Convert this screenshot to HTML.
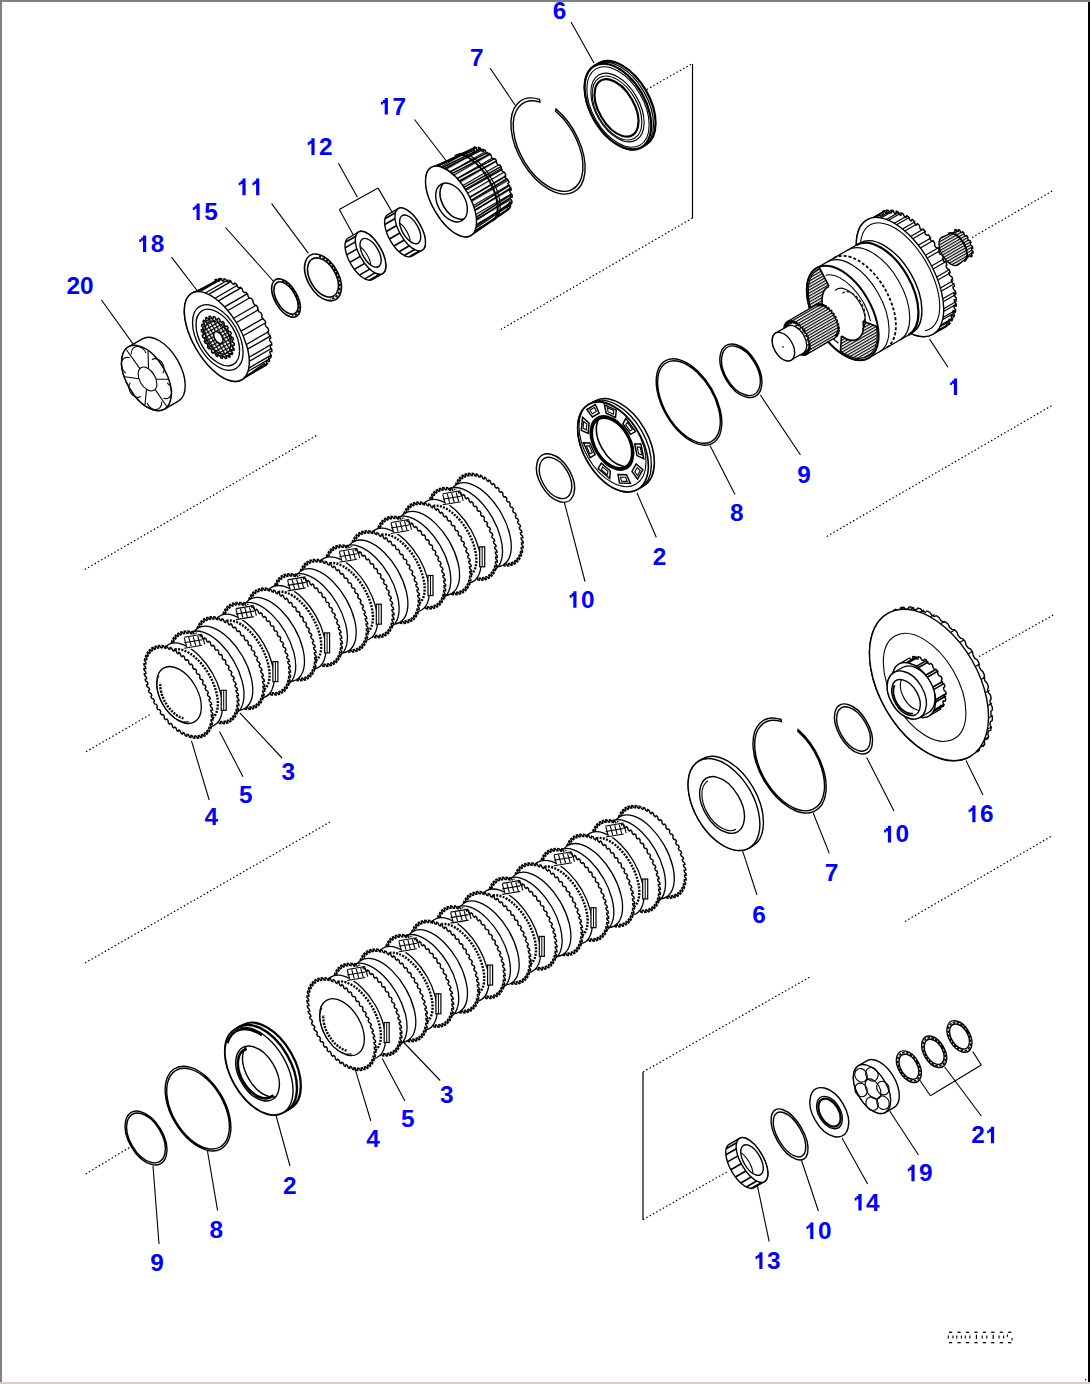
<!DOCTYPE html>
<html><head><meta charset="utf-8"><style>
html,body{margin:0;padding:0;background:#fff;}
body{width:1090px;height:1384px;overflow:hidden;position:relative;}
svg{position:absolute;left:0;top:0;}
text{font-family:"Liberation Sans",sans-serif;font-weight:bold;font-size:24.4px;fill:#0000ff;}
</style></head><body>
<svg width="1090" height="1384" viewBox="0 0 1090 1384" stroke-linecap="butt" stroke-linejoin="miter">
<defs>
<pattern id="hU" width="8" height="3.2" patternUnits="userSpaceOnUse" patternTransform="rotate(-30)"><rect x="0" y="0" width="8" height="1.1" fill="#000"/></pattern>
<pattern id="hU2" width="8" height="2.6" patternUnits="userSpaceOnUse" patternTransform="rotate(-30)"><rect x="0" y="0" width="8" height="1.2" fill="#000"/></pattern>
<pattern id="hU4" width="8" height="4.5" patternUnits="userSpaceOnUse" patternTransform="rotate(-30)"><rect x="0" y="0" width="8" height="1.2" fill="#000"/></pattern>
<pattern id="xh" width="3.4" height="3.4" patternUnits="userSpaceOnUse" patternTransform="rotate(-30)"><rect x="0" y="0" width="3.4" height="1.2" fill="#000"/><rect x="0" y="0" width="1.2" height="3.4" fill="#000"/></pattern>
</defs>
<rect x="0" y="0" width="1090" height="1384" fill="#fff"/>
<line x1="646.8" y1="89.5" x2="691.7" y2="63.9" stroke="#000" stroke-width="1.2" stroke-dasharray="1.5 2.3"/>
<line x1="692.5" y1="218" x2="500.9" y2="329.5" stroke="#000" stroke-width="1.2" stroke-dasharray="1.5 2.3"/>
<line x1="972" y1="237.6" x2="1052.2" y2="191" stroke="#000" stroke-width="1.2" stroke-dasharray="1.5 2.3"/>
<line x1="84.7" y1="569.6" x2="316.3" y2="435.6" stroke="#000" stroke-width="1.2" stroke-dasharray="1.5 2.3"/>
<line x1="86" y1="751.8" x2="151" y2="714" stroke="#000" stroke-width="1.2" stroke-dasharray="1.5 2.3"/>
<line x1="826.8" y1="536.4" x2="1052.2" y2="405.3" stroke="#000" stroke-width="1.2" stroke-dasharray="1.5 2.3"/>
<line x1="979" y1="656.6" x2="1054.8" y2="614.2" stroke="#000" stroke-width="1.2" stroke-dasharray="1.5 2.3"/>
<line x1="85" y1="963" x2="330" y2="822" stroke="#000" stroke-width="1.2" stroke-dasharray="1.5 2.3"/>
<line x1="905" y1="921.4" x2="1052.4" y2="835.6" stroke="#000" stroke-width="1.2" stroke-dasharray="1.5 2.3"/>
<line x1="85.7" y1="1174" x2="129.3" y2="1147.6" stroke="#000" stroke-width="1.2" stroke-dasharray="1.5 2.3"/>
<line x1="643" y1="1072" x2="810" y2="977" stroke="#000" stroke-width="1.2" stroke-dasharray="1.5 2.3"/>
<line x1="643" y1="1219.7" x2="726.7" y2="1172" stroke="#000" stroke-width="1.2" stroke-dasharray="1.5 2.3"/>
<line x1="692.5" y1="64" x2="692.5" y2="218" stroke="#000" stroke-width="1.2"/>
<line x1="643" y1="1072" x2="643" y2="1219.7" stroke="#000" stroke-width="1.2"/>
<line x1="101.3" y1="299.8" x2="133" y2="343.9" stroke="#000" stroke-width="1.1"/>
<line x1="171.5" y1="257.2" x2="199" y2="293" stroke="#000" stroke-width="1.1"/>
<line x1="225.5" y1="227.5" x2="275" y2="283" stroke="#000" stroke-width="1.1"/>
<line x1="271.6" y1="203.7" x2="308.3" y2="253.2" stroke="#000" stroke-width="1.1"/>
<line x1="338.4" y1="163.3" x2="357.4" y2="197.2" stroke="#000" stroke-width="1.1"/>
<line x1="339.3" y1="209.5" x2="378.1" y2="188.1" stroke="#000" stroke-width="1.1"/>
<line x1="339.3" y1="209.5" x2="353.3" y2="235.1" stroke="#000" stroke-width="1.1"/>
<line x1="378.1" y1="188.1" x2="392.1" y2="212" stroke="#000" stroke-width="1.1"/>
<line x1="414.5" y1="119.5" x2="447.5" y2="162.5" stroke="#000" stroke-width="1.1"/>
<line x1="490" y1="68" x2="515" y2="105" stroke="#000" stroke-width="1.1"/>
<line x1="571" y1="22" x2="594" y2="63" stroke="#000" stroke-width="1.1"/>
<line x1="929.6" y1="339.1" x2="948" y2="367.3" stroke="#000" stroke-width="1.1"/>
<line x1="760.4" y1="395" x2="800.5" y2="455" stroke="#000" stroke-width="1.1"/>
<line x1="710" y1="445.5" x2="735" y2="494.5" stroke="#000" stroke-width="1.1"/>
<line x1="637" y1="493" x2="656.3" y2="537.3" stroke="#000" stroke-width="1.1"/>
<line x1="564" y1="501" x2="585" y2="581.5" stroke="#000" stroke-width="1.1"/>
<line x1="191.5" y1="740.8" x2="209.2" y2="800" stroke="#000" stroke-width="1.1"/>
<line x1="219.5" y1="731.5" x2="243" y2="776.7" stroke="#000" stroke-width="1.1"/>
<line x1="239.8" y1="712.8" x2="282" y2="758" stroke="#000" stroke-width="1.1"/>
<line x1="742.1" y1="849.4" x2="757" y2="895" stroke="#000" stroke-width="1.1"/>
<line x1="813.2" y1="813" x2="829.3" y2="853.4" stroke="#000" stroke-width="1.1"/>
<line x1="866.7" y1="757.5" x2="894" y2="811" stroke="#000" stroke-width="1.1"/>
<line x1="966" y1="760.5" x2="983" y2="795" stroke="#000" stroke-width="1.1"/>
<line x1="355" y1="1068.6" x2="370.8" y2="1121" stroke="#000" stroke-width="1.1"/>
<line x1="382.2" y1="1058.4" x2="404.9" y2="1101" stroke="#000" stroke-width="1.1"/>
<line x1="402.8" y1="1041.5" x2="440.2" y2="1080.5" stroke="#000" stroke-width="1.1"/>
<line x1="153" y1="1166" x2="159" y2="1244" stroke="#000" stroke-width="1.1"/>
<line x1="207.3" y1="1150" x2="217.6" y2="1210.7" stroke="#000" stroke-width="1.1"/>
<line x1="276" y1="1115.5" x2="290" y2="1166" stroke="#000" stroke-width="1.1"/>
<line x1="755.6" y1="1177.2" x2="769.2" y2="1241.7" stroke="#000" stroke-width="1.1"/>
<line x1="801.4" y1="1160" x2="818.4" y2="1211" stroke="#000" stroke-width="1.1"/>
<line x1="842" y1="1138" x2="867.6" y2="1184" stroke="#000" stroke-width="1.1"/>
<line x1="889.7" y1="1111" x2="918.5" y2="1155" stroke="#000" stroke-width="1.1"/>
<line x1="944.7" y1="1067" x2="981.3" y2="1116" stroke="#000" stroke-width="1.1"/>
<line x1="920" y1="1080.5" x2="930.4" y2="1095.8" stroke="#000" stroke-width="1.1"/>
<line x1="930.4" y1="1095.8" x2="981.3" y2="1065" stroke="#000" stroke-width="1.1"/>
<line x1="981.3" y1="1065" x2="972.8" y2="1051.6" stroke="#000" stroke-width="1.1"/>
<rect x="949.0" y="1331.6" width="3.2" height="1.3" fill="#000"/>
<rect x="949.0" y="1342" width="3.2" height="1.3" fill="#000"/>
<rect x="947.8" y="1335.5" width="1.1" height="3" fill="#000"/>
<rect x="952.4" y="1335.5" width="1.1" height="3" fill="#000"/>
<rect x="957.5" y="1331.6" width="3.2" height="1.3" fill="#000"/>
<rect x="957.5" y="1342" width="3.2" height="1.3" fill="#000"/>
<rect x="956.2" y="1335.5" width="1.1" height="3" fill="#000"/>
<rect x="960.9" y="1335.5" width="1.1" height="3" fill="#000"/>
<rect x="965.9" y="1331.6" width="3.2" height="1.3" fill="#000"/>
<rect x="965.9" y="1342" width="3.2" height="1.3" fill="#000"/>
<rect x="964.7" y="1335.5" width="1.1" height="3" fill="#000"/>
<rect x="969.3" y="1335.5" width="1.1" height="3" fill="#000"/>
<rect x="974.4" y="1331.6" width="3.2" height="1.3" fill="#000"/>
<rect x="974.4" y="1342" width="3.2" height="1.3" fill="#000"/>
<rect x="975.8" y="1334.8" width="1.2" height="4.2" fill="#000"/>
<rect x="982.8" y="1331.6" width="3.2" height="1.3" fill="#000"/>
<rect x="982.8" y="1342" width="3.2" height="1.3" fill="#000"/>
<rect x="981.6" y="1335.5" width="1.1" height="3" fill="#000"/>
<rect x="986.2" y="1335.5" width="1.1" height="3" fill="#000"/>
<rect x="991.2" y="1331.6" width="3.2" height="1.3" fill="#000"/>
<rect x="991.2" y="1342" width="3.2" height="1.3" fill="#000"/>
<rect x="992.6" y="1334.8" width="1.2" height="4.2" fill="#000"/>
<rect x="999.7" y="1331.6" width="3.2" height="1.3" fill="#000"/>
<rect x="999.7" y="1342" width="3.2" height="1.3" fill="#000"/>
<rect x="998.5" y="1335.5" width="1.1" height="3" fill="#000"/>
<rect x="1003.1" y="1335.5" width="1.1" height="3" fill="#000"/>
<rect x="1008.1" y="1331.6" width="3.2" height="1.3" fill="#000"/>
<rect x="1008.1" y="1342" width="3.2" height="1.3" fill="#000"/>
<rect x="1006.9" y="1334.5" width="1.1" height="2.4" fill="#000"/>
<rect x="1011.5" y="1338" width="1.1" height="2.4" fill="#000"/>
<rect x="1085" y="1379" width="1.3" height="1.3" fill="#000"/>
<path d="M164.5 409.2 A19.8 36 -30 0 1 129.4 387.9 A19.8 36 -30 0 1 128.5 346.8 L142.4 338.8 A19.8 36 -30 0 1 177.5 360.1 A19.8 36 -30 0 1 178.4 401.2Z" fill="#fff" stroke="#000" stroke-width="1.4"/>
<path d="M163.6 368.1 A19.8 36 -30 0 1 153.5 409.9 A19.8 36 -30 0 1 122.3 355.9 A19.8 36 -30 0 1 163.6 368.1Z" fill="#fff" stroke="#000" stroke-width="1.4" fill-rule="evenodd"/>
<ellipse cx="147.5" cy="379" rx="7.8" ry="13" transform="rotate(-30 147.5 379)" fill="none" stroke="#000" stroke-width="1.1"/>
<line x1="156.1" y1="379.2" x2="168.2" y2="379.3" stroke="#000" stroke-width="1.1"/>
<line x1="155.1" y1="389.4" x2="166.6" y2="406.2" stroke="#000" stroke-width="1.1"/>
<line x1="146.5" y1="389.2" x2="145" y2="404.9" stroke="#000" stroke-width="1.1"/>
<line x1="138.9" y1="378.8" x2="124.8" y2="376.7" stroke="#000" stroke-width="1.1"/>
<line x1="139.9" y1="368.6" x2="126.4" y2="349.8" stroke="#000" stroke-width="1.1"/>
<line x1="148.5" y1="368.8" x2="148" y2="351.1" stroke="#000" stroke-width="1.1"/>
<path d="M167.2 383 A7.2 9 -30 0 1 163.4 398.3" fill="none" stroke="#000" stroke-width="1.1"/>
<path d="M161.7 401.6 A7.2 9 -30 0 1 147.1 403" fill="none" stroke="#000" stroke-width="1.1"/>
<path d="M141 396.6 A7.2 9 -30 0 1 130.2 382.7" fill="none" stroke="#000" stroke-width="1.1"/>
<path d="M125.8 373 A7.2 9 -30 0 1 129.6 357.7" fill="none" stroke="#000" stroke-width="1.1"/>
<path d="M131.3 354.4 A7.2 9 -30 0 1 145.9 353" fill="none" stroke="#000" stroke-width="1.1"/>
<path d="M152 359.4 A7.2 9 -30 0 1 162.8 373.3" fill="none" stroke="#000" stroke-width="1.1"/>
<path d="M241.8 379.8 A24 50 -30 0 1 196 348.5 A24 50 -30 0 1 191.8 293.2 L215.6 282.4l-0.5 -2.6 1.2 -0.5 1.9 2 1.2 -0.3 -0.2 -2.4 1.4 -0.1 1.8 2.3 1.4 0.1 0.2 -2.1 1.5 0.3 1.7 2.5 1.5 0.5 0.5 -1.8 1.6 0.7 1.5 2.6 1.6 0.9 0.8 -1.4 1.7 1.1 1.2 2.7 1.6 1.2 1.1 -0.9 1.7 1.4 0.9 2.7 1.6 1.5 1.4 -0.5 1.7 1.7 0.6 2.6 1.5 1.8 1.6 -0 1.6 2 0.3 2.4 1.4 2 1.8 0.5 1.4 2.2 -0.1 2.2 1.3 2.1 1.9 0.9 1.2 2.3 -0.4 1.9 1.1 2.2 2 1.3 1 2.4 -0.7 1.5 0.9 2.2 2 1.7 0.8 2.3 -1 1.1 0.6 2.2 1.9 2.1 0.5 2.2 -1.3 0.6 0.3 2.1 1.8 2.3 0.2 2.1 -1.5 0.2 0 1.9 1.6 2.5 -0.1 1.9 -1.7 -0.3 -0.2 1.6 1.4 2.7 -0.4 1.6 -1.9 -0.8 -0.5 1.3 1.1 2.7 -0.7 1.2 -1.9 -1.2 -0.8 1 0.8 2.7 -0.9 0.9 -2 -1.6 -1 0.7Z" fill="#fff" stroke="#000" stroke-width="1.4"/>
<line x1="196.9" y1="291.6" x2="219.5" y2="278.6" stroke="#000" stroke-width="1.3"/>
<line x1="199.7" y1="291.6" x2="222.3" y2="278.6" stroke="#000" stroke-width="1.3"/>
<line x1="205.4" y1="293" x2="228" y2="280" stroke="#000" stroke-width="1.3"/>
<line x1="208.7" y1="294.4" x2="231.2" y2="281.4" stroke="#000" stroke-width="1.3"/>
<line x1="215" y1="298.2" x2="237.5" y2="285.2" stroke="#000" stroke-width="1.3"/>
<line x1="218.4" y1="300.9" x2="240.9" y2="287.9" stroke="#000" stroke-width="1.3"/>
<line x1="224.6" y1="306.9" x2="247.1" y2="293.9" stroke="#000" stroke-width="1.3"/>
<line x1="227.9" y1="310.5" x2="250.4" y2="297.5" stroke="#000" stroke-width="1.3"/>
<line x1="233.6" y1="318.2" x2="256.1" y2="305.2" stroke="#000" stroke-width="1.3"/>
<line x1="236.4" y1="322.5" x2="258.9" y2="309.5" stroke="#000" stroke-width="1.3"/>
<line x1="241.1" y1="331.1" x2="263.6" y2="318.1" stroke="#000" stroke-width="1.3"/>
<line x1="243.2" y1="335.8" x2="265.7" y2="322.8" stroke="#000" stroke-width="1.3"/>
<line x1="246.4" y1="344.5" x2="268.9" y2="331.5" stroke="#000" stroke-width="1.3"/>
<line x1="247.6" y1="349.1" x2="270.2" y2="336.1" stroke="#000" stroke-width="1.3"/>
<line x1="249.1" y1="357.3" x2="271.6" y2="344.3" stroke="#000" stroke-width="1.3"/>
<line x1="249.3" y1="361.3" x2="271.8" y2="348.3" stroke="#000" stroke-width="1.3"/>
<line x1="248.8" y1="368.1" x2="271.3" y2="355.1" stroke="#000" stroke-width="1.3"/>
<line x1="248.1" y1="371.3" x2="270.6" y2="358.3" stroke="#000" stroke-width="1.3"/>
<line x1="245.7" y1="376.1" x2="268.2" y2="363.1" stroke="#000" stroke-width="1.3"/>
<line x1="244" y1="378.1" x2="266.5" y2="365.1" stroke="#000" stroke-width="1.3"/>
<path d="M237.6 324.5 A24 50 -30 0 1 228.1 380 A24 50 -30 0 1 184.8 305 A24 50 -30 0 1 237.6 324.5Z" fill="#fff" stroke="#000" stroke-width="1.4" fill-rule="evenodd"/>
<ellipse cx="217.8" cy="337.5" rx="20.5" ry="36" transform="rotate(-30 217.8 337.5)" fill="none" stroke="#000" stroke-width="1.3"/>
<ellipse cx="217.8" cy="337.5" rx="17.7" ry="31" transform="rotate(-30 217.8 337.5)" fill="none" stroke="#000" stroke-width="1.3"/>
<path d="M206.4 344.1 A13.2 22 -30 0 1 214 317.7 A13.2 22 -30 0 1 233 350.7 A13.2 22 -30 0 1 206.4 344.1 L217.7 337.5 A0.1 0.1 -30 0 0 217.9 337.6 A0.1 0.1 -30 0 0 217.8 337.4 A0.1 0.1 -30 0 0 217.7 337.5Z" fill="url(#xh)" stroke="none"/>
<path d="M207.1 343.6l-1.9 -0.4 -0.9 -1.8 1 -1.5 -0.6 -1.6 -2 -1.1 -0.5 -1.8 1.4 -0.8 -0.3 -1.6 -1.9 -1.7 -0.1 -1.7 1.8 -0.1 0.1 -1.4 -1.7 -2.2 0.3 -1.5 2 0.6 0.4 -1.2 -1.3 -2.5 0.7 -1.1 2 1.3 0.7 -0.8 -0.8 -2.6 1 -0.7 1.9 1.8 1 -0.4 -0.3 -2.4 1.2 -0.2 1.6 2.3 1.2 0.1 0.3 -2.1 1.4 0.3 1.2 2.5 1.3 0.5 0.9 -1.6 1.4 0.8 0.7 2.5 1.2 0.9 1.3 -1 1.3 1.3 0.1 2.4 1.1 1.3 1.7 -0.3 1.2 1.6 -0.5 2 0.9 1.5 1.9 0.4 0.9 1.8 -1 1.5 0.6 1.6 2 1.1 0.5 1.8 -1.4 0.8 0.3 1.6 1.9 1.7 0.1 1.7 -1.8 0.1 -0.1 1.4 1.7 2.2 -0.3 1.5 -2 -0.6 -0.4 1.2 1.3 2.5 -0.7 1.1 -2 -1.3 -0.7 0.8 0.8 2.6 -1 0.7 -1.9 -1.8 -1 0.4 0.3 2.4 -1.2 0.2 -1.6 -2.3 -1.2 -0.1 -0.3 2.1 -1.4 -0.3 -1.2 -2.5 -1.3 -0.5 -0.9 1.6 -1.4 -0.8 -0.7 -2.5 -1.2 -0.9 -1.3 1 -1.3 -1.3 -0.1 -2.4 -1.1 -1.3 -1.7 0.3 -1.2 -1.6 0.5 -2 -0.9 -1.5" fill="none" stroke="#000" stroke-width="1.4"/>
<ellipse cx="217.8" cy="337.5" rx="10.8" ry="18" transform="rotate(-30 217.8 337.5)" fill="none" stroke="#000" stroke-width="1.2"/>
<path d="M221.7 335.6 A3.9 6.5 -30 0 1 219.4 343.4 A3.9 6.5 -30 0 1 213.8 333.6 A3.9 6.5 -30 0 1 221.7 335.6Z" fill="#fff" stroke="#000" stroke-width="1.6" fill-rule="evenodd"/>
<path d="M295.7 292.4 A11.2 21.2 -30 0 1 290.3 316.7 A11.2 21.2 -30 0 1 272 284.9 A11.2 21.2 -30 0 1 295.7 292.4Z M294.2 293.3 A9.4 17.8 -30 0 1 289.6 313.7 A9.4 17.8 -30 0 1 274.2 287 A9.4 17.8 -30 0 1 294.2 293.3Z" fill="#fff" stroke="#000" stroke-width="1.6" fill-rule="evenodd"/>
<path d="M282 280.8 A10.3 19.5 -30 0 1 292.1 315.6" fill="none" stroke="#000" stroke-width="1.6" stroke-dasharray="2.5 1.5"/>
<path d="M336.3 269.9 A15.3 25.5 -30 0 1 327.4 300.4 A15.3 25.5 -30 0 1 305.3 262.2 A15.3 25.5 -30 0 1 336.3 269.9Z M334.1 271.1 A12.8 21.3 -30 0 1 326.7 296.7 A12.8 21.3 -30 0 1 308.2 264.7 A12.8 21.3 -30 0 1 334.1 271.1Z" fill="#fff" stroke="#000" stroke-width="1.6" fill-rule="evenodd"/>
<path d="M318.9 256.4 A14 23.4 -30 0 1 329.8 298.9" fill="none" stroke="#000" stroke-width="1.8" stroke-dasharray="2.5 1.5"/>
<path d="M372.2 279.6 A10.8 24 -30 0 1 350.9 264.2 A10.8 24 -30 0 1 348.2 238 L358.6 232 A10.8 24 -30 0 1 380 247.4 A10.8 24 -30 0 1 382.6 273.6Z" fill="#fff" stroke="#000" stroke-width="1.4"/>
<line x1="369.4" y1="280.3" x2="379.8" y2="274.3" stroke="#000" stroke-width="1.6"/>
<line x1="364.7" y1="278.9" x2="375.1" y2="272.9" stroke="#000" stroke-width="1.6"/>
<line x1="359.4" y1="275.1" x2="369.8" y2="269.1" stroke="#000" stroke-width="1.6"/>
<line x1="354.3" y1="269.4" x2="364.7" y2="263.4" stroke="#000" stroke-width="1.6"/>
<line x1="349.8" y1="262.4" x2="360.2" y2="256.4" stroke="#000" stroke-width="1.6"/>
<line x1="346.7" y1="254.9" x2="357.1" y2="248.9" stroke="#000" stroke-width="1.6"/>
<line x1="345.1" y1="247.9" x2="355.5" y2="241.9" stroke="#000" stroke-width="1.6"/>
<line x1="345.4" y1="242.2" x2="355.8" y2="236.2" stroke="#000" stroke-width="1.6"/>
<path d="M380 247.4 A10.8 24 -30 0 1 376.3 273.5 A10.8 24 -30 0 1 355.5 237.5 A10.8 24 -30 0 1 380 247.4Z M377.5 248.8 A8 16 -30 0 1 374.1 266.8 A8 16 -30 0 1 360.2 242.8 A8 16 -30 0 1 377.5 248.8Z" fill="#fff" stroke="#000" stroke-width="1.4" fill-rule="evenodd"/>
<clipPath id="c1"><ellipse cx="370.6" cy="252.8" rx="8" ry="16" transform="rotate(-30 370.6 252.8)"/></clipPath><g clip-path="url(#c1)">
<path d="M349.8 248.8 A8 16 -30 0 1 367.1 254.8 A8 16 -30 0 1 363.7 272.8" fill="none" stroke="#000" stroke-width="1.1"/>
</g>
<path d="M411.8 256.2 A10.8 24 -30 0 1 390.5 240.8 A10.8 24 -30 0 1 387.8 214.6 L398.2 208.6 A10.8 24 -30 0 1 419.6 224 A10.8 24 -30 0 1 422.2 250.2Z" fill="#fff" stroke="#000" stroke-width="1.4"/>
<line x1="409" y1="256.9" x2="419.4" y2="250.9" stroke="#000" stroke-width="1.6"/>
<line x1="404.3" y1="255.5" x2="414.7" y2="249.5" stroke="#000" stroke-width="1.6"/>
<line x1="399" y1="251.7" x2="409.4" y2="245.7" stroke="#000" stroke-width="1.6"/>
<line x1="393.9" y1="246" x2="404.3" y2="240" stroke="#000" stroke-width="1.6"/>
<line x1="389.4" y1="239" x2="399.8" y2="233" stroke="#000" stroke-width="1.6"/>
<line x1="386.3" y1="231.5" x2="396.7" y2="225.5" stroke="#000" stroke-width="1.6"/>
<line x1="384.7" y1="224.5" x2="395.1" y2="218.5" stroke="#000" stroke-width="1.6"/>
<line x1="385" y1="218.8" x2="395.4" y2="212.8" stroke="#000" stroke-width="1.6"/>
<path d="M419.6 224 A10.8 24 -30 0 1 415.9 250.1 A10.8 24 -30 0 1 395.1 214.1 A10.8 24 -30 0 1 419.6 224Z M417.1 225.4 A8 16 -30 0 1 413.7 243.4 A8 16 -30 0 1 399.8 219.4 A8 16 -30 0 1 417.1 225.4Z" fill="#fff" stroke="#000" stroke-width="1.4" fill-rule="evenodd"/>
<clipPath id="c2"><ellipse cx="410.2" cy="229.4" rx="8" ry="16" transform="rotate(-30 410.2 229.4)"/></clipPath><g clip-path="url(#c2)">
<path d="M389.4 225.4 A8 16 -30 0 1 406.7 231.4 A8 16 -30 0 1 403.3 249.4" fill="none" stroke="#000" stroke-width="1.1"/>
</g>
<path d="M470.7 235.6 A18.5 39.4 -30 0 1 435 210.8 A18.5 39.4 -30 0 1 431.3 167.4 L473.3 150.6l1.1 -0.4 -0.5 -2.9 1.3 -0.1 2 2.7 1.3 0.1 0 -2.5 1.5 0.4 1.7 3 1.5 0.6 0.5 -2 1.6 1 1.3 3.1 1.5 1.1 1 -1.4 1.7 1.4 0.9 3 1.5 1.5 1.5 -0.7 1.6 1.8 0.4 2.8 1.4 1.8 1.8 0.1 1.5 2.1 -0.2 2.4 1.2 2 2.1 0.8 1.2 2.3 -0.7 1.8 1 2.1 2.2 1.5 0.9 2.3 -1.2 1.2 0.7 2.1 2.2 2.1 0.5 2.2 -1.6 0.4 0.3 2 2.1 2.6 0.1 2 -1.9 -0.3 -0.1 1.7 1.8 2.9 -0.3 1.7 -2.1 -1 -0.4 1.3 1.5 3.1 -0.7 1.2 -2.2 -1.7 -0.8 0.9 1 3 -1 0.7Z" fill="#fff" stroke="none"/>
<path d="M470.7 235.6 A18.5 39.4 -30 0 1 435 210.8 A18.5 39.4 -30 0 1 431.3 167.4 L473.3 150.6l1.1 -0.4 -0.5 -2.9 1.3 -0.1 2 2.7 1.3 0.1 0 -2.5 1.5 0.4 1.7 3 1.5 0.6 0.5 -2 1.6 1 1.3 3.1 1.5 1.1 1 -1.4 1.7 1.4 0.9 3 1.5 1.5 1.5 -0.7 1.6 1.8 0.4 2.8 1.4 1.8 1.8 0.1 1.5 2.1 -0.2 2.4 1.2 2 2.1 0.8 1.2 2.3 -0.7 1.8 1 2.1 2.2 1.5 0.9 2.3 -1.2 1.2 0.7 2.1 2.2 2.1 0.5 2.2 -1.6 0.4 0.3 2 2.1 2.6 0.1 2 -1.9 -0.3 -0.1 1.7 1.8 2.9 -0.3 1.7 -2.1 -1 -0.4 1.3 1.5 3.1 -0.7 1.2 -2.2 -1.7 -0.8 0.9 1 3 -1 0.7Z" fill="url(#hU4)" stroke="#000" stroke-width="1.4"/>
<line x1="435.9" y1="166.1" x2="475.3" y2="147.2" stroke="#000" stroke-width="1.5"/>
<line x1="437.7" y1="166.2" x2="477" y2="147.3" stroke="#000" stroke-width="1.5"/>
<line x1="442.5" y1="167.5" x2="481.3" y2="148.4" stroke="#000" stroke-width="1.5"/>
<line x1="444.6" y1="168.5" x2="483.2" y2="149.3" stroke="#000" stroke-width="1.5"/>
<line x1="449.7" y1="171.8" x2="488" y2="152.4" stroke="#000" stroke-width="1.5"/>
<line x1="452" y1="173.6" x2="490" y2="154" stroke="#000" stroke-width="1.5"/>
<line x1="457.1" y1="178.6" x2="494.7" y2="158.6" stroke="#000" stroke-width="1.5"/>
<line x1="459.2" y1="181" x2="496.6" y2="160.8" stroke="#000" stroke-width="1.5"/>
<line x1="464" y1="187.4" x2="501" y2="166.6" stroke="#000" stroke-width="1.5"/>
<line x1="465.8" y1="190.2" x2="502.7" y2="169.2" stroke="#000" stroke-width="1.5"/>
<line x1="469.7" y1="197.3" x2="506.2" y2="175.7" stroke="#000" stroke-width="1.5"/>
<line x1="471.2" y1="200.4" x2="507.5" y2="178.5" stroke="#000" stroke-width="1.5"/>
<line x1="473.9" y1="207.7" x2="510" y2="185.1" stroke="#000" stroke-width="1.5"/>
<line x1="474.8" y1="210.7" x2="510.8" y2="187.9" stroke="#000" stroke-width="1.5"/>
<line x1="476.1" y1="217.5" x2="512" y2="194.1" stroke="#000" stroke-width="1.5"/>
<line x1="476.3" y1="220.1" x2="512.3" y2="196.5" stroke="#000" stroke-width="1.5"/>
<line x1="476.2" y1="225.9" x2="512.1" y2="201.8" stroke="#000" stroke-width="1.5"/>
<line x1="475.8" y1="228" x2="511.7" y2="203.7" stroke="#000" stroke-width="1.5"/>
<line x1="474.1" y1="232.2" x2="510.2" y2="207.6" stroke="#000" stroke-width="1.5"/>
<line x1="473.1" y1="233.7" x2="509.3" y2="208.9" stroke="#000" stroke-width="1.5"/>
<path d="M454.8 156 A17.6 37.5 -30 0 1 488.8 179.7 A17.6 37.5 -30 0 1 492.3 221" fill="none" stroke="#000" stroke-width="2.0"/>
<path d="M457.5 154.7 A17.5 37.3 -30 0 1 491.3 178.2 A17.5 37.3 -30 0 1 494.8 219.3" fill="none" stroke="#000" stroke-width="1.2"/>
<path d="M467 192.2 A18.5 39.4 -30 0 1 460 235.7 A18.5 39.4 -30 0 1 425.9 176.6 A18.5 39.4 -30 0 1 467 192.2Z" fill="#fff" stroke="#000" stroke-width="1.4" fill-rule="evenodd"/>
<ellipse cx="451.5" cy="202.5" rx="13.7" ry="21" transform="rotate(-30 451.5 202.5)" fill="#fff" stroke="#000" stroke-width="1.4"/>
<clipPath id="c3"><ellipse cx="451.5" cy="202.5" rx="13.7" ry="21" transform="rotate(-30 451.5 202.5)"/></clipPath><g clip-path="url(#c3)">
<path d="M470.8 212.3 A13.7 21 -30 0 1 444 206.8 A13.7 21 -30 0 1 452.6 180.8" fill="none" stroke="#000" stroke-width="1.6"/>
</g>
<path d="M556.1 109.1 A30 52.6 -30 0 1 548.2 188.8 A30 52.6 -30 0 1 539.5 99.4 L539.9 102.1 A28.3 49.6 -30 0 0 548.2 186.4 A28.3 49.6 -30 0 0 555.6 111.2Z" fill="#fff" stroke="#000" stroke-width="1.4"/>
<path d="M641.5 147.2 A27.3 47 -30 0 1 594.4 120.1 A27.3 47 -30 0 1 594.5 65.8 L598.8 63.3 A27.3 47 -30 0 1 645.9 90.4 A27.3 47 -30 0 1 645.8 144.7Z" fill="#fff" stroke="#000" stroke-width="2.2"/>
<path d="M596.7 64.5 A27.3 47 -30 0 1 643.8 91.6 A27.3 47 -30 0 1 643.7 146" fill="none" stroke="#000" stroke-width="1.2"/>
<path d="M641.6 92.9 A27.3 47 -30 0 1 626.5 148.6 A27.3 47 -30 0 1 585.8 78.1 A27.3 47 -30 0 1 641.6 92.9Z M631.8 99.2 A17.6 31.5 -30 0 1 622.5 136 A17.6 31.5 -30 0 1 595.2 88.8 A17.6 31.5 -30 0 1 631.8 99.2Z" fill="#fff" stroke="#000" stroke-width="2.2" fill-rule="evenodd"/>
<ellipse cx="618" cy="107" rx="25.5" ry="44" transform="rotate(-30 618 107)" fill="none" stroke="#000" stroke-width="1.1"/>
<ellipse cx="617.5" cy="107.5" rx="21.8" ry="37.5" transform="rotate(-30 617.5 107.5)" fill="none" stroke="#000" stroke-width="1.1"/>
<ellipse cx="617" cy="108" rx="20.3" ry="35" transform="rotate(-30 617 108)" fill="none" stroke="#000" stroke-width="1.1"/>
<path d="M933 334.2 A33 66 -30 0 1 871.4 293.5 A33 66 -30 0 1 867 219.8 L882.2 214.6l1.1 -0.5 -0.6 -2.9 1.2 -0.4 2.1 2.5 1.2 -0.2 -0.4 -2.8 1.3 -0.1 2 2.7 1.3 0 -0.1 -2.6 1.4 0.2 1.9 2.8 1.4 0.3 0.2 -2.4 1.5 0.5 1.7 3 1.5 0.6 0.5 -2.2 1.6 0.7 1.5 3 1.5 0.8 0.8 -1.9 1.6 1 1.2 3.1 1.6 1.1 1 -1.5 1.6 1.2 1 3.1 1.6 1.3 1.3 -1.2 1.6 1.5 0.7 3 1.5 1.5 1.5 -0.8 1.6 1.7 0.5 2.9 1.5 1.7 1.7 -0.5 1.5 1.8 0.2 2.7 1.4 1.8 1.9 -0.1 1.4 2 -0.1 2.5 1.3 1.9 2 0.3 1.3 2.1 -0.4 2.3 1.2 2 2.1 0.7 1.2 2.2 -0.7 2 1.1 2.1 2.2 1.1 1 2.2 -0.9 1.7 0.9 2.1 2.2 1.4 0.9 2.2 -1.2 1.3 0.8 2.1 2.3 1.7 0.7 2.2 -1.4 1 0.6 2.1 2.2 2 0.5 2.2 -1.6 0.6 0.4 2 2.2 2.3 0.3 2.1 -1.8 0.2 0.2 1.9 2.1 2.6 0.1 1.9 -2 -0.2 -0 1.8 1.9 2.7 -0.1 1.8 -2.1 -0.5 -0.2 1.6 1.8 2.9 -0.3 1.6 -2.2 -0.9 -0.4 1.4 1.6 3 -0.5 1.4 -2.2 -1.3 -0.6 1.2 1.4 3.1 -0.7 1.2 -2.3 -1.6 -0.8 1 1.2 3.1 -0.9 0.9 -2.2 -1.9 -0.9 0.8 0.9 3 -1.1 0.7Z" fill="#fff" stroke="#000" stroke-width="1.4"/>
<line x1="872.1" y1="217.9" x2="885.1" y2="210.4" stroke="#000" stroke-width="1.2"/>
<line x1="873.9" y1="217.6" x2="886.9" y2="210.1" stroke="#000" stroke-width="1.2"/>
<line x1="878.8" y1="217.7" x2="891.8" y2="210.2" stroke="#000" stroke-width="1.2"/>
<line x1="880.9" y1="218" x2="893.9" y2="210.5" stroke="#000" stroke-width="1.2"/>
<line x1="886.3" y1="219.5" x2="899.3" y2="212" stroke="#000" stroke-width="1.2"/>
<line x1="888.5" y1="220.3" x2="901.5" y2="212.8" stroke="#000" stroke-width="1.2"/>
<line x1="894.3" y1="223.3" x2="907.3" y2="215.8" stroke="#000" stroke-width="1.2"/>
<line x1="896.6" y1="224.7" x2="909.6" y2="217.2" stroke="#000" stroke-width="1.2"/>
<line x1="902.5" y1="229" x2="915.5" y2="221.5" stroke="#000" stroke-width="1.2"/>
<line x1="904.8" y1="230.9" x2="917.8" y2="223.4" stroke="#000" stroke-width="1.2"/>
<line x1="910.6" y1="236.4" x2="923.6" y2="228.9" stroke="#000" stroke-width="1.2"/>
<line x1="912.8" y1="238.8" x2="925.8" y2="231.3" stroke="#000" stroke-width="1.2"/>
<line x1="918.3" y1="245.3" x2="931.3" y2="237.8" stroke="#000" stroke-width="1.2"/>
<line x1="920.3" y1="248" x2="933.3" y2="240.5" stroke="#000" stroke-width="1.2"/>
<line x1="925.4" y1="255.2" x2="938.4" y2="247.7" stroke="#000" stroke-width="1.2"/>
<line x1="927.2" y1="258.1" x2="940.2" y2="250.6" stroke="#000" stroke-width="1.2"/>
<line x1="931.5" y1="265.9" x2="944.5" y2="258.4" stroke="#000" stroke-width="1.2"/>
<line x1="933.1" y1="269" x2="946.1" y2="261.5" stroke="#000" stroke-width="1.2"/>
<line x1="936.6" y1="277" x2="949.6" y2="269.5" stroke="#000" stroke-width="1.2"/>
<line x1="937.8" y1="280.1" x2="950.8" y2="272.6" stroke="#000" stroke-width="1.2"/>
<line x1="940.4" y1="288.1" x2="953.4" y2="280.6" stroke="#000" stroke-width="1.2"/>
<line x1="941.2" y1="291.2" x2="954.2" y2="283.7" stroke="#000" stroke-width="1.2"/>
<line x1="942.8" y1="298.8" x2="955.8" y2="291.3" stroke="#000" stroke-width="1.2"/>
<line x1="943.2" y1="301.7" x2="956.2" y2="294.2" stroke="#000" stroke-width="1.2"/>
<line x1="943.7" y1="308.8" x2="956.6" y2="301.3" stroke="#000" stroke-width="1.2"/>
<line x1="943.6" y1="311.4" x2="956.6" y2="303.9" stroke="#000" stroke-width="1.2"/>
<line x1="943" y1="317.6" x2="956" y2="310.1" stroke="#000" stroke-width="1.2"/>
<line x1="942.5" y1="319.8" x2="955.5" y2="312.3" stroke="#000" stroke-width="1.2"/>
<line x1="940.8" y1="325" x2="953.8" y2="317.5" stroke="#000" stroke-width="1.2"/>
<line x1="940" y1="326.8" x2="952.9" y2="319.3" stroke="#000" stroke-width="1.2"/>
<line x1="937.2" y1="330.7" x2="950.2" y2="323.2" stroke="#000" stroke-width="1.2"/>
<line x1="936" y1="332" x2="949" y2="324.5" stroke="#000" stroke-width="1.2"/>
<path d="M928.6 260.5 A33 66 -30 0 1 914.3 334.8 A33 66 -30 0 1 857.1 235.8 A33 66 -30 0 1 928.6 260.5Z" fill="#fff" stroke="#000" stroke-width="1.4" fill-rule="evenodd"/>
<path d="M862.5 264 A30 60 -30 0 1 910.9 241.4 A30 60 -30 0 1 925 330.8" fill="none" stroke="#000" stroke-width="1.1"/>
<path d="M958 264.9 A8.8 16 -30 0 1 942.4 255.4 A8.8 16 -30 0 1 942 237.1 L955.1 231.9l-0.4 -2 1 -0.3 1.4 1.7 1 0 0.2 -1.7 1.3 0.4 1 2.1 1.1 0.6 0.8 -1 1.3 1 0.5 2.1 1.1 1.1 1.3 -0.3 1.1 1.4 -0.1 1.8 0.9 1.4 1.6 0.6 0.8 1.7 -0.7 1.2 0.5 1.5 1.6 1.3 0.4 1.7 -1.2 0.4 0.1 1.4 1.4 1.8 -0.1 1.4 -1.5 -0.4 -0.3 1 0.9 2.1 -0.6 0.9 -1.6 -1.1 -0.7 0.5Z" fill="#fff" stroke="none"/>
<path d="M958 264.9 A8.8 16 -30 0 1 942.4 255.4 A8.8 16 -30 0 1 942 237.1 L955.1 231.9l-0.4 -2 1 -0.3 1.4 1.7 1 0 0.2 -1.7 1.3 0.4 1 2.1 1.1 0.6 0.8 -1 1.3 1 0.5 2.1 1.1 1.1 1.3 -0.3 1.1 1.4 -0.1 1.8 0.9 1.4 1.6 0.6 0.8 1.7 -0.7 1.2 0.5 1.5 1.6 1.3 0.4 1.7 -1.2 0.4 0.1 1.4 1.4 1.8 -0.1 1.4 -1.5 -0.4 -0.3 1 0.9 2.1 -0.6 0.9 -1.6 -1.1 -0.7 0.5Z" fill="url(#hU2)" stroke="#000" stroke-width="1.4"/>
<path d="M948.1 233.6 A8.8 16 -30 0 1 963.7 243.1 A8.8 16 -30 0 1 964.1 261.4" fill="none" stroke="#000" stroke-width="2.0"/>
<path d="M868.7 358 A28.6 52 -30 0 1 817.9 327.3 A28.6 52 -30 0 1 816.7 268 L860 243 A28.6 52 -30 0 1 910.8 273.7 A28.6 52 -30 0 1 912 333Z" fill="#fff" stroke="#000" stroke-width="1.4"/>
<path d="M827.1 262 A28.6 52 -30 0 1 877.9 292.7 A28.6 52 -30 0 1 879.1 352" fill="none" stroke="#000" stroke-width="1.1"/>
<path d="M834 258 A28.6 52 -30 0 1 884.8 288.7 A28.6 52 -30 0 1 886 348" fill="none" stroke="#000" stroke-width="1.8" stroke-dasharray="3 2"/>
<path d="M847.9 250 A28.6 52 -30 0 1 898.6 280.7 A28.6 52 -30 0 1 899.9 340" fill="none" stroke="#000" stroke-width="1.1"/>
<path d="M856.5 245 A28.6 52 -30 0 1 907.3 275.7 A28.6 52 -30 0 1 908.5 335" fill="none" stroke="#000" stroke-width="2.2"/>
<path d="M867.5 298.7 A28.6 52 -30 0 1 852.8 359.1 A28.6 52 -30 0 1 807.8 281.1 A28.6 52 -30 0 1 867.5 298.7Z" fill="#fff" stroke="#000" stroke-width="2.0" fill-rule="evenodd"/>
<path d="M816.8 322.9 A27.5 50 -30 0 1 819.9 268.7 L829 286.4 A16.5 30 -30 0 0 827.2 319Z" fill="url(#hU2)" stroke="none"/>
<path d="M876.5 326.6 A27.5 50 -30 0 1 840.5 351.4 L841.4 336 A16.5 30 -30 0 0 863 321.1Z" fill="url(#hU2)" stroke="none"/>
<path d="M816.8 322.9 A27.5 50 -30 0 1 819.9 268.7" fill="none" stroke="#000" stroke-width="1.3"/>
<path d="M876.5 326.6 A27.5 50 -30 0 1 840.5 351.4" fill="none" stroke="#000" stroke-width="1.3"/>
<path d="M827.2 319 A16.5 30 -30 0 1 829 286.4" fill="none" stroke="#000" stroke-width="1.6"/>
<path d="M863 321.1 A16.5 30 -30 0 1 841.4 336" fill="none" stroke="#000" stroke-width="1.6"/>
<line x1="827.2" y1="319" x2="815.8" y2="323.3" stroke="#000" stroke-width="1.6"/>
<line x1="829" y1="286.4" x2="819" y2="266.9" stroke="#000" stroke-width="1.6"/>
<line x1="863" y1="321.1" x2="877.9" y2="327.1" stroke="#000" stroke-width="1.6"/>
<line x1="841.4" y1="336" x2="840.4" y2="352.9" stroke="#000" stroke-width="1.6"/>
<path d="M825.5 275.2 A23.1 42 -30 0 1 870.5 321.2" fill="none" stroke="#000" stroke-width="1.1"/>
<path d="M838.4 343.3 A23.1 42 -30 0 1 822.7 324.6" fill="none" stroke="#000" stroke-width="1.1"/>
<path d="M834.9 290.7 A13.2 24 -30 0 1 857.9 299.9 A13.2 24 -30 0 1 862.5 329.3" fill="none" stroke="#000" stroke-width="1.1"/>
<path d="M842.3 293.5 A9.9 18 -30 0 1 859.6 300.4 A9.9 18 -30 0 1 863.1 322.5" fill="none" stroke="#000" stroke-width="1.1" stroke-dasharray="3 2"/>
<path d="M806.5 354.5 A10.5 19 -30 0 1 788 343.2 A10.5 19 -30 0 1 787.5 321.5 L816.9 304.5l1.3 1.5 0.5 -0.2 -0.5 -1.9 0.7 -0.1 1.2 1.8 0.6 -0 -0.2 -1.8 0.8 0.1 1 1.9 0.7 0.2 0.1 -1.6 0.8 0.3 0.7 1.9 0.7 0.4 0.4 -1.3 0.8 0.5 0.5 1.9 0.7 0.6 0.7 -1 0.8 0.7 0.2 1.8 0.7 0.7 1 -0.7 0.8 0.9 -0.2 1.6 0.6 0.8 1.2 -0.3 0.7 1 -0.5 1.3 0.5 0.9 1.3 0.1 0.6 1.1 -0.7 1 0.4 1 1.4 0.5 0.4 1.1 -1 0.6 0.3 1 1.5 0.9 0.3 1.1 -1.2 0.2 0.2 0.9 1.4 1.3 0.1 1 -1.3 -0.2 0 0.9 1.4 1.5 -0.1 0.9 -1.4 -0.6 -0.2 0.7 1.2 1.7 -0.3 0.7 -1.5 -0.9 -0.3 0.6 1 1.9 -0.4 0.6 -1.4 -1.3 -0.4 0.4 0.7 1.9 -0.5 0.4Z" fill="#fff" stroke="none"/>
<path d="M806.5 354.5 A10.5 19 -30 0 1 788 343.2 A10.5 19 -30 0 1 787.5 321.5 L816.9 304.5l1.3 1.5 0.5 -0.2 -0.5 -1.9 0.7 -0.1 1.2 1.8 0.6 -0 -0.2 -1.8 0.8 0.1 1 1.9 0.7 0.2 0.1 -1.6 0.8 0.3 0.7 1.9 0.7 0.4 0.4 -1.3 0.8 0.5 0.5 1.9 0.7 0.6 0.7 -1 0.8 0.7 0.2 1.8 0.7 0.7 1 -0.7 0.8 0.9 -0.2 1.6 0.6 0.8 1.2 -0.3 0.7 1 -0.5 1.3 0.5 0.9 1.3 0.1 0.6 1.1 -0.7 1 0.4 1 1.4 0.5 0.4 1.1 -1 0.6 0.3 1 1.5 0.9 0.3 1.1 -1.2 0.2 0.2 0.9 1.4 1.3 0.1 1 -1.3 -0.2 0 0.9 1.4 1.5 -0.1 0.9 -1.4 -0.6 -0.2 0.7 1.2 1.7 -0.3 0.7 -1.5 -0.9 -0.3 0.6 1 1.9 -0.4 0.6 -1.4 -1.3 -0.4 0.4 0.7 1.9 -0.5 0.4Z" fill="url(#hU2)" stroke="#000" stroke-width="1.4"/>
<path d="M805.1 333.3l1.3 0.1 0.6 1.1 -0.7 1 0.4 1 1.4 0.5 0.4 1.1 -1 0.6 0.3 1 1.5 0.9 0.3 1.1 -1.2 0.2 0.2 0.9 1.4 1.3 0.1 1 -1.3 -0.2 0 0.9 1.4 1.5 -0.1 0.9 -1.4 -0.6 -0.2 0.7 1.2 1.7 -0.3 0.7 -1.5 -0.9 -0.3 0.6 1 1.9 -0.4 0.6 -1.4 -1.3 -0.4 0.4 0.7 1.9 -0.5 0.4 -1.3 -1.5 -0.5 0.2 0.5 1.9 -0.7 0.1 -1.2 -1.8 -0.6 0 0.2 1.8 -0.8 -0.1 -1 -1.9 -0.7 -0.2 -0.1 1.6 -0.8 -0.3 -0.7 -1.9 -0.7 -0.4 -0.4 1.3 -0.8 -0.5 -0.5 -1.9 -0.7 -0.6 -0.7 1 -0.8 -0.7 -0.2 -1.8 -0.7 -0.7 -1 0.7 -0.8 -0.9 0.2 -1.6 -0.6 -0.8 -1.2 0.3 -0.7 -1 0.5 -1.3 -0.5 -0.9 -1.3 -0.1 -0.6 -1.1 0.7 -1 -0.4 -1 -1.4 -0.5 -0.4 -1.1 1 -0.6 -0.3 -1 -1.5 -0.9 -0.3 -1.1 1.2 -0.2 -0.2 -0.9 -1.4 -1.3 -0.1 -1 1.3 0.2 -0 -0.9 -1.4 -1.5 0.1 -0.9 1.4 0.6 0.2 -0.7 -1.2 -1.7 0.3 -0.7 1.5 0.9 0.3 -0.6 -1 -1.9 0.4 -0.6 1.4 1.3 0.4 -0.4 -0.7 -1.9 0.5 -0.4 1.3 1.5 0.5 -0.2 -0.5 -1.9 0.7 -0.1 1.2 1.8 0.6 -0 -0.2 -1.8 0.8 0.1 1 1.9 0.7 0.2 0.1 -1.6 0.8 0.3 0.7 1.9 0.7 0.4 0.4 -1.3 0.8 0.5 0.5 1.9 0.7 0.6 0.7 -1 0.8 0.7 0.2 1.8 0.7 0.7 1 -0.7 0.8 0.9 -0.2 1.6 0.6 0.8 1.2 -0.3 0.7 1 -0.5 1.3 0.5 0.9Z" fill="#fff" stroke="#000" stroke-width="1.4" fill-rule="evenodd"/>
<path d="M788.9 342.7 A9.4 17 -30 0 1 793.7 322.9 A9.4 17 -30 0 1 808.4 348.4 A9.4 17 -30 0 1 788.9 342.7 L797 338 A0.1 0.1 -30 0 0 797.1 338.1 A0.1 0.1 -30 0 0 797 337.9 A0.1 0.1 -30 0 0 797 338Z" fill="url(#hU4)" stroke="none"/>
<path d="M791.1 360 A9.3 15.5 -30 0 1 775.3 351.2 A9.3 15.5 -30 0 1 775.6 333.2 L787.8 326.2 A9.3 15.5 -30 0 1 803.6 335 A9.3 15.5 -30 0 1 803.3 353Z" fill="#fff" stroke="#000" stroke-width="1.4"/>
<path d="M791.5 342 A9.3 15.5 -30 0 1 786.1 360.6 A9.3 15.5 -30 0 1 772.7 337.3 A9.3 15.5 -30 0 1 791.5 342Z" fill="#fff" stroke="#000" stroke-width="1.4" fill-rule="evenodd"/>
<line x1="782" y1="347" x2="784" y2="347" stroke="#000" stroke-width="1.2"/>
<path d="M510.7 507.1l1.8 0.4 0.9 1.7 -0.7 1.6 0.8 1.6 1.9 0.8 0.8 1.7 -0.9 1.3 0.7 1.7 1.9 1.1 0.7 1.8 -1.1 1.1 0.6 1.7 1.9 1.4 0.5 1.7 -1.3 0.7 0.4 1.6 1.9 1.6 0.4 1.7 -1.5 0.4 0.3 1.6 1.9 1.9 0.2 1.6 -1.6 0.1 0.1 1.5 1.8 2.1 0.1 1.5 -1.7 -0.2 -0 1.4 1.7 2.3 -0.1 1.4 -1.8 -0.5 -0.2 1.3 1.6 2.4 -0.3 1.3 -1.9 -0.9 -0.3 1.1 1.4 2.5 -0.4 1.1 -1.9 -1.2 -0.5 1 1.2 2.6 -0.6 0.9 -1.9 -1.5 -0.6 0.8 1 2.6 -0.7 0.7 -1.9 -1.7 -0.8 0.6 0.8 2.6 -0.9 0.5 -1.9 -1.9 -0.9 0.4 0.6 2.5 -1 0.3 -1.8 -2.1 -1 0.2 0.4 2.4 -1.1 0.1 -1.7 -2.3 -1.1 -0 0.1 2.3 -1.2 -0.1 -1.5 -2.5 -1.1 -0.2 -0.1 2.1 -1.2 -0.3 -1.4 -2.5 -1.2 -0.4 -0.4 1.9 -1.3 -0.5 -1.2 -2.6 -1.2 -0.6 -0.6 1.7 -1.3 -0.8 -1 -2.6 -1.2 -0.8 -0.8 1.4 -1.3 -0.9 -0.8 -2.6 -1.2 -1 -1 1.1 -1.3 -1.1 -0.5 -2.5 -1.2 -1.1 -1.2 0.8 -1.3 -1.3 -0.3 -2.4 -1.2 -1.3 -1.4 0.5 -1.2 -1.4 -0 -2.3 -1.1 -1.4 -1.6 0.2 -1.1 -1.5 0.2 -2.1 -1 -1.5 -1.7 -0.1 -1 -1.6 0.4 -1.9 -0.9 -1.6 -1.8 -0.4 -0.9 -1.7 0.7 -1.6 -0.8 -1.6 -1.9 -0.8 -0.8 -1.7 0.9 -1.3 -0.7 -1.7 -1.9 -1.1 -0.7 -1.8 1.1 -1.1 -0.6 -1.7 -1.9 -1.4 -0.5 -1.7 1.3 -0.7 -0.4 -1.6 -1.9 -1.6 -0.4 -1.7 1.5 -0.4 -0.3 -1.6 -1.9 -1.9 -0.2 -1.6 1.6 -0.1 -0.1 -1.5 -1.8 -2.1 -0.1 -1.5 1.7 0.2 0 -1.4 -1.7 -2.3 0.1 -1.4 1.8 0.5 0.2 -1.3 -1.6 -2.4 0.3 -1.3 1.9 0.9 0.3 -1.1 -1.4 -2.5 0.4 -1.1 1.9 1.2 0.5 -1 -1.2 -2.6 0.6 -0.9 1.9 1.5 0.6 -0.8 -1 -2.6 0.7 -0.7 1.9 1.7 0.8 -0.6 -0.8 -2.6 0.9 -0.5 1.9 1.9 0.9 -0.4 -0.6 -2.5 1 -0.3 1.8 2.1 1 -0.2 -0.4 -2.4 1.1 -0.1 1.7 2.3 1.1 0 -0.1 -2.3 1.2 0.1 1.5 2.5 1.1 0.2 0.1 -2.1 1.2 0.3 1.4 2.5 1.2 0.4 0.4 -1.9 1.3 0.5 1.2 2.6 1.2 0.6 0.6 -1.7 1.3 0.8 1 2.6 1.2 0.8 0.8 -1.4 1.3 0.9 0.8 2.6 1.2 1 1 -1.1 1.3 1.1 0.5 2.5 1.2 1.1 1.2 -0.8 1.3 1.3 0.3 2.4 1.2 1.3 1.4 -0.5 1.2 1.4 0 2.3 1.1 1.4 1.6 -0.2 1.1 1.5 -0.2 2.1 1 1.5 1.7 0.1 1 1.6 -0.4 1.9 0.9 1.6Z" fill="#fff" stroke="#000" stroke-width="1.4" fill-rule="evenodd"/>
<path d="M500.9 512.5 A24.2 46.5 -30 0 1 489.6 565.6 A24.2 46.5 -30 0 1 449.4 495.8 A24.2 46.5 -30 0 1 500.9 512.5Z" fill="#fff" stroke="#000" stroke-width="1.3" fill-rule="evenodd"/>
<path d="M492.2 517.4 A24.2 46.5 -30 0 1 480.9 570.4 A24.2 46.5 -30 0 1 440.7 500.6 A24.2 46.5 -30 0 1 492.2 517.4Z" fill="#fff" stroke="#000" stroke-width="1.3" fill-rule="evenodd"/>
<path d="M484.9 521.4l1.8 0.4 0.9 1.7 -0.7 1.6 0.8 1.6 1.9 0.8 0.8 1.7 -0.9 1.3 0.7 1.7 1.9 1.1 0.7 1.8 -1.1 1.1 0.6 1.7 1.9 1.4 0.5 1.7 -1.3 0.7 0.4 1.6 1.9 1.6 0.4 1.7 -1.5 0.4 0.3 1.6 1.9 1.9 0.2 1.6 -1.6 0.1 0.1 1.5 1.8 2.1 0.1 1.5 -1.7 -0.2 -0 1.4 1.7 2.3 -0.1 1.4 -1.8 -0.5 -0.2 1.3 1.6 2.4 -0.3 1.3 -1.9 -0.9 -0.3 1.1 1.4 2.5 -0.4 1.1 -1.9 -1.2 -0.5 1 1.2 2.6 -0.6 0.9 -1.9 -1.5 -0.6 0.8 1 2.6 -0.7 0.7 -1.9 -1.7 -0.8 0.6 0.8 2.6 -0.9 0.5 -1.9 -1.9 -0.9 0.4 0.6 2.5 -1 0.3 -1.8 -2.1 -1 0.2 0.4 2.4 -1.1 0.1 -1.7 -2.3 -1.1 -0 0.1 2.3 -1.2 -0.1 -1.5 -2.5 -1.1 -0.2 -0.1 2.1 -1.2 -0.3 -1.4 -2.5 -1.2 -0.4 -0.4 1.9 -1.3 -0.5 -1.2 -2.6 -1.2 -0.6 -0.6 1.7 -1.3 -0.8 -1 -2.6 -1.2 -0.8 -0.8 1.4 -1.3 -0.9 -0.8 -2.6 -1.2 -1 -1 1.1 -1.3 -1.1 -0.5 -2.5 -1.2 -1.1 -1.2 0.8 -1.3 -1.3 -0.3 -2.4 -1.2 -1.3 -1.4 0.5 -1.2 -1.4 -0 -2.3 -1.1 -1.4 -1.6 0.2 -1.1 -1.5 0.2 -2.1 -1 -1.5 -1.7 -0.1 -1 -1.6 0.4 -1.9 -0.9 -1.6 -1.8 -0.4 -0.9 -1.7 0.7 -1.6 -0.8 -1.6 -1.9 -0.8 -0.8 -1.7 0.9 -1.3 -0.7 -1.7 -1.9 -1.1 -0.7 -1.8 1.1 -1.1 -0.6 -1.7 -1.9 -1.4 -0.5 -1.7 1.3 -0.7 -0.4 -1.6 -1.9 -1.6 -0.4 -1.7 1.5 -0.4 -0.3 -1.6 -1.9 -1.9 -0.2 -1.6 1.6 -0.1 -0.1 -1.5 -1.8 -2.1 -0.1 -1.5 1.7 0.2 0 -1.4 -1.7 -2.3 0.1 -1.4 1.8 0.5 0.2 -1.3 -1.6 -2.4 0.3 -1.3 1.9 0.9 0.3 -1.1 -1.4 -2.5 0.4 -1.1 1.9 1.2 0.5 -1 -1.2 -2.6 0.6 -0.9 1.9 1.5 0.6 -0.8 -1 -2.6 0.7 -0.7 1.9 1.7 0.8 -0.6 -0.8 -2.6 0.9 -0.5 1.9 1.9 0.9 -0.4 -0.6 -2.5 1 -0.3 1.8 2.1 1 -0.2 -0.4 -2.4 1.1 -0.1 1.7 2.3 1.1 0 -0.1 -2.3 1.2 0.1 1.5 2.5 1.1 0.2 0.1 -2.1 1.2 0.3 1.4 2.5 1.2 0.4 0.4 -1.9 1.3 0.5 1.2 2.6 1.2 0.6 0.6 -1.7 1.3 0.8 1 2.6 1.2 0.8 0.8 -1.4 1.3 0.9 0.8 2.6 1.2 1 1 -1.1 1.3 1.1 0.5 2.5 1.2 1.1 1.2 -0.8 1.3 1.3 0.3 2.4 1.2 1.3 1.4 -0.5 1.2 1.4 0 2.3 1.1 1.4 1.6 -0.2 1.1 1.5 -0.2 2.1 1 1.5 1.7 0.1 1 1.6 -0.4 1.9 0.9 1.6Z" fill="#fff" stroke="#000" stroke-width="1.4" fill-rule="evenodd"/>
<path d="M470.7 529.3 A24.2 46.5 -30 0 1 459.4 582.3 A24.2 46.5 -30 0 1 419.2 512.6 A24.2 46.5 -30 0 1 470.7 529.3Z" fill="#fff" stroke="#000" stroke-width="1.3" fill-rule="evenodd"/>
<path d="M433.4 505.9 A20.5 39.5 -30 0 1 470.7 537.2 A20.5 39.5 -30 0 1 466.1 576.9" fill="none" stroke="#000" stroke-width="2.4" stroke-dasharray="2 1.3"/>
<path d="M459 535.8l1.8 0.4 0.9 1.7 -0.7 1.6 0.8 1.6 1.9 0.8 0.8 1.7 -0.9 1.3 0.7 1.7 1.9 1.1 0.7 1.8 -1.1 1.1 0.6 1.7 1.9 1.4 0.5 1.7 -1.3 0.7 0.4 1.6 1.9 1.6 0.4 1.7 -1.5 0.4 0.3 1.6 1.9 1.9 0.2 1.6 -1.6 0.1 0.1 1.5 1.8 2.1 0.1 1.5 -1.7 -0.2 -0 1.4 1.7 2.3 -0.1 1.4 -1.8 -0.5 -0.2 1.3 1.6 2.4 -0.3 1.3 -1.9 -0.9 -0.3 1.1 1.4 2.5 -0.4 1.1 -1.9 -1.2 -0.5 1 1.2 2.6 -0.6 0.9 -1.9 -1.5 -0.6 0.8 1 2.6 -0.7 0.7 -1.9 -1.7 -0.8 0.6 0.8 2.6 -0.9 0.5 -1.9 -1.9 -0.9 0.4 0.6 2.5 -1 0.3 -1.8 -2.1 -1 0.2 0.4 2.4 -1.1 0.1 -1.7 -2.3 -1.1 -0 0.1 2.3 -1.2 -0.1 -1.5 -2.5 -1.1 -0.2 -0.1 2.1 -1.2 -0.3 -1.4 -2.5 -1.2 -0.4 -0.4 1.9 -1.3 -0.5 -1.2 -2.6 -1.2 -0.6 -0.6 1.7 -1.3 -0.8 -1 -2.6 -1.2 -0.8 -0.8 1.4 -1.3 -0.9 -0.8 -2.6 -1.2 -1 -1 1.1 -1.3 -1.1 -0.5 -2.5 -1.2 -1.1 -1.2 0.8 -1.3 -1.3 -0.3 -2.4 -1.2 -1.3 -1.4 0.5 -1.2 -1.4 -0 -2.3 -1.1 -1.4 -1.6 0.2 -1.1 -1.5 0.2 -2.1 -1 -1.5 -1.7 -0.1 -1 -1.6 0.4 -1.9 -0.9 -1.6 -1.8 -0.4 -0.9 -1.7 0.7 -1.6 -0.8 -1.6 -1.9 -0.8 -0.8 -1.7 0.9 -1.3 -0.7 -1.7 -1.9 -1.1 -0.7 -1.8 1.1 -1.1 -0.6 -1.7 -1.9 -1.4 -0.5 -1.7 1.3 -0.7 -0.4 -1.6 -1.9 -1.6 -0.4 -1.7 1.5 -0.4 -0.3 -1.6 -1.9 -1.9 -0.2 -1.6 1.6 -0.1 -0.1 -1.5 -1.8 -2.1 -0.1 -1.5 1.7 0.2 0 -1.4 -1.7 -2.3 0.1 -1.4 1.8 0.5 0.2 -1.3 -1.6 -2.4 0.3 -1.3 1.9 0.9 0.3 -1.1 -1.4 -2.5 0.4 -1.1 1.9 1.2 0.5 -1 -1.2 -2.6 0.6 -0.9 1.9 1.5 0.6 -0.8 -1 -2.6 0.7 -0.7 1.9 1.7 0.8 -0.6 -0.8 -2.6 0.9 -0.5 1.9 1.9 0.9 -0.4 -0.6 -2.5 1 -0.3 1.8 2.1 1 -0.2 -0.4 -2.4 1.1 -0.1 1.7 2.3 1.1 0 -0.1 -2.3 1.2 0.1 1.5 2.5 1.1 0.2 0.1 -2.1 1.2 0.3 1.4 2.5 1.2 0.4 0.4 -1.9 1.3 0.5 1.2 2.6 1.2 0.6 0.6 -1.7 1.3 0.8 1 2.6 1.2 0.8 0.8 -1.4 1.3 0.9 0.8 2.6 1.2 1 1 -1.1 1.3 1.1 0.5 2.5 1.2 1.1 1.2 -0.8 1.3 1.3 0.3 2.4 1.2 1.3 1.4 -0.5 1.2 1.4 0 2.3 1.1 1.4 1.6 -0.2 1.1 1.5 -0.2 2.1 1 1.5 1.7 0.1 1 1.6 -0.4 1.9 0.9 1.6Z" fill="#fff" stroke="#000" stroke-width="1.4" fill-rule="evenodd"/>
<path d="M449.2 541.2 A24.2 46.5 -30 0 1 437.9 594.3 A24.2 46.5 -30 0 1 397.7 524.5 A24.2 46.5 -30 0 1 449.2 541.2Z" fill="#fff" stroke="#000" stroke-width="1.3" fill-rule="evenodd"/>
<path d="M440.5 546.1 A24.2 46.5 -30 0 1 429.2 599.1 A24.2 46.5 -30 0 1 389 529.3 A24.2 46.5 -30 0 1 440.5 546.1Z" fill="#fff" stroke="#000" stroke-width="1.3" fill-rule="evenodd"/>
<path d="M433.2 550.1l1.8 0.4 0.9 1.7 -0.7 1.6 0.8 1.6 1.9 0.8 0.8 1.7 -0.9 1.3 0.7 1.7 1.9 1.1 0.7 1.8 -1.1 1.1 0.6 1.7 1.9 1.4 0.5 1.7 -1.3 0.7 0.4 1.6 1.9 1.6 0.4 1.7 -1.5 0.4 0.3 1.6 1.9 1.9 0.2 1.6 -1.6 0.1 0.1 1.5 1.8 2.1 0.1 1.5 -1.7 -0.2 -0 1.4 1.7 2.3 -0.1 1.4 -1.8 -0.5 -0.2 1.3 1.6 2.4 -0.3 1.3 -1.9 -0.9 -0.3 1.1 1.4 2.5 -0.4 1.1 -1.9 -1.2 -0.5 1 1.2 2.6 -0.6 0.9 -1.9 -1.5 -0.6 0.8 1 2.6 -0.7 0.7 -1.9 -1.7 -0.8 0.6 0.8 2.6 -0.9 0.5 -1.9 -1.9 -0.9 0.4 0.6 2.5 -1 0.3 -1.8 -2.1 -1 0.2 0.4 2.4 -1.1 0.1 -1.7 -2.3 -1.1 -0 0.1 2.3 -1.2 -0.1 -1.5 -2.5 -1.1 -0.2 -0.1 2.1 -1.2 -0.3 -1.4 -2.5 -1.2 -0.4 -0.4 1.9 -1.3 -0.5 -1.2 -2.6 -1.2 -0.6 -0.6 1.7 -1.3 -0.8 -1 -2.6 -1.2 -0.8 -0.8 1.4 -1.3 -0.9 -0.8 -2.6 -1.2 -1 -1 1.1 -1.3 -1.1 -0.5 -2.5 -1.2 -1.1 -1.2 0.8 -1.3 -1.3 -0.3 -2.4 -1.2 -1.3 -1.4 0.5 -1.2 -1.4 -0 -2.3 -1.1 -1.4 -1.6 0.2 -1.1 -1.5 0.2 -2.1 -1 -1.5 -1.7 -0.1 -1 -1.6 0.4 -1.9 -0.9 -1.6 -1.8 -0.4 -0.9 -1.7 0.7 -1.6 -0.8 -1.6 -1.9 -0.8 -0.8 -1.7 0.9 -1.3 -0.7 -1.7 -1.9 -1.1 -0.7 -1.8 1.1 -1.1 -0.6 -1.7 -1.9 -1.4 -0.5 -1.7 1.3 -0.7 -0.4 -1.6 -1.9 -1.6 -0.4 -1.7 1.5 -0.4 -0.3 -1.6 -1.9 -1.9 -0.2 -1.6 1.6 -0.1 -0.1 -1.5 -1.8 -2.1 -0.1 -1.5 1.7 0.2 0 -1.4 -1.7 -2.3 0.1 -1.4 1.8 0.5 0.2 -1.3 -1.6 -2.4 0.3 -1.3 1.9 0.9 0.3 -1.1 -1.4 -2.5 0.4 -1.1 1.9 1.2 0.5 -1 -1.2 -2.6 0.6 -0.9 1.9 1.5 0.6 -0.8 -1 -2.6 0.7 -0.7 1.9 1.7 0.8 -0.6 -0.8 -2.6 0.9 -0.5 1.9 1.9 0.9 -0.4 -0.6 -2.5 1 -0.3 1.8 2.1 1 -0.2 -0.4 -2.4 1.1 -0.1 1.7 2.3 1.1 0 -0.1 -2.3 1.2 0.1 1.5 2.5 1.1 0.2 0.1 -2.1 1.2 0.3 1.4 2.5 1.2 0.4 0.4 -1.9 1.3 0.5 1.2 2.6 1.2 0.6 0.6 -1.7 1.3 0.8 1 2.6 1.2 0.8 0.8 -1.4 1.3 0.9 0.8 2.6 1.2 1 1 -1.1 1.3 1.1 0.5 2.5 1.2 1.1 1.2 -0.8 1.3 1.3 0.3 2.4 1.2 1.3 1.4 -0.5 1.2 1.4 0 2.3 1.1 1.4 1.6 -0.2 1.1 1.5 -0.2 2.1 1 1.5 1.7 0.1 1 1.6 -0.4 1.9 0.9 1.6Z" fill="#fff" stroke="#000" stroke-width="1.4" fill-rule="evenodd"/>
<path d="M419 558 A24.2 46.5 -30 0 1 407.7 611 A24.2 46.5 -30 0 1 367.5 541.3 A24.2 46.5 -30 0 1 419 558Z" fill="#fff" stroke="#000" stroke-width="1.3" fill-rule="evenodd"/>
<path d="M381.7 534.6 A20.5 39.5 -30 0 1 419 565.9 A20.5 39.5 -30 0 1 414.4 605.6" fill="none" stroke="#000" stroke-width="2.4" stroke-dasharray="2 1.3"/>
<path d="M407.3 564.5l1.8 0.4 0.9 1.7 -0.7 1.6 0.8 1.6 1.9 0.8 0.8 1.7 -0.9 1.3 0.7 1.7 1.9 1.1 0.7 1.8 -1.1 1.1 0.6 1.7 1.9 1.4 0.5 1.7 -1.3 0.7 0.4 1.6 1.9 1.6 0.4 1.7 -1.5 0.4 0.3 1.6 1.9 1.9 0.2 1.6 -1.6 0.1 0.1 1.5 1.8 2.1 0.1 1.5 -1.7 -0.2 -0 1.4 1.7 2.3 -0.1 1.4 -1.8 -0.5 -0.2 1.3 1.6 2.4 -0.3 1.3 -1.9 -0.9 -0.3 1.1 1.4 2.5 -0.4 1.1 -1.9 -1.2 -0.5 1 1.2 2.6 -0.6 0.9 -1.9 -1.5 -0.6 0.8 1 2.6 -0.7 0.7 -1.9 -1.7 -0.8 0.6 0.8 2.6 -0.9 0.5 -1.9 -1.9 -0.9 0.4 0.6 2.5 -1 0.3 -1.8 -2.1 -1 0.2 0.4 2.4 -1.1 0.1 -1.7 -2.3 -1.1 -0 0.1 2.3 -1.2 -0.1 -1.5 -2.5 -1.1 -0.2 -0.1 2.1 -1.2 -0.3 -1.4 -2.5 -1.2 -0.4 -0.4 1.9 -1.3 -0.5 -1.2 -2.6 -1.2 -0.6 -0.6 1.7 -1.3 -0.8 -1 -2.6 -1.2 -0.8 -0.8 1.4 -1.3 -0.9 -0.8 -2.6 -1.2 -1 -1 1.1 -1.3 -1.1 -0.5 -2.5 -1.2 -1.1 -1.2 0.8 -1.3 -1.3 -0.3 -2.4 -1.2 -1.3 -1.4 0.5 -1.2 -1.4 -0 -2.3 -1.1 -1.4 -1.6 0.2 -1.1 -1.5 0.2 -2.1 -1 -1.5 -1.7 -0.1 -1 -1.6 0.4 -1.9 -0.9 -1.6 -1.8 -0.4 -0.9 -1.7 0.7 -1.6 -0.8 -1.6 -1.9 -0.8 -0.8 -1.7 0.9 -1.3 -0.7 -1.7 -1.9 -1.1 -0.7 -1.8 1.1 -1.1 -0.6 -1.7 -1.9 -1.4 -0.5 -1.7 1.3 -0.7 -0.4 -1.6 -1.9 -1.6 -0.4 -1.7 1.5 -0.4 -0.3 -1.6 -1.9 -1.9 -0.2 -1.6 1.6 -0.1 -0.1 -1.5 -1.8 -2.1 -0.1 -1.5 1.7 0.2 0 -1.4 -1.7 -2.3 0.1 -1.4 1.8 0.5 0.2 -1.3 -1.6 -2.4 0.3 -1.3 1.9 0.9 0.3 -1.1 -1.4 -2.5 0.4 -1.1 1.9 1.2 0.5 -1 -1.2 -2.6 0.6 -0.9 1.9 1.5 0.6 -0.8 -1 -2.6 0.7 -0.7 1.9 1.7 0.8 -0.6 -0.8 -2.6 0.9 -0.5 1.9 1.9 0.9 -0.4 -0.6 -2.5 1 -0.3 1.8 2.1 1 -0.2 -0.4 -2.4 1.1 -0.1 1.7 2.3 1.1 0 -0.1 -2.3 1.2 0.1 1.5 2.5 1.1 0.2 0.1 -2.1 1.2 0.3 1.4 2.5 1.2 0.4 0.4 -1.9 1.3 0.5 1.2 2.6 1.2 0.6 0.6 -1.7 1.3 0.8 1 2.6 1.2 0.8 0.8 -1.4 1.3 0.9 0.8 2.6 1.2 1 1 -1.1 1.3 1.1 0.5 2.5 1.2 1.1 1.2 -0.8 1.3 1.3 0.3 2.4 1.2 1.3 1.4 -0.5 1.2 1.4 0 2.3 1.1 1.4 1.6 -0.2 1.1 1.5 -0.2 2.1 1 1.5 1.7 0.1 1 1.6 -0.4 1.9 0.9 1.6Z" fill="#fff" stroke="#000" stroke-width="1.4" fill-rule="evenodd"/>
<path d="M397.5 569.9 A24.2 46.5 -30 0 1 386.2 623 A24.2 46.5 -30 0 1 346 553.2 A24.2 46.5 -30 0 1 397.5 569.9Z" fill="#fff" stroke="#000" stroke-width="1.3" fill-rule="evenodd"/>
<path d="M388.8 574.8 A24.2 46.5 -30 0 1 377.5 627.8 A24.2 46.5 -30 0 1 337.3 558 A24.2 46.5 -30 0 1 388.8 574.8Z" fill="#fff" stroke="#000" stroke-width="1.3" fill-rule="evenodd"/>
<path d="M381.5 578.8l1.8 0.4 0.9 1.7 -0.7 1.6 0.8 1.6 1.9 0.8 0.8 1.7 -0.9 1.3 0.7 1.7 1.9 1.1 0.7 1.8 -1.1 1.1 0.6 1.7 1.9 1.4 0.5 1.7 -1.3 0.7 0.4 1.6 1.9 1.6 0.4 1.7 -1.5 0.4 0.3 1.6 1.9 1.9 0.2 1.6 -1.6 0.1 0.1 1.5 1.8 2.1 0.1 1.5 -1.7 -0.2 -0 1.4 1.7 2.3 -0.1 1.4 -1.8 -0.5 -0.2 1.3 1.6 2.4 -0.3 1.3 -1.9 -0.9 -0.3 1.1 1.4 2.5 -0.4 1.1 -1.9 -1.2 -0.5 1 1.2 2.6 -0.6 0.9 -1.9 -1.5 -0.6 0.8 1 2.6 -0.7 0.7 -1.9 -1.7 -0.8 0.6 0.8 2.6 -0.9 0.5 -1.9 -1.9 -0.9 0.4 0.6 2.5 -1 0.3 -1.8 -2.1 -1 0.2 0.4 2.4 -1.1 0.1 -1.7 -2.3 -1.1 -0 0.1 2.3 -1.2 -0.1 -1.5 -2.5 -1.1 -0.2 -0.1 2.1 -1.2 -0.3 -1.4 -2.5 -1.2 -0.4 -0.4 1.9 -1.3 -0.5 -1.2 -2.6 -1.2 -0.6 -0.6 1.7 -1.3 -0.8 -1 -2.6 -1.2 -0.8 -0.8 1.4 -1.3 -0.9 -0.8 -2.6 -1.2 -1 -1 1.1 -1.3 -1.1 -0.5 -2.5 -1.2 -1.1 -1.2 0.8 -1.3 -1.3 -0.3 -2.4 -1.2 -1.3 -1.4 0.5 -1.2 -1.4 -0 -2.3 -1.1 -1.4 -1.6 0.2 -1.1 -1.5 0.2 -2.1 -1 -1.5 -1.7 -0.1 -1 -1.6 0.4 -1.9 -0.9 -1.6 -1.8 -0.4 -0.9 -1.7 0.7 -1.6 -0.8 -1.6 -1.9 -0.8 -0.8 -1.7 0.9 -1.3 -0.7 -1.7 -1.9 -1.1 -0.7 -1.8 1.1 -1.1 -0.6 -1.7 -1.9 -1.4 -0.5 -1.7 1.3 -0.7 -0.4 -1.6 -1.9 -1.6 -0.4 -1.7 1.5 -0.4 -0.3 -1.6 -1.9 -1.9 -0.2 -1.6 1.6 -0.1 -0.1 -1.5 -1.8 -2.1 -0.1 -1.5 1.7 0.2 0 -1.4 -1.7 -2.3 0.1 -1.4 1.8 0.5 0.2 -1.3 -1.6 -2.4 0.3 -1.3 1.9 0.9 0.3 -1.1 -1.4 -2.5 0.4 -1.1 1.9 1.2 0.5 -1 -1.2 -2.6 0.6 -0.9 1.9 1.5 0.6 -0.8 -1 -2.6 0.7 -0.7 1.9 1.7 0.8 -0.6 -0.8 -2.6 0.9 -0.5 1.9 1.9 0.9 -0.4 -0.6 -2.5 1 -0.3 1.8 2.1 1 -0.2 -0.4 -2.4 1.1 -0.1 1.7 2.3 1.1 0 -0.1 -2.3 1.2 0.1 1.5 2.5 1.1 0.2 0.1 -2.1 1.2 0.3 1.4 2.5 1.2 0.4 0.4 -1.9 1.3 0.5 1.2 2.6 1.2 0.6 0.6 -1.7 1.3 0.8 1 2.6 1.2 0.8 0.8 -1.4 1.3 0.9 0.8 2.6 1.2 1 1 -1.1 1.3 1.1 0.5 2.5 1.2 1.1 1.2 -0.8 1.3 1.3 0.3 2.4 1.2 1.3 1.4 -0.5 1.2 1.4 0 2.3 1.1 1.4 1.6 -0.2 1.1 1.5 -0.2 2.1 1 1.5 1.7 0.1 1 1.6 -0.4 1.9 0.9 1.6Z" fill="#fff" stroke="#000" stroke-width="1.4" fill-rule="evenodd"/>
<path d="M367.3 586.7 A24.2 46.5 -30 0 1 356 639.7 A24.2 46.5 -30 0 1 315.8 570 A24.2 46.5 -30 0 1 367.3 586.7Z" fill="#fff" stroke="#000" stroke-width="1.3" fill-rule="evenodd"/>
<path d="M330 563.3 A20.5 39.5 -30 0 1 367.3 594.6 A20.5 39.5 -30 0 1 362.7 634.3" fill="none" stroke="#000" stroke-width="2.4" stroke-dasharray="2 1.3"/>
<path d="M355.6 593.2l1.8 0.4 0.9 1.7 -0.7 1.6 0.8 1.6 1.9 0.8 0.8 1.7 -0.9 1.3 0.7 1.7 1.9 1.1 0.7 1.8 -1.1 1.1 0.6 1.7 1.9 1.4 0.5 1.7 -1.3 0.7 0.4 1.6 1.9 1.6 0.4 1.7 -1.5 0.4 0.3 1.6 1.9 1.9 0.2 1.6 -1.6 0.1 0.1 1.5 1.8 2.1 0.1 1.5 -1.7 -0.2 -0 1.4 1.7 2.3 -0.1 1.4 -1.8 -0.5 -0.2 1.3 1.6 2.4 -0.3 1.3 -1.9 -0.9 -0.3 1.1 1.4 2.5 -0.4 1.1 -1.9 -1.2 -0.5 1 1.2 2.6 -0.6 0.9 -1.9 -1.5 -0.6 0.8 1 2.6 -0.7 0.7 -1.9 -1.7 -0.8 0.6 0.8 2.6 -0.9 0.5 -1.9 -1.9 -0.9 0.4 0.6 2.5 -1 0.3 -1.8 -2.1 -1 0.2 0.4 2.4 -1.1 0.1 -1.7 -2.3 -1.1 -0 0.1 2.3 -1.2 -0.1 -1.5 -2.5 -1.1 -0.2 -0.1 2.1 -1.2 -0.3 -1.4 -2.5 -1.2 -0.4 -0.4 1.9 -1.3 -0.5 -1.2 -2.6 -1.2 -0.6 -0.6 1.7 -1.3 -0.8 -1 -2.6 -1.2 -0.8 -0.8 1.4 -1.3 -0.9 -0.8 -2.6 -1.2 -1 -1 1.1 -1.3 -1.1 -0.5 -2.5 -1.2 -1.1 -1.2 0.8 -1.3 -1.3 -0.3 -2.4 -1.2 -1.3 -1.4 0.5 -1.2 -1.4 -0 -2.3 -1.1 -1.4 -1.6 0.2 -1.1 -1.5 0.2 -2.1 -1 -1.5 -1.7 -0.1 -1 -1.6 0.4 -1.9 -0.9 -1.6 -1.8 -0.4 -0.9 -1.7 0.7 -1.6 -0.8 -1.6 -1.9 -0.8 -0.8 -1.7 0.9 -1.3 -0.7 -1.7 -1.9 -1.1 -0.7 -1.8 1.1 -1.1 -0.6 -1.7 -1.9 -1.4 -0.5 -1.7 1.3 -0.7 -0.4 -1.6 -1.9 -1.6 -0.4 -1.7 1.5 -0.4 -0.3 -1.6 -1.9 -1.9 -0.2 -1.6 1.6 -0.1 -0.1 -1.5 -1.8 -2.1 -0.1 -1.5 1.7 0.2 0 -1.4 -1.7 -2.3 0.1 -1.4 1.8 0.5 0.2 -1.3 -1.6 -2.4 0.3 -1.3 1.9 0.9 0.3 -1.1 -1.4 -2.5 0.4 -1.1 1.9 1.2 0.5 -1 -1.2 -2.6 0.6 -0.9 1.9 1.5 0.6 -0.8 -1 -2.6 0.7 -0.7 1.9 1.7 0.8 -0.6 -0.8 -2.6 0.9 -0.5 1.9 1.9 0.9 -0.4 -0.6 -2.5 1 -0.3 1.8 2.1 1 -0.2 -0.4 -2.4 1.1 -0.1 1.7 2.3 1.1 0 -0.1 -2.3 1.2 0.1 1.5 2.5 1.1 0.2 0.1 -2.1 1.2 0.3 1.4 2.5 1.2 0.4 0.4 -1.9 1.3 0.5 1.2 2.6 1.2 0.6 0.6 -1.7 1.3 0.8 1 2.6 1.2 0.8 0.8 -1.4 1.3 0.9 0.8 2.6 1.2 1 1 -1.1 1.3 1.1 0.5 2.5 1.2 1.1 1.2 -0.8 1.3 1.3 0.3 2.4 1.2 1.3 1.4 -0.5 1.2 1.4 0 2.3 1.1 1.4 1.6 -0.2 1.1 1.5 -0.2 2.1 1 1.5 1.7 0.1 1 1.6 -0.4 1.9 0.9 1.6Z" fill="#fff" stroke="#000" stroke-width="1.4" fill-rule="evenodd"/>
<path d="M345.8 598.6 A24.2 46.5 -30 0 1 334.5 651.7 A24.2 46.5 -30 0 1 294.3 581.9 A24.2 46.5 -30 0 1 345.8 598.6Z" fill="#fff" stroke="#000" stroke-width="1.3" fill-rule="evenodd"/>
<path d="M337.1 603.5 A24.2 46.5 -30 0 1 325.8 656.5 A24.2 46.5 -30 0 1 285.6 586.7 A24.2 46.5 -30 0 1 337.1 603.5Z" fill="#fff" stroke="#000" stroke-width="1.3" fill-rule="evenodd"/>
<path d="M329.8 607.5l1.8 0.4 0.9 1.7 -0.7 1.6 0.8 1.6 1.9 0.8 0.8 1.7 -0.9 1.3 0.7 1.7 1.9 1.1 0.7 1.8 -1.1 1.1 0.6 1.7 1.9 1.4 0.5 1.7 -1.3 0.7 0.4 1.6 1.9 1.6 0.4 1.7 -1.5 0.4 0.3 1.6 1.9 1.9 0.2 1.6 -1.6 0.1 0.1 1.5 1.8 2.1 0.1 1.5 -1.7 -0.2 -0 1.4 1.7 2.3 -0.1 1.4 -1.8 -0.5 -0.2 1.3 1.6 2.4 -0.3 1.3 -1.9 -0.9 -0.3 1.1 1.4 2.5 -0.4 1.1 -1.9 -1.2 -0.5 1 1.2 2.6 -0.6 0.9 -1.9 -1.5 -0.6 0.8 1 2.6 -0.7 0.7 -1.9 -1.7 -0.8 0.6 0.8 2.6 -0.9 0.5 -1.9 -1.9 -0.9 0.4 0.6 2.5 -1 0.3 -1.8 -2.1 -1 0.2 0.4 2.4 -1.1 0.1 -1.7 -2.3 -1.1 -0 0.1 2.3 -1.2 -0.1 -1.5 -2.5 -1.1 -0.2 -0.1 2.1 -1.2 -0.3 -1.4 -2.5 -1.2 -0.4 -0.4 1.9 -1.3 -0.5 -1.2 -2.6 -1.2 -0.6 -0.6 1.7 -1.3 -0.8 -1 -2.6 -1.2 -0.8 -0.8 1.4 -1.3 -0.9 -0.8 -2.6 -1.2 -1 -1 1.1 -1.3 -1.1 -0.5 -2.5 -1.2 -1.1 -1.2 0.8 -1.3 -1.3 -0.3 -2.4 -1.2 -1.3 -1.4 0.5 -1.2 -1.4 -0 -2.3 -1.1 -1.4 -1.6 0.2 -1.1 -1.5 0.2 -2.1 -1 -1.5 -1.7 -0.1 -1 -1.6 0.4 -1.9 -0.9 -1.6 -1.8 -0.4 -0.9 -1.7 0.7 -1.6 -0.8 -1.6 -1.9 -0.8 -0.8 -1.7 0.9 -1.3 -0.7 -1.7 -1.9 -1.1 -0.7 -1.8 1.1 -1.1 -0.6 -1.7 -1.9 -1.4 -0.5 -1.7 1.3 -0.7 -0.4 -1.6 -1.9 -1.6 -0.4 -1.7 1.5 -0.4 -0.3 -1.6 -1.9 -1.9 -0.2 -1.6 1.6 -0.1 -0.1 -1.5 -1.8 -2.1 -0.1 -1.5 1.7 0.2 0 -1.4 -1.7 -2.3 0.1 -1.4 1.8 0.5 0.2 -1.3 -1.6 -2.4 0.3 -1.3 1.9 0.9 0.3 -1.1 -1.4 -2.5 0.4 -1.1 1.9 1.2 0.5 -1 -1.2 -2.6 0.6 -0.9 1.9 1.5 0.6 -0.8 -1 -2.6 0.7 -0.7 1.9 1.7 0.8 -0.6 -0.8 -2.6 0.9 -0.5 1.9 1.9 0.9 -0.4 -0.6 -2.5 1 -0.3 1.8 2.1 1 -0.2 -0.4 -2.4 1.1 -0.1 1.7 2.3 1.1 0 -0.1 -2.3 1.2 0.1 1.5 2.5 1.1 0.2 0.1 -2.1 1.2 0.3 1.4 2.5 1.2 0.4 0.4 -1.9 1.3 0.5 1.2 2.6 1.2 0.6 0.6 -1.7 1.3 0.8 1 2.6 1.2 0.8 0.8 -1.4 1.3 0.9 0.8 2.6 1.2 1 1 -1.1 1.3 1.1 0.5 2.5 1.2 1.1 1.2 -0.8 1.3 1.3 0.3 2.4 1.2 1.3 1.4 -0.5 1.2 1.4 0 2.3 1.1 1.4 1.6 -0.2 1.1 1.5 -0.2 2.1 1 1.5 1.7 0.1 1 1.6 -0.4 1.9 0.9 1.6Z" fill="#fff" stroke="#000" stroke-width="1.4" fill-rule="evenodd"/>
<path d="M315.6 615.4 A24.2 46.5 -30 0 1 304.3 668.4 A24.2 46.5 -30 0 1 264.1 598.7 A24.2 46.5 -30 0 1 315.6 615.4Z" fill="#fff" stroke="#000" stroke-width="1.3" fill-rule="evenodd"/>
<path d="M278.3 592 A20.5 39.5 -30 0 1 315.6 623.3 A20.5 39.5 -30 0 1 311 663" fill="none" stroke="#000" stroke-width="2.4" stroke-dasharray="2 1.3"/>
<path d="M303.9 621.9l1.8 0.4 0.9 1.7 -0.7 1.6 0.8 1.6 1.9 0.8 0.8 1.7 -0.9 1.3 0.7 1.7 1.9 1.1 0.7 1.8 -1.1 1.1 0.6 1.7 1.9 1.4 0.5 1.7 -1.3 0.7 0.4 1.6 1.9 1.6 0.4 1.7 -1.5 0.4 0.3 1.6 1.9 1.9 0.2 1.6 -1.6 0.1 0.1 1.5 1.8 2.1 0.1 1.5 -1.7 -0.2 -0 1.4 1.7 2.3 -0.1 1.4 -1.8 -0.5 -0.2 1.3 1.6 2.4 -0.3 1.3 -1.9 -0.9 -0.3 1.1 1.4 2.5 -0.4 1.1 -1.9 -1.2 -0.5 1 1.2 2.6 -0.6 0.9 -1.9 -1.5 -0.6 0.8 1 2.6 -0.7 0.7 -1.9 -1.7 -0.8 0.6 0.8 2.6 -0.9 0.5 -1.9 -1.9 -0.9 0.4 0.6 2.5 -1 0.3 -1.8 -2.1 -1 0.2 0.4 2.4 -1.1 0.1 -1.7 -2.3 -1.1 -0 0.1 2.3 -1.2 -0.1 -1.5 -2.5 -1.1 -0.2 -0.1 2.1 -1.2 -0.3 -1.4 -2.5 -1.2 -0.4 -0.4 1.9 -1.3 -0.5 -1.2 -2.6 -1.2 -0.6 -0.6 1.7 -1.3 -0.8 -1 -2.6 -1.2 -0.8 -0.8 1.4 -1.3 -0.9 -0.8 -2.6 -1.2 -1 -1 1.1 -1.3 -1.1 -0.5 -2.5 -1.2 -1.1 -1.2 0.8 -1.3 -1.3 -0.3 -2.4 -1.2 -1.3 -1.4 0.5 -1.2 -1.4 -0 -2.3 -1.1 -1.4 -1.6 0.2 -1.1 -1.5 0.2 -2.1 -1 -1.5 -1.7 -0.1 -1 -1.6 0.4 -1.9 -0.9 -1.6 -1.8 -0.4 -0.9 -1.7 0.7 -1.6 -0.8 -1.6 -1.9 -0.8 -0.8 -1.7 0.9 -1.3 -0.7 -1.7 -1.9 -1.1 -0.7 -1.8 1.1 -1.1 -0.6 -1.7 -1.9 -1.4 -0.5 -1.7 1.3 -0.7 -0.4 -1.6 -1.9 -1.6 -0.4 -1.7 1.5 -0.4 -0.3 -1.6 -1.9 -1.9 -0.2 -1.6 1.6 -0.1 -0.1 -1.5 -1.8 -2.1 -0.1 -1.5 1.7 0.2 0 -1.4 -1.7 -2.3 0.1 -1.4 1.8 0.5 0.2 -1.3 -1.6 -2.4 0.3 -1.3 1.9 0.9 0.3 -1.1 -1.4 -2.5 0.4 -1.1 1.9 1.2 0.5 -1 -1.2 -2.6 0.6 -0.9 1.9 1.5 0.6 -0.8 -1 -2.6 0.7 -0.7 1.9 1.7 0.8 -0.6 -0.8 -2.6 0.9 -0.5 1.9 1.9 0.9 -0.4 -0.6 -2.5 1 -0.3 1.8 2.1 1 -0.2 -0.4 -2.4 1.1 -0.1 1.7 2.3 1.1 0 -0.1 -2.3 1.2 0.1 1.5 2.5 1.1 0.2 0.1 -2.1 1.2 0.3 1.4 2.5 1.2 0.4 0.4 -1.9 1.3 0.5 1.2 2.6 1.2 0.6 0.6 -1.7 1.3 0.8 1 2.6 1.2 0.8 0.8 -1.4 1.3 0.9 0.8 2.6 1.2 1 1 -1.1 1.3 1.1 0.5 2.5 1.2 1.1 1.2 -0.8 1.3 1.3 0.3 2.4 1.2 1.3 1.4 -0.5 1.2 1.4 0 2.3 1.1 1.4 1.6 -0.2 1.1 1.5 -0.2 2.1 1 1.5 1.7 0.1 1 1.6 -0.4 1.9 0.9 1.6Z" fill="#fff" stroke="#000" stroke-width="1.4" fill-rule="evenodd"/>
<path d="M294.1 627.3 A24.2 46.5 -30 0 1 282.8 680.4 A24.2 46.5 -30 0 1 242.6 610.6 A24.2 46.5 -30 0 1 294.1 627.3Z" fill="#fff" stroke="#000" stroke-width="1.3" fill-rule="evenodd"/>
<path d="M285.4 632.2 A24.2 46.5 -30 0 1 274.1 685.2 A24.2 46.5 -30 0 1 233.9 615.4 A24.2 46.5 -30 0 1 285.4 632.2Z" fill="#fff" stroke="#000" stroke-width="1.3" fill-rule="evenodd"/>
<path d="M278.1 636.2l1.8 0.4 0.9 1.7 -0.7 1.6 0.8 1.6 1.9 0.8 0.8 1.7 -0.9 1.3 0.7 1.7 1.9 1.1 0.7 1.8 -1.1 1.1 0.6 1.7 1.9 1.4 0.5 1.7 -1.3 0.7 0.4 1.6 1.9 1.6 0.4 1.7 -1.5 0.4 0.3 1.6 1.9 1.9 0.2 1.6 -1.6 0.1 0.1 1.5 1.8 2.1 0.1 1.5 -1.7 -0.2 -0 1.4 1.7 2.3 -0.1 1.4 -1.8 -0.5 -0.2 1.3 1.6 2.4 -0.3 1.3 -1.9 -0.9 -0.3 1.1 1.4 2.5 -0.4 1.1 -1.9 -1.2 -0.5 1 1.2 2.6 -0.6 0.9 -1.9 -1.5 -0.6 0.8 1 2.6 -0.7 0.7 -1.9 -1.7 -0.8 0.6 0.8 2.6 -0.9 0.5 -1.9 -1.9 -0.9 0.4 0.6 2.5 -1 0.3 -1.8 -2.1 -1 0.2 0.4 2.4 -1.1 0.1 -1.7 -2.3 -1.1 -0 0.1 2.3 -1.2 -0.1 -1.5 -2.5 -1.1 -0.2 -0.1 2.1 -1.2 -0.3 -1.4 -2.5 -1.2 -0.4 -0.4 1.9 -1.3 -0.5 -1.2 -2.6 -1.2 -0.6 -0.6 1.7 -1.3 -0.8 -1 -2.6 -1.2 -0.8 -0.8 1.4 -1.3 -0.9 -0.8 -2.6 -1.2 -1 -1 1.1 -1.3 -1.1 -0.5 -2.5 -1.2 -1.1 -1.2 0.8 -1.3 -1.3 -0.3 -2.4 -1.2 -1.3 -1.4 0.5 -1.2 -1.4 -0 -2.3 -1.1 -1.4 -1.6 0.2 -1.1 -1.5 0.2 -2.1 -1 -1.5 -1.7 -0.1 -1 -1.6 0.4 -1.9 -0.9 -1.6 -1.8 -0.4 -0.9 -1.7 0.7 -1.6 -0.8 -1.6 -1.9 -0.8 -0.8 -1.7 0.9 -1.3 -0.7 -1.7 -1.9 -1.1 -0.7 -1.8 1.1 -1.1 -0.6 -1.7 -1.9 -1.4 -0.5 -1.7 1.3 -0.7 -0.4 -1.6 -1.9 -1.6 -0.4 -1.7 1.5 -0.4 -0.3 -1.6 -1.9 -1.9 -0.2 -1.6 1.6 -0.1 -0.1 -1.5 -1.8 -2.1 -0.1 -1.5 1.7 0.2 0 -1.4 -1.7 -2.3 0.1 -1.4 1.8 0.5 0.2 -1.3 -1.6 -2.4 0.3 -1.3 1.9 0.9 0.3 -1.1 -1.4 -2.5 0.4 -1.1 1.9 1.2 0.5 -1 -1.2 -2.6 0.6 -0.9 1.9 1.5 0.6 -0.8 -1 -2.6 0.7 -0.7 1.9 1.7 0.8 -0.6 -0.8 -2.6 0.9 -0.5 1.9 1.9 0.9 -0.4 -0.6 -2.5 1 -0.3 1.8 2.1 1 -0.2 -0.4 -2.4 1.1 -0.1 1.7 2.3 1.1 0 -0.1 -2.3 1.2 0.1 1.5 2.5 1.1 0.2 0.1 -2.1 1.2 0.3 1.4 2.5 1.2 0.4 0.4 -1.9 1.3 0.5 1.2 2.6 1.2 0.6 0.6 -1.7 1.3 0.8 1 2.6 1.2 0.8 0.8 -1.4 1.3 0.9 0.8 2.6 1.2 1 1 -1.1 1.3 1.1 0.5 2.5 1.2 1.1 1.2 -0.8 1.3 1.3 0.3 2.4 1.2 1.3 1.4 -0.5 1.2 1.4 0 2.3 1.1 1.4 1.6 -0.2 1.1 1.5 -0.2 2.1 1 1.5 1.7 0.1 1 1.6 -0.4 1.9 0.9 1.6Z" fill="#fff" stroke="#000" stroke-width="1.4" fill-rule="evenodd"/>
<path d="M263.9 644.1 A24.2 46.5 -30 0 1 252.6 697.1 A24.2 46.5 -30 0 1 212.4 627.4 A24.2 46.5 -30 0 1 263.9 644.1Z" fill="#fff" stroke="#000" stroke-width="1.3" fill-rule="evenodd"/>
<path d="M226.6 620.7 A20.5 39.5 -30 0 1 263.9 652 A20.5 39.5 -30 0 1 259.3 691.7" fill="none" stroke="#000" stroke-width="2.4" stroke-dasharray="2 1.3"/>
<path d="M252.2 650.6l1.8 0.4 0.9 1.7 -0.7 1.6 0.8 1.6 1.9 0.8 0.8 1.7 -0.9 1.3 0.7 1.7 1.9 1.1 0.7 1.8 -1.1 1.1 0.6 1.7 1.9 1.4 0.5 1.7 -1.3 0.7 0.4 1.6 1.9 1.6 0.4 1.7 -1.5 0.4 0.3 1.6 1.9 1.9 0.2 1.6 -1.6 0.1 0.1 1.5 1.8 2.1 0.1 1.5 -1.7 -0.2 -0 1.4 1.7 2.3 -0.1 1.4 -1.8 -0.5 -0.2 1.3 1.6 2.4 -0.3 1.3 -1.9 -0.9 -0.3 1.1 1.4 2.5 -0.4 1.1 -1.9 -1.2 -0.5 1 1.2 2.6 -0.6 0.9 -1.9 -1.5 -0.6 0.8 1 2.6 -0.7 0.7 -1.9 -1.7 -0.8 0.6 0.8 2.6 -0.9 0.5 -1.9 -1.9 -0.9 0.4 0.6 2.5 -1 0.3 -1.8 -2.1 -1 0.2 0.4 2.4 -1.1 0.1 -1.7 -2.3 -1.1 -0 0.1 2.3 -1.2 -0.1 -1.5 -2.5 -1.1 -0.2 -0.1 2.1 -1.2 -0.3 -1.4 -2.5 -1.2 -0.4 -0.4 1.9 -1.3 -0.5 -1.2 -2.6 -1.2 -0.6 -0.6 1.7 -1.3 -0.8 -1 -2.6 -1.2 -0.8 -0.8 1.4 -1.3 -0.9 -0.8 -2.6 -1.2 -1 -1 1.1 -1.3 -1.1 -0.5 -2.5 -1.2 -1.1 -1.2 0.8 -1.3 -1.3 -0.3 -2.4 -1.2 -1.3 -1.4 0.5 -1.2 -1.4 -0 -2.3 -1.1 -1.4 -1.6 0.2 -1.1 -1.5 0.2 -2.1 -1 -1.5 -1.7 -0.1 -1 -1.6 0.4 -1.9 -0.9 -1.6 -1.8 -0.4 -0.9 -1.7 0.7 -1.6 -0.8 -1.6 -1.9 -0.8 -0.8 -1.7 0.9 -1.3 -0.7 -1.7 -1.9 -1.1 -0.7 -1.8 1.1 -1.1 -0.6 -1.7 -1.9 -1.4 -0.5 -1.7 1.3 -0.7 -0.4 -1.6 -1.9 -1.6 -0.4 -1.7 1.5 -0.4 -0.3 -1.6 -1.9 -1.9 -0.2 -1.6 1.6 -0.1 -0.1 -1.5 -1.8 -2.1 -0.1 -1.5 1.7 0.2 0 -1.4 -1.7 -2.3 0.1 -1.4 1.8 0.5 0.2 -1.3 -1.6 -2.4 0.3 -1.3 1.9 0.9 0.3 -1.1 -1.4 -2.5 0.4 -1.1 1.9 1.2 0.5 -1 -1.2 -2.6 0.6 -0.9 1.9 1.5 0.6 -0.8 -1 -2.6 0.7 -0.7 1.9 1.7 0.8 -0.6 -0.8 -2.6 0.9 -0.5 1.9 1.9 0.9 -0.4 -0.6 -2.5 1 -0.3 1.8 2.1 1 -0.2 -0.4 -2.4 1.1 -0.1 1.7 2.3 1.1 0 -0.1 -2.3 1.2 0.1 1.5 2.5 1.1 0.2 0.1 -2.1 1.2 0.3 1.4 2.5 1.2 0.4 0.4 -1.9 1.3 0.5 1.2 2.6 1.2 0.6 0.6 -1.7 1.3 0.8 1 2.6 1.2 0.8 0.8 -1.4 1.3 0.9 0.8 2.6 1.2 1 1 -1.1 1.3 1.1 0.5 2.5 1.2 1.1 1.2 -0.8 1.3 1.3 0.3 2.4 1.2 1.3 1.4 -0.5 1.2 1.4 0 2.3 1.1 1.4 1.6 -0.2 1.1 1.5 -0.2 2.1 1 1.5 1.7 0.1 1 1.6 -0.4 1.9 0.9 1.6Z" fill="#fff" stroke="#000" stroke-width="1.4" fill-rule="evenodd"/>
<path d="M242.4 656 A24.2 46.5 -30 0 1 231.1 709.1 A24.2 46.5 -30 0 1 190.9 639.3 A24.2 46.5 -30 0 1 242.4 656Z" fill="#fff" stroke="#000" stroke-width="1.3" fill-rule="evenodd"/>
<path d="M233.7 660.9 A24.2 46.5 -30 0 1 222.4 713.9 A24.2 46.5 -30 0 1 182.2 644.1 A24.2 46.5 -30 0 1 233.7 660.9Z" fill="#fff" stroke="#000" stroke-width="1.3" fill-rule="evenodd"/>
<path d="M226.4 664.9l1.8 0.4 0.9 1.7 -0.7 1.6 0.8 1.6 1.9 0.8 0.8 1.7 -0.9 1.3 0.7 1.7 1.9 1.1 0.7 1.8 -1.1 1.1 0.6 1.7 1.9 1.4 0.5 1.7 -1.3 0.7 0.4 1.6 1.9 1.6 0.4 1.7 -1.5 0.4 0.3 1.6 1.9 1.9 0.2 1.6 -1.6 0.1 0.1 1.5 1.8 2.1 0.1 1.5 -1.7 -0.2 -0 1.4 1.7 2.3 -0.1 1.4 -1.8 -0.5 -0.2 1.3 1.6 2.4 -0.3 1.3 -1.9 -0.9 -0.3 1.1 1.4 2.5 -0.4 1.1 -1.9 -1.2 -0.5 1 1.2 2.6 -0.6 0.9 -1.9 -1.5 -0.6 0.8 1 2.6 -0.7 0.7 -1.9 -1.7 -0.8 0.6 0.8 2.6 -0.9 0.5 -1.9 -1.9 -0.9 0.4 0.6 2.5 -1 0.3 -1.8 -2.1 -1 0.2 0.4 2.4 -1.1 0.1 -1.7 -2.3 -1.1 -0 0.1 2.3 -1.2 -0.1 -1.5 -2.5 -1.1 -0.2 -0.1 2.1 -1.2 -0.3 -1.4 -2.5 -1.2 -0.4 -0.4 1.9 -1.3 -0.5 -1.2 -2.6 -1.2 -0.6 -0.6 1.7 -1.3 -0.8 -1 -2.6 -1.2 -0.8 -0.8 1.4 -1.3 -0.9 -0.8 -2.6 -1.2 -1 -1 1.1 -1.3 -1.1 -0.5 -2.5 -1.2 -1.1 -1.2 0.8 -1.3 -1.3 -0.3 -2.4 -1.2 -1.3 -1.4 0.5 -1.2 -1.4 -0 -2.3 -1.1 -1.4 -1.6 0.2 -1.1 -1.5 0.2 -2.1 -1 -1.5 -1.7 -0.1 -1 -1.6 0.4 -1.9 -0.9 -1.6 -1.8 -0.4 -0.9 -1.7 0.7 -1.6 -0.8 -1.6 -1.9 -0.8 -0.8 -1.7 0.9 -1.3 -0.7 -1.7 -1.9 -1.1 -0.7 -1.8 1.1 -1.1 -0.6 -1.7 -1.9 -1.4 -0.5 -1.7 1.3 -0.7 -0.4 -1.6 -1.9 -1.6 -0.4 -1.7 1.5 -0.4 -0.3 -1.6 -1.9 -1.9 -0.2 -1.6 1.6 -0.1 -0.1 -1.5 -1.8 -2.1 -0.1 -1.5 1.7 0.2 0 -1.4 -1.7 -2.3 0.1 -1.4 1.8 0.5 0.2 -1.3 -1.6 -2.4 0.3 -1.3 1.9 0.9 0.3 -1.1 -1.4 -2.5 0.4 -1.1 1.9 1.2 0.5 -1 -1.2 -2.6 0.6 -0.9 1.9 1.5 0.6 -0.8 -1 -2.6 0.7 -0.7 1.9 1.7 0.8 -0.6 -0.8 -2.6 0.9 -0.5 1.9 1.9 0.9 -0.4 -0.6 -2.5 1 -0.3 1.8 2.1 1 -0.2 -0.4 -2.4 1.1 -0.1 1.7 2.3 1.1 0 -0.1 -2.3 1.2 0.1 1.5 2.5 1.1 0.2 0.1 -2.1 1.2 0.3 1.4 2.5 1.2 0.4 0.4 -1.9 1.3 0.5 1.2 2.6 1.2 0.6 0.6 -1.7 1.3 0.8 1 2.6 1.2 0.8 0.8 -1.4 1.3 0.9 0.8 2.6 1.2 1 1 -1.1 1.3 1.1 0.5 2.5 1.2 1.1 1.2 -0.8 1.3 1.3 0.3 2.4 1.2 1.3 1.4 -0.5 1.2 1.4 0 2.3 1.1 1.4 1.6 -0.2 1.1 1.5 -0.2 2.1 1 1.5 1.7 0.1 1 1.6 -0.4 1.9 0.9 1.6Z" fill="#fff" stroke="#000" stroke-width="1.4" fill-rule="evenodd"/>
<path d="M212.2 672.8 A24.2 46.5 -30 0 1 200.9 725.8 A24.2 46.5 -30 0 1 160.7 656.1 A24.2 46.5 -30 0 1 212.2 672.8Z" fill="#fff" stroke="#000" stroke-width="1.3" fill-rule="evenodd"/>
<path d="M174.9 649.4 A20.5 39.5 -30 0 1 212.2 680.7 A20.5 39.5 -30 0 1 207.6 720.4" fill="none" stroke="#000" stroke-width="2.4" stroke-dasharray="2 1.3"/>
<path d="M200.5 679.3l1.8 0.4 0.9 1.7 -0.7 1.6 0.8 1.6 1.9 0.8 0.8 1.7 -0.9 1.3 0.7 1.7 1.9 1.1 0.7 1.8 -1.1 1.1 0.6 1.7 1.9 1.4 0.5 1.7 -1.3 0.7 0.4 1.6 1.9 1.6 0.4 1.7 -1.5 0.4 0.3 1.6 1.9 1.9 0.2 1.6 -1.6 0.1 0.1 1.5 1.8 2.1 0.1 1.5 -1.7 -0.2 -0 1.4 1.7 2.3 -0.1 1.4 -1.8 -0.5 -0.2 1.3 1.6 2.4 -0.3 1.3 -1.9 -0.9 -0.3 1.1 1.4 2.5 -0.4 1.1 -1.9 -1.2 -0.5 1 1.2 2.6 -0.6 0.9 -1.9 -1.5 -0.6 0.8 1 2.6 -0.7 0.7 -1.9 -1.7 -0.8 0.6 0.8 2.6 -0.9 0.5 -1.9 -1.9 -0.9 0.4 0.6 2.5 -1 0.3 -1.8 -2.1 -1 0.2 0.4 2.4 -1.1 0.1 -1.7 -2.3 -1.1 -0 0.1 2.3 -1.2 -0.1 -1.5 -2.5 -1.1 -0.2 -0.1 2.1 -1.2 -0.3 -1.4 -2.5 -1.2 -0.4 -0.4 1.9 -1.3 -0.5 -1.2 -2.6 -1.2 -0.6 -0.6 1.7 -1.3 -0.8 -1 -2.6 -1.2 -0.8 -0.8 1.4 -1.3 -0.9 -0.8 -2.6 -1.2 -1 -1 1.1 -1.3 -1.1 -0.5 -2.5 -1.2 -1.1 -1.2 0.8 -1.3 -1.3 -0.3 -2.4 -1.2 -1.3 -1.4 0.5 -1.2 -1.4 -0 -2.3 -1.1 -1.4 -1.6 0.2 -1.1 -1.5 0.2 -2.1 -1 -1.5 -1.7 -0.1 -1 -1.6 0.4 -1.9 -0.9 -1.6 -1.8 -0.4 -0.9 -1.7 0.7 -1.6 -0.8 -1.6 -1.9 -0.8 -0.8 -1.7 0.9 -1.3 -0.7 -1.7 -1.9 -1.1 -0.7 -1.8 1.1 -1.1 -0.6 -1.7 -1.9 -1.4 -0.5 -1.7 1.3 -0.7 -0.4 -1.6 -1.9 -1.6 -0.4 -1.7 1.5 -0.4 -0.3 -1.6 -1.9 -1.9 -0.2 -1.6 1.6 -0.1 -0.1 -1.5 -1.8 -2.1 -0.1 -1.5 1.7 0.2 0 -1.4 -1.7 -2.3 0.1 -1.4 1.8 0.5 0.2 -1.3 -1.6 -2.4 0.3 -1.3 1.9 0.9 0.3 -1.1 -1.4 -2.5 0.4 -1.1 1.9 1.2 0.5 -1 -1.2 -2.6 0.6 -0.9 1.9 1.5 0.6 -0.8 -1 -2.6 0.7 -0.7 1.9 1.7 0.8 -0.6 -0.8 -2.6 0.9 -0.5 1.9 1.9 0.9 -0.4 -0.6 -2.5 1 -0.3 1.8 2.1 1 -0.2 -0.4 -2.4 1.1 -0.1 1.7 2.3 1.1 0 -0.1 -2.3 1.2 0.1 1.5 2.5 1.1 0.2 0.1 -2.1 1.2 0.3 1.4 2.5 1.2 0.4 0.4 -1.9 1.3 0.5 1.2 2.6 1.2 0.6 0.6 -1.7 1.3 0.8 1 2.6 1.2 0.8 0.8 -1.4 1.3 0.9 0.8 2.6 1.2 1 1 -1.1 1.3 1.1 0.5 2.5 1.2 1.1 1.2 -0.8 1.3 1.3 0.3 2.4 1.2 1.3 1.4 -0.5 1.2 1.4 0 2.3 1.1 1.4 1.6 -0.2 1.1 1.5 -0.2 2.1 1 1.5 1.7 0.1 1 1.6 -0.4 1.9 0.9 1.6Z" fill="#fff" stroke="#000" stroke-width="1.4" fill-rule="evenodd"/>
<ellipse cx="179" cy="695" rx="18.6" ry="31" transform="rotate(-30 179 695)" fill="none" stroke="#000" stroke-width="1.3"/>
<path d="M189 721.8 A17.1 28.5 -30 0 1 159 675.7" fill="none" stroke="#000" stroke-width="1.0"/>
<path d="M183.5 718.4 A15.6 26 -30 0 1 160.4 682.8" fill="none" stroke="#000" stroke-width="2.4" stroke-dasharray="2 1.2"/>
<rect x="443.7" y="492.3" width="16" height="11" fill="#fff" transform="rotate(-28 451.7 497.8)"/>
<line x1="442.7" y1="494.3" x2="445.2" y2="503.3" stroke="#000" stroke-width="1.1"/>
<line x1="447.2" y1="493.7" x2="449.7" y2="502.7" stroke="#000" stroke-width="1.1"/>
<line x1="451.7" y1="493.1" x2="454.2" y2="502.1" stroke="#000" stroke-width="1.1"/>
<line x1="456.2" y1="492.5" x2="458.7" y2="501.5" stroke="#000" stroke-width="1.1"/>
<line x1="460.7" y1="491.9" x2="463.2" y2="500.9" stroke="#000" stroke-width="1.1"/>
<line x1="442.7" y1="493.8" x2="460.7" y2="490.8" stroke="#000" stroke-width="1.1"/>
<line x1="442.7" y1="499.3" x2="460.7" y2="496.3" stroke="#000" stroke-width="1.1"/>
<line x1="442.7" y1="504.8" x2="460.7" y2="501.8" stroke="#000" stroke-width="1.1"/>
<rect x="479.7" y="546.8" width="5" height="20" fill="#fff" stroke="#000" stroke-width="1.2"/>
<line x1="482.2" y1="546.8" x2="482.2" y2="566.8" stroke="#000" stroke-width="1.0"/>
<rect x="392.0" y="521.0" width="16" height="11" fill="#fff" transform="rotate(-28 400.0 526.5)"/>
<line x1="391" y1="523" x2="393.5" y2="532" stroke="#000" stroke-width="1.1"/>
<line x1="395.5" y1="522.4" x2="398" y2="531.4" stroke="#000" stroke-width="1.1"/>
<line x1="400" y1="521.8" x2="402.5" y2="530.8" stroke="#000" stroke-width="1.1"/>
<line x1="404.5" y1="521.2" x2="407" y2="530.2" stroke="#000" stroke-width="1.1"/>
<line x1="409" y1="520.6" x2="411.5" y2="529.6" stroke="#000" stroke-width="1.1"/>
<line x1="391" y1="522.5" x2="409" y2="519.5" stroke="#000" stroke-width="1.1"/>
<line x1="391" y1="528" x2="409" y2="525" stroke="#000" stroke-width="1.1"/>
<line x1="391" y1="533.5" x2="409" y2="530.5" stroke="#000" stroke-width="1.1"/>
<rect x="428.0" y="575.5" width="5" height="20" fill="#fff" stroke="#000" stroke-width="1.2"/>
<line x1="430.5" y1="575.5" x2="430.5" y2="595.5" stroke="#000" stroke-width="1.0"/>
<rect x="340.3" y="549.7" width="16" height="11" fill="#fff" transform="rotate(-28 348.3 555.2)"/>
<line x1="339.3" y1="551.7" x2="341.8" y2="560.7" stroke="#000" stroke-width="1.1"/>
<line x1="343.8" y1="551.1" x2="346.3" y2="560.1" stroke="#000" stroke-width="1.1"/>
<line x1="348.3" y1="550.5" x2="350.8" y2="559.5" stroke="#000" stroke-width="1.1"/>
<line x1="352.8" y1="549.9" x2="355.3" y2="558.9" stroke="#000" stroke-width="1.1"/>
<line x1="357.3" y1="549.3" x2="359.8" y2="558.3" stroke="#000" stroke-width="1.1"/>
<line x1="339.3" y1="551.2" x2="357.3" y2="548.2" stroke="#000" stroke-width="1.1"/>
<line x1="339.3" y1="556.7" x2="357.3" y2="553.7" stroke="#000" stroke-width="1.1"/>
<line x1="339.3" y1="562.2" x2="357.3" y2="559.2" stroke="#000" stroke-width="1.1"/>
<rect x="376.3" y="604.2" width="5" height="20" fill="#fff" stroke="#000" stroke-width="1.2"/>
<line x1="378.8" y1="604.2" x2="378.8" y2="624.2" stroke="#000" stroke-width="1.0"/>
<rect x="288.6" y="578.4" width="16" height="11" fill="#fff" transform="rotate(-28 296.6 583.9)"/>
<line x1="287.6" y1="580.4" x2="290.1" y2="589.4" stroke="#000" stroke-width="1.1"/>
<line x1="292.1" y1="579.8" x2="294.6" y2="588.8" stroke="#000" stroke-width="1.1"/>
<line x1="296.6" y1="579.2" x2="299.1" y2="588.2" stroke="#000" stroke-width="1.1"/>
<line x1="301.1" y1="578.6" x2="303.6" y2="587.6" stroke="#000" stroke-width="1.1"/>
<line x1="305.6" y1="578" x2="308.1" y2="587" stroke="#000" stroke-width="1.1"/>
<line x1="287.6" y1="579.9" x2="305.6" y2="576.9" stroke="#000" stroke-width="1.1"/>
<line x1="287.6" y1="585.4" x2="305.6" y2="582.4" stroke="#000" stroke-width="1.1"/>
<line x1="287.6" y1="590.9" x2="305.6" y2="587.9" stroke="#000" stroke-width="1.1"/>
<rect x="324.6" y="632.9" width="5" height="20" fill="#fff" stroke="#000" stroke-width="1.2"/>
<line x1="327.1" y1="632.9" x2="327.1" y2="652.9" stroke="#000" stroke-width="1.0"/>
<rect x="236.9" y="607.1" width="16" height="11" fill="#fff" transform="rotate(-28 244.9 612.6)"/>
<line x1="235.9" y1="609.1" x2="238.4" y2="618.1" stroke="#000" stroke-width="1.1"/>
<line x1="240.4" y1="608.5" x2="242.9" y2="617.5" stroke="#000" stroke-width="1.1"/>
<line x1="244.9" y1="607.9" x2="247.4" y2="616.9" stroke="#000" stroke-width="1.1"/>
<line x1="249.4" y1="607.3" x2="251.9" y2="616.3" stroke="#000" stroke-width="1.1"/>
<line x1="253.9" y1="606.7" x2="256.4" y2="615.7" stroke="#000" stroke-width="1.1"/>
<line x1="235.9" y1="608.6" x2="253.9" y2="605.6" stroke="#000" stroke-width="1.1"/>
<line x1="235.9" y1="614.1" x2="253.9" y2="611.1" stroke="#000" stroke-width="1.1"/>
<line x1="235.9" y1="619.6" x2="253.9" y2="616.6" stroke="#000" stroke-width="1.1"/>
<rect x="272.9" y="661.6" width="5" height="20" fill="#fff" stroke="#000" stroke-width="1.2"/>
<line x1="275.4" y1="661.6" x2="275.4" y2="681.6" stroke="#000" stroke-width="1.0"/>
<rect x="185.2" y="635.8" width="16" height="11" fill="#fff" transform="rotate(-28 193.2 641.3)"/>
<line x1="184.2" y1="637.8" x2="186.7" y2="646.8" stroke="#000" stroke-width="1.1"/>
<line x1="188.7" y1="637.2" x2="191.2" y2="646.2" stroke="#000" stroke-width="1.1"/>
<line x1="193.2" y1="636.6" x2="195.7" y2="645.6" stroke="#000" stroke-width="1.1"/>
<line x1="197.7" y1="636" x2="200.2" y2="645" stroke="#000" stroke-width="1.1"/>
<line x1="202.2" y1="635.4" x2="204.7" y2="644.4" stroke="#000" stroke-width="1.1"/>
<line x1="184.2" y1="637.3" x2="202.2" y2="634.3" stroke="#000" stroke-width="1.1"/>
<line x1="184.2" y1="642.8" x2="202.2" y2="639.8" stroke="#000" stroke-width="1.1"/>
<line x1="184.2" y1="648.3" x2="202.2" y2="645.3" stroke="#000" stroke-width="1.1"/>
<rect x="221.2" y="690.3" width="5" height="20" fill="#fff" stroke="#000" stroke-width="1.2"/>
<line x1="223.7" y1="690.3" x2="223.7" y2="710.3" stroke="#000" stroke-width="1.0"/>
<path d="M673.7 839.3l1.8 0.4 0.9 1.7 -0.7 1.6 0.8 1.6 1.9 0.8 0.8 1.7 -0.9 1.3 0.7 1.7 1.9 1.1 0.7 1.8 -1.1 1.1 0.6 1.7 1.9 1.4 0.5 1.7 -1.3 0.7 0.4 1.6 1.9 1.6 0.4 1.7 -1.5 0.4 0.3 1.6 1.9 1.9 0.2 1.6 -1.6 0.1 0.1 1.5 1.8 2.1 0.1 1.5 -1.7 -0.2 -0 1.4 1.7 2.3 -0.1 1.4 -1.8 -0.5 -0.2 1.3 1.6 2.4 -0.3 1.3 -1.9 -0.9 -0.3 1.1 1.4 2.5 -0.4 1.1 -1.9 -1.2 -0.5 1 1.2 2.6 -0.6 0.9 -1.9 -1.5 -0.6 0.8 1 2.6 -0.7 0.7 -1.9 -1.7 -0.8 0.6 0.8 2.6 -0.9 0.5 -1.9 -1.9 -0.9 0.4 0.6 2.5 -1 0.3 -1.8 -2.1 -1 0.2 0.4 2.4 -1.1 0.1 -1.7 -2.3 -1.1 -0 0.1 2.3 -1.2 -0.1 -1.5 -2.5 -1.1 -0.2 -0.1 2.1 -1.2 -0.3 -1.4 -2.5 -1.2 -0.4 -0.4 1.9 -1.3 -0.5 -1.2 -2.6 -1.2 -0.6 -0.6 1.7 -1.3 -0.8 -1 -2.6 -1.2 -0.8 -0.8 1.4 -1.3 -0.9 -0.8 -2.6 -1.2 -1 -1 1.1 -1.3 -1.1 -0.5 -2.5 -1.2 -1.1 -1.2 0.8 -1.3 -1.3 -0.3 -2.4 -1.2 -1.3 -1.4 0.5 -1.2 -1.4 -0 -2.3 -1.1 -1.4 -1.6 0.2 -1.1 -1.5 0.2 -2.1 -1 -1.5 -1.7 -0.1 -1 -1.6 0.4 -1.9 -0.9 -1.6 -1.8 -0.4 -0.9 -1.7 0.7 -1.6 -0.8 -1.6 -1.9 -0.8 -0.8 -1.7 0.9 -1.3 -0.7 -1.7 -1.9 -1.1 -0.7 -1.8 1.1 -1.1 -0.6 -1.7 -1.9 -1.4 -0.5 -1.7 1.3 -0.7 -0.4 -1.6 -1.9 -1.6 -0.4 -1.7 1.5 -0.4 -0.3 -1.6 -1.9 -1.9 -0.2 -1.6 1.6 -0.1 -0.1 -1.5 -1.8 -2.1 -0.1 -1.5 1.7 0.2 0 -1.4 -1.7 -2.3 0.1 -1.4 1.8 0.5 0.2 -1.3 -1.6 -2.4 0.3 -1.3 1.9 0.9 0.3 -1.1 -1.4 -2.5 0.4 -1.1 1.9 1.2 0.5 -1 -1.2 -2.6 0.6 -0.9 1.9 1.5 0.6 -0.8 -1 -2.6 0.7 -0.7 1.9 1.7 0.8 -0.6 -0.8 -2.6 0.9 -0.5 1.9 1.9 0.9 -0.4 -0.6 -2.5 1 -0.3 1.8 2.1 1 -0.2 -0.4 -2.4 1.1 -0.1 1.7 2.3 1.1 0 -0.1 -2.3 1.2 0.1 1.5 2.5 1.1 0.2 0.1 -2.1 1.2 0.3 1.4 2.5 1.2 0.4 0.4 -1.9 1.3 0.5 1.2 2.6 1.2 0.6 0.6 -1.7 1.3 0.8 1 2.6 1.2 0.8 0.8 -1.4 1.3 0.9 0.8 2.6 1.2 1 1 -1.1 1.3 1.1 0.5 2.5 1.2 1.1 1.2 -0.8 1.3 1.3 0.3 2.4 1.2 1.3 1.4 -0.5 1.2 1.4 0 2.3 1.1 1.4 1.6 -0.2 1.1 1.5 -0.2 2.1 1 1.5 1.7 0.1 1 1.6 -0.4 1.9 0.9 1.6Z" fill="#fff" stroke="#000" stroke-width="1.4" fill-rule="evenodd"/>
<path d="M663.9 844.7 A24.2 46.5 -30 0 1 652.6 897.8 A24.2 46.5 -30 0 1 612.4 828 A24.2 46.5 -30 0 1 663.9 844.7Z" fill="#fff" stroke="#000" stroke-width="1.3" fill-rule="evenodd"/>
<path d="M655.2 849.6 A24.2 46.5 -30 0 1 643.9 902.6 A24.2 46.5 -30 0 1 603.7 832.8 A24.2 46.5 -30 0 1 655.2 849.6Z" fill="#fff" stroke="#000" stroke-width="1.3" fill-rule="evenodd"/>
<path d="M647.9 853.6l1.8 0.4 0.9 1.7 -0.7 1.6 0.8 1.6 1.9 0.8 0.8 1.7 -0.9 1.3 0.7 1.7 1.9 1.1 0.7 1.8 -1.1 1.1 0.6 1.7 1.9 1.4 0.5 1.7 -1.3 0.7 0.4 1.6 1.9 1.6 0.4 1.7 -1.5 0.4 0.3 1.6 1.9 1.9 0.2 1.6 -1.6 0.1 0.1 1.5 1.8 2.1 0.1 1.5 -1.7 -0.2 -0 1.4 1.7 2.3 -0.1 1.4 -1.8 -0.5 -0.2 1.3 1.6 2.4 -0.3 1.3 -1.9 -0.9 -0.3 1.1 1.4 2.5 -0.4 1.1 -1.9 -1.2 -0.5 1 1.2 2.6 -0.6 0.9 -1.9 -1.5 -0.6 0.8 1 2.6 -0.7 0.7 -1.9 -1.7 -0.8 0.6 0.8 2.6 -0.9 0.5 -1.9 -1.9 -0.9 0.4 0.6 2.5 -1 0.3 -1.8 -2.1 -1 0.2 0.4 2.4 -1.1 0.1 -1.7 -2.3 -1.1 -0 0.1 2.3 -1.2 -0.1 -1.5 -2.5 -1.1 -0.2 -0.1 2.1 -1.2 -0.3 -1.4 -2.5 -1.2 -0.4 -0.4 1.9 -1.3 -0.5 -1.2 -2.6 -1.2 -0.6 -0.6 1.7 -1.3 -0.8 -1 -2.6 -1.2 -0.8 -0.8 1.4 -1.3 -0.9 -0.8 -2.6 -1.2 -1 -1 1.1 -1.3 -1.1 -0.5 -2.5 -1.2 -1.1 -1.2 0.8 -1.3 -1.3 -0.3 -2.4 -1.2 -1.3 -1.4 0.5 -1.2 -1.4 -0 -2.3 -1.1 -1.4 -1.6 0.2 -1.1 -1.5 0.2 -2.1 -1 -1.5 -1.7 -0.1 -1 -1.6 0.4 -1.9 -0.9 -1.6 -1.8 -0.4 -0.9 -1.7 0.7 -1.6 -0.8 -1.6 -1.9 -0.8 -0.8 -1.7 0.9 -1.3 -0.7 -1.7 -1.9 -1.1 -0.7 -1.8 1.1 -1.1 -0.6 -1.7 -1.9 -1.4 -0.5 -1.7 1.3 -0.7 -0.4 -1.6 -1.9 -1.6 -0.4 -1.7 1.5 -0.4 -0.3 -1.6 -1.9 -1.9 -0.2 -1.6 1.6 -0.1 -0.1 -1.5 -1.8 -2.1 -0.1 -1.5 1.7 0.2 0 -1.4 -1.7 -2.3 0.1 -1.4 1.8 0.5 0.2 -1.3 -1.6 -2.4 0.3 -1.3 1.9 0.9 0.3 -1.1 -1.4 -2.5 0.4 -1.1 1.9 1.2 0.5 -1 -1.2 -2.6 0.6 -0.9 1.9 1.5 0.6 -0.8 -1 -2.6 0.7 -0.7 1.9 1.7 0.8 -0.6 -0.8 -2.6 0.9 -0.5 1.9 1.9 0.9 -0.4 -0.6 -2.5 1 -0.3 1.8 2.1 1 -0.2 -0.4 -2.4 1.1 -0.1 1.7 2.3 1.1 0 -0.1 -2.3 1.2 0.1 1.5 2.5 1.1 0.2 0.1 -2.1 1.2 0.3 1.4 2.5 1.2 0.4 0.4 -1.9 1.3 0.5 1.2 2.6 1.2 0.6 0.6 -1.7 1.3 0.8 1 2.6 1.2 0.8 0.8 -1.4 1.3 0.9 0.8 2.6 1.2 1 1 -1.1 1.3 1.1 0.5 2.5 1.2 1.1 1.2 -0.8 1.3 1.3 0.3 2.4 1.2 1.3 1.4 -0.5 1.2 1.4 0 2.3 1.1 1.4 1.6 -0.2 1.1 1.5 -0.2 2.1 1 1.5 1.7 0.1 1 1.6 -0.4 1.9 0.9 1.6Z" fill="#fff" stroke="#000" stroke-width="1.4" fill-rule="evenodd"/>
<path d="M633.7 861.5 A24.2 46.5 -30 0 1 622.4 914.5 A24.2 46.5 -30 0 1 582.2 844.8 A24.2 46.5 -30 0 1 633.7 861.5Z" fill="#fff" stroke="#000" stroke-width="1.3" fill-rule="evenodd"/>
<path d="M596.4 838.1 A20.5 39.5 -30 0 1 633.7 869.4 A20.5 39.5 -30 0 1 629.1 909.1" fill="none" stroke="#000" stroke-width="2.4" stroke-dasharray="2 1.3"/>
<path d="M622 868l1.8 0.4 0.9 1.7 -0.7 1.6 0.8 1.6 1.9 0.8 0.8 1.7 -0.9 1.3 0.7 1.7 1.9 1.1 0.7 1.8 -1.1 1.1 0.6 1.7 1.9 1.4 0.5 1.7 -1.3 0.7 0.4 1.6 1.9 1.6 0.4 1.7 -1.5 0.4 0.3 1.6 1.9 1.9 0.2 1.6 -1.6 0.1 0.1 1.5 1.8 2.1 0.1 1.5 -1.7 -0.2 -0 1.4 1.7 2.3 -0.1 1.4 -1.8 -0.5 -0.2 1.3 1.6 2.4 -0.3 1.3 -1.9 -0.9 -0.3 1.1 1.4 2.5 -0.4 1.1 -1.9 -1.2 -0.5 1 1.2 2.6 -0.6 0.9 -1.9 -1.5 -0.6 0.8 1 2.6 -0.7 0.7 -1.9 -1.7 -0.8 0.6 0.8 2.6 -0.9 0.5 -1.9 -1.9 -0.9 0.4 0.6 2.5 -1 0.3 -1.8 -2.1 -1 0.2 0.4 2.4 -1.1 0.1 -1.7 -2.3 -1.1 -0 0.1 2.3 -1.2 -0.1 -1.5 -2.5 -1.1 -0.2 -0.1 2.1 -1.2 -0.3 -1.4 -2.5 -1.2 -0.4 -0.4 1.9 -1.3 -0.5 -1.2 -2.6 -1.2 -0.6 -0.6 1.7 -1.3 -0.8 -1 -2.6 -1.2 -0.8 -0.8 1.4 -1.3 -0.9 -0.8 -2.6 -1.2 -1 -1 1.1 -1.3 -1.1 -0.5 -2.5 -1.2 -1.1 -1.2 0.8 -1.3 -1.3 -0.3 -2.4 -1.2 -1.3 -1.4 0.5 -1.2 -1.4 -0 -2.3 -1.1 -1.4 -1.6 0.2 -1.1 -1.5 0.2 -2.1 -1 -1.5 -1.7 -0.1 -1 -1.6 0.4 -1.9 -0.9 -1.6 -1.8 -0.4 -0.9 -1.7 0.7 -1.6 -0.8 -1.6 -1.9 -0.8 -0.8 -1.7 0.9 -1.3 -0.7 -1.7 -1.9 -1.1 -0.7 -1.8 1.1 -1.1 -0.6 -1.7 -1.9 -1.4 -0.5 -1.7 1.3 -0.7 -0.4 -1.6 -1.9 -1.6 -0.4 -1.7 1.5 -0.4 -0.3 -1.6 -1.9 -1.9 -0.2 -1.6 1.6 -0.1 -0.1 -1.5 -1.8 -2.1 -0.1 -1.5 1.7 0.2 0 -1.4 -1.7 -2.3 0.1 -1.4 1.8 0.5 0.2 -1.3 -1.6 -2.4 0.3 -1.3 1.9 0.9 0.3 -1.1 -1.4 -2.5 0.4 -1.1 1.9 1.2 0.5 -1 -1.2 -2.6 0.6 -0.9 1.9 1.5 0.6 -0.8 -1 -2.6 0.7 -0.7 1.9 1.7 0.8 -0.6 -0.8 -2.6 0.9 -0.5 1.9 1.9 0.9 -0.4 -0.6 -2.5 1 -0.3 1.8 2.1 1 -0.2 -0.4 -2.4 1.1 -0.1 1.7 2.3 1.1 0 -0.1 -2.3 1.2 0.1 1.5 2.5 1.1 0.2 0.1 -2.1 1.2 0.3 1.4 2.5 1.2 0.4 0.4 -1.9 1.3 0.5 1.2 2.6 1.2 0.6 0.6 -1.7 1.3 0.8 1 2.6 1.2 0.8 0.8 -1.4 1.3 0.9 0.8 2.6 1.2 1 1 -1.1 1.3 1.1 0.5 2.5 1.2 1.1 1.2 -0.8 1.3 1.3 0.3 2.4 1.2 1.3 1.4 -0.5 1.2 1.4 0 2.3 1.1 1.4 1.6 -0.2 1.1 1.5 -0.2 2.1 1 1.5 1.7 0.1 1 1.6 -0.4 1.9 0.9 1.6Z" fill="#fff" stroke="#000" stroke-width="1.4" fill-rule="evenodd"/>
<path d="M612.2 873.4 A24.2 46.5 -30 0 1 600.9 926.5 A24.2 46.5 -30 0 1 560.7 856.7 A24.2 46.5 -30 0 1 612.2 873.4Z" fill="#fff" stroke="#000" stroke-width="1.3" fill-rule="evenodd"/>
<path d="M603.5 878.3 A24.2 46.5 -30 0 1 592.2 931.3 A24.2 46.5 -30 0 1 552 861.5 A24.2 46.5 -30 0 1 603.5 878.3Z" fill="#fff" stroke="#000" stroke-width="1.3" fill-rule="evenodd"/>
<path d="M596.2 882.3l1.8 0.4 0.9 1.7 -0.7 1.6 0.8 1.6 1.9 0.8 0.8 1.7 -0.9 1.3 0.7 1.7 1.9 1.1 0.7 1.8 -1.1 1.1 0.6 1.7 1.9 1.4 0.5 1.7 -1.3 0.7 0.4 1.6 1.9 1.6 0.4 1.7 -1.5 0.4 0.3 1.6 1.9 1.9 0.2 1.6 -1.6 0.1 0.1 1.5 1.8 2.1 0.1 1.5 -1.7 -0.2 -0 1.4 1.7 2.3 -0.1 1.4 -1.8 -0.5 -0.2 1.3 1.6 2.4 -0.3 1.3 -1.9 -0.9 -0.3 1.1 1.4 2.5 -0.4 1.1 -1.9 -1.2 -0.5 1 1.2 2.6 -0.6 0.9 -1.9 -1.5 -0.6 0.8 1 2.6 -0.7 0.7 -1.9 -1.7 -0.8 0.6 0.8 2.6 -0.9 0.5 -1.9 -1.9 -0.9 0.4 0.6 2.5 -1 0.3 -1.8 -2.1 -1 0.2 0.4 2.4 -1.1 0.1 -1.7 -2.3 -1.1 -0 0.1 2.3 -1.2 -0.1 -1.5 -2.5 -1.1 -0.2 -0.1 2.1 -1.2 -0.3 -1.4 -2.5 -1.2 -0.4 -0.4 1.9 -1.3 -0.5 -1.2 -2.6 -1.2 -0.6 -0.6 1.7 -1.3 -0.8 -1 -2.6 -1.2 -0.8 -0.8 1.4 -1.3 -0.9 -0.8 -2.6 -1.2 -1 -1 1.1 -1.3 -1.1 -0.5 -2.5 -1.2 -1.1 -1.2 0.8 -1.3 -1.3 -0.3 -2.4 -1.2 -1.3 -1.4 0.5 -1.2 -1.4 -0 -2.3 -1.1 -1.4 -1.6 0.2 -1.1 -1.5 0.2 -2.1 -1 -1.5 -1.7 -0.1 -1 -1.6 0.4 -1.9 -0.9 -1.6 -1.8 -0.4 -0.9 -1.7 0.7 -1.6 -0.8 -1.6 -1.9 -0.8 -0.8 -1.7 0.9 -1.3 -0.7 -1.7 -1.9 -1.1 -0.7 -1.8 1.1 -1.1 -0.6 -1.7 -1.9 -1.4 -0.5 -1.7 1.3 -0.7 -0.4 -1.6 -1.9 -1.6 -0.4 -1.7 1.5 -0.4 -0.3 -1.6 -1.9 -1.9 -0.2 -1.6 1.6 -0.1 -0.1 -1.5 -1.8 -2.1 -0.1 -1.5 1.7 0.2 0 -1.4 -1.7 -2.3 0.1 -1.4 1.8 0.5 0.2 -1.3 -1.6 -2.4 0.3 -1.3 1.9 0.9 0.3 -1.1 -1.4 -2.5 0.4 -1.1 1.9 1.2 0.5 -1 -1.2 -2.6 0.6 -0.9 1.9 1.5 0.6 -0.8 -1 -2.6 0.7 -0.7 1.9 1.7 0.8 -0.6 -0.8 -2.6 0.9 -0.5 1.9 1.9 0.9 -0.4 -0.6 -2.5 1 -0.3 1.8 2.1 1 -0.2 -0.4 -2.4 1.1 -0.1 1.7 2.3 1.1 0 -0.1 -2.3 1.2 0.1 1.5 2.5 1.1 0.2 0.1 -2.1 1.2 0.3 1.4 2.5 1.2 0.4 0.4 -1.9 1.3 0.5 1.2 2.6 1.2 0.6 0.6 -1.7 1.3 0.8 1 2.6 1.2 0.8 0.8 -1.4 1.3 0.9 0.8 2.6 1.2 1 1 -1.1 1.3 1.1 0.5 2.5 1.2 1.1 1.2 -0.8 1.3 1.3 0.3 2.4 1.2 1.3 1.4 -0.5 1.2 1.4 0 2.3 1.1 1.4 1.6 -0.2 1.1 1.5 -0.2 2.1 1 1.5 1.7 0.1 1 1.6 -0.4 1.9 0.9 1.6Z" fill="#fff" stroke="#000" stroke-width="1.4" fill-rule="evenodd"/>
<path d="M582 890.2 A24.2 46.5 -30 0 1 570.7 943.2 A24.2 46.5 -30 0 1 530.5 873.5 A24.2 46.5 -30 0 1 582 890.2Z" fill="#fff" stroke="#000" stroke-width="1.3" fill-rule="evenodd"/>
<path d="M544.7 866.8 A20.5 39.5 -30 0 1 582 898.1 A20.5 39.5 -30 0 1 577.4 937.8" fill="none" stroke="#000" stroke-width="2.4" stroke-dasharray="2 1.3"/>
<path d="M570.3 896.7l1.8 0.4 0.9 1.7 -0.7 1.6 0.8 1.6 1.9 0.8 0.8 1.7 -0.9 1.3 0.7 1.7 1.9 1.1 0.7 1.8 -1.1 1.1 0.6 1.7 1.9 1.4 0.5 1.7 -1.3 0.7 0.4 1.6 1.9 1.6 0.4 1.7 -1.5 0.4 0.3 1.6 1.9 1.9 0.2 1.6 -1.6 0.1 0.1 1.5 1.8 2.1 0.1 1.5 -1.7 -0.2 -0 1.4 1.7 2.3 -0.1 1.4 -1.8 -0.5 -0.2 1.3 1.6 2.4 -0.3 1.3 -1.9 -0.9 -0.3 1.1 1.4 2.5 -0.4 1.1 -1.9 -1.2 -0.5 1 1.2 2.6 -0.6 0.9 -1.9 -1.5 -0.6 0.8 1 2.6 -0.7 0.7 -1.9 -1.7 -0.8 0.6 0.8 2.6 -0.9 0.5 -1.9 -1.9 -0.9 0.4 0.6 2.5 -1 0.3 -1.8 -2.1 -1 0.2 0.4 2.4 -1.1 0.1 -1.7 -2.3 -1.1 -0 0.1 2.3 -1.2 -0.1 -1.5 -2.5 -1.1 -0.2 -0.1 2.1 -1.2 -0.3 -1.4 -2.5 -1.2 -0.4 -0.4 1.9 -1.3 -0.5 -1.2 -2.6 -1.2 -0.6 -0.6 1.7 -1.3 -0.8 -1 -2.6 -1.2 -0.8 -0.8 1.4 -1.3 -0.9 -0.8 -2.6 -1.2 -1 -1 1.1 -1.3 -1.1 -0.5 -2.5 -1.2 -1.1 -1.2 0.8 -1.3 -1.3 -0.3 -2.4 -1.2 -1.3 -1.4 0.5 -1.2 -1.4 -0 -2.3 -1.1 -1.4 -1.6 0.2 -1.1 -1.5 0.2 -2.1 -1 -1.5 -1.7 -0.1 -1 -1.6 0.4 -1.9 -0.9 -1.6 -1.8 -0.4 -0.9 -1.7 0.7 -1.6 -0.8 -1.6 -1.9 -0.8 -0.8 -1.7 0.9 -1.3 -0.7 -1.7 -1.9 -1.1 -0.7 -1.8 1.1 -1.1 -0.6 -1.7 -1.9 -1.4 -0.5 -1.7 1.3 -0.7 -0.4 -1.6 -1.9 -1.6 -0.4 -1.7 1.5 -0.4 -0.3 -1.6 -1.9 -1.9 -0.2 -1.6 1.6 -0.1 -0.1 -1.5 -1.8 -2.1 -0.1 -1.5 1.7 0.2 0 -1.4 -1.7 -2.3 0.1 -1.4 1.8 0.5 0.2 -1.3 -1.6 -2.4 0.3 -1.3 1.9 0.9 0.3 -1.1 -1.4 -2.5 0.4 -1.1 1.9 1.2 0.5 -1 -1.2 -2.6 0.6 -0.9 1.9 1.5 0.6 -0.8 -1 -2.6 0.7 -0.7 1.9 1.7 0.8 -0.6 -0.8 -2.6 0.9 -0.5 1.9 1.9 0.9 -0.4 -0.6 -2.5 1 -0.3 1.8 2.1 1 -0.2 -0.4 -2.4 1.1 -0.1 1.7 2.3 1.1 0 -0.1 -2.3 1.2 0.1 1.5 2.5 1.1 0.2 0.1 -2.1 1.2 0.3 1.4 2.5 1.2 0.4 0.4 -1.9 1.3 0.5 1.2 2.6 1.2 0.6 0.6 -1.7 1.3 0.8 1 2.6 1.2 0.8 0.8 -1.4 1.3 0.9 0.8 2.6 1.2 1 1 -1.1 1.3 1.1 0.5 2.5 1.2 1.1 1.2 -0.8 1.3 1.3 0.3 2.4 1.2 1.3 1.4 -0.5 1.2 1.4 0 2.3 1.1 1.4 1.6 -0.2 1.1 1.5 -0.2 2.1 1 1.5 1.7 0.1 1 1.6 -0.4 1.9 0.9 1.6Z" fill="#fff" stroke="#000" stroke-width="1.4" fill-rule="evenodd"/>
<path d="M560.5 902.1 A24.2 46.5 -30 0 1 549.2 955.2 A24.2 46.5 -30 0 1 509 885.4 A24.2 46.5 -30 0 1 560.5 902.1Z" fill="#fff" stroke="#000" stroke-width="1.3" fill-rule="evenodd"/>
<path d="M551.8 907 A24.2 46.5 -30 0 1 540.5 960 A24.2 46.5 -30 0 1 500.3 890.2 A24.2 46.5 -30 0 1 551.8 907Z" fill="#fff" stroke="#000" stroke-width="1.3" fill-rule="evenodd"/>
<path d="M544.5 911l1.8 0.4 0.9 1.7 -0.7 1.6 0.8 1.6 1.9 0.8 0.8 1.7 -0.9 1.3 0.7 1.7 1.9 1.1 0.7 1.8 -1.1 1.1 0.6 1.7 1.9 1.4 0.5 1.7 -1.3 0.7 0.4 1.6 1.9 1.6 0.4 1.7 -1.5 0.4 0.3 1.6 1.9 1.9 0.2 1.6 -1.6 0.1 0.1 1.5 1.8 2.1 0.1 1.5 -1.7 -0.2 -0 1.4 1.7 2.3 -0.1 1.4 -1.8 -0.5 -0.2 1.3 1.6 2.4 -0.3 1.3 -1.9 -0.9 -0.3 1.1 1.4 2.5 -0.4 1.1 -1.9 -1.2 -0.5 1 1.2 2.6 -0.6 0.9 -1.9 -1.5 -0.6 0.8 1 2.6 -0.7 0.7 -1.9 -1.7 -0.8 0.6 0.8 2.6 -0.9 0.5 -1.9 -1.9 -0.9 0.4 0.6 2.5 -1 0.3 -1.8 -2.1 -1 0.2 0.4 2.4 -1.1 0.1 -1.7 -2.3 -1.1 -0 0.1 2.3 -1.2 -0.1 -1.5 -2.5 -1.1 -0.2 -0.1 2.1 -1.2 -0.3 -1.4 -2.5 -1.2 -0.4 -0.4 1.9 -1.3 -0.5 -1.2 -2.6 -1.2 -0.6 -0.6 1.7 -1.3 -0.8 -1 -2.6 -1.2 -0.8 -0.8 1.4 -1.3 -0.9 -0.8 -2.6 -1.2 -1 -1 1.1 -1.3 -1.1 -0.5 -2.5 -1.2 -1.1 -1.2 0.8 -1.3 -1.3 -0.3 -2.4 -1.2 -1.3 -1.4 0.5 -1.2 -1.4 -0 -2.3 -1.1 -1.4 -1.6 0.2 -1.1 -1.5 0.2 -2.1 -1 -1.5 -1.7 -0.1 -1 -1.6 0.4 -1.9 -0.9 -1.6 -1.8 -0.4 -0.9 -1.7 0.7 -1.6 -0.8 -1.6 -1.9 -0.8 -0.8 -1.7 0.9 -1.3 -0.7 -1.7 -1.9 -1.1 -0.7 -1.8 1.1 -1.1 -0.6 -1.7 -1.9 -1.4 -0.5 -1.7 1.3 -0.7 -0.4 -1.6 -1.9 -1.6 -0.4 -1.7 1.5 -0.4 -0.3 -1.6 -1.9 -1.9 -0.2 -1.6 1.6 -0.1 -0.1 -1.5 -1.8 -2.1 -0.1 -1.5 1.7 0.2 0 -1.4 -1.7 -2.3 0.1 -1.4 1.8 0.5 0.2 -1.3 -1.6 -2.4 0.3 -1.3 1.9 0.9 0.3 -1.1 -1.4 -2.5 0.4 -1.1 1.9 1.2 0.5 -1 -1.2 -2.6 0.6 -0.9 1.9 1.5 0.6 -0.8 -1 -2.6 0.7 -0.7 1.9 1.7 0.8 -0.6 -0.8 -2.6 0.9 -0.5 1.9 1.9 0.9 -0.4 -0.6 -2.5 1 -0.3 1.8 2.1 1 -0.2 -0.4 -2.4 1.1 -0.1 1.7 2.3 1.1 0 -0.1 -2.3 1.2 0.1 1.5 2.5 1.1 0.2 0.1 -2.1 1.2 0.3 1.4 2.5 1.2 0.4 0.4 -1.9 1.3 0.5 1.2 2.6 1.2 0.6 0.6 -1.7 1.3 0.8 1 2.6 1.2 0.8 0.8 -1.4 1.3 0.9 0.8 2.6 1.2 1 1 -1.1 1.3 1.1 0.5 2.5 1.2 1.1 1.2 -0.8 1.3 1.3 0.3 2.4 1.2 1.3 1.4 -0.5 1.2 1.4 0 2.3 1.1 1.4 1.6 -0.2 1.1 1.5 -0.2 2.1 1 1.5 1.7 0.1 1 1.6 -0.4 1.9 0.9 1.6Z" fill="#fff" stroke="#000" stroke-width="1.4" fill-rule="evenodd"/>
<path d="M530.3 918.9 A24.2 46.5 -30 0 1 519 971.9 A24.2 46.5 -30 0 1 478.8 902.2 A24.2 46.5 -30 0 1 530.3 918.9Z" fill="#fff" stroke="#000" stroke-width="1.3" fill-rule="evenodd"/>
<path d="M493 895.5 A20.5 39.5 -30 0 1 530.3 926.8 A20.5 39.5 -30 0 1 525.7 966.5" fill="none" stroke="#000" stroke-width="2.4" stroke-dasharray="2 1.3"/>
<path d="M518.6 925.4l1.8 0.4 0.9 1.7 -0.7 1.6 0.8 1.6 1.9 0.8 0.8 1.7 -0.9 1.3 0.7 1.7 1.9 1.1 0.7 1.8 -1.1 1.1 0.6 1.7 1.9 1.4 0.5 1.7 -1.3 0.7 0.4 1.6 1.9 1.6 0.4 1.7 -1.5 0.4 0.3 1.6 1.9 1.9 0.2 1.6 -1.6 0.1 0.1 1.5 1.8 2.1 0.1 1.5 -1.7 -0.2 -0 1.4 1.7 2.3 -0.1 1.4 -1.8 -0.5 -0.2 1.3 1.6 2.4 -0.3 1.3 -1.9 -0.9 -0.3 1.1 1.4 2.5 -0.4 1.1 -1.9 -1.2 -0.5 1 1.2 2.6 -0.6 0.9 -1.9 -1.5 -0.6 0.8 1 2.6 -0.7 0.7 -1.9 -1.7 -0.8 0.6 0.8 2.6 -0.9 0.5 -1.9 -1.9 -0.9 0.4 0.6 2.5 -1 0.3 -1.8 -2.1 -1 0.2 0.4 2.4 -1.1 0.1 -1.7 -2.3 -1.1 -0 0.1 2.3 -1.2 -0.1 -1.5 -2.5 -1.1 -0.2 -0.1 2.1 -1.2 -0.3 -1.4 -2.5 -1.2 -0.4 -0.4 1.9 -1.3 -0.5 -1.2 -2.6 -1.2 -0.6 -0.6 1.7 -1.3 -0.8 -1 -2.6 -1.2 -0.8 -0.8 1.4 -1.3 -0.9 -0.8 -2.6 -1.2 -1 -1 1.1 -1.3 -1.1 -0.5 -2.5 -1.2 -1.1 -1.2 0.8 -1.3 -1.3 -0.3 -2.4 -1.2 -1.3 -1.4 0.5 -1.2 -1.4 -0 -2.3 -1.1 -1.4 -1.6 0.2 -1.1 -1.5 0.2 -2.1 -1 -1.5 -1.7 -0.1 -1 -1.6 0.4 -1.9 -0.9 -1.6 -1.8 -0.4 -0.9 -1.7 0.7 -1.6 -0.8 -1.6 -1.9 -0.8 -0.8 -1.7 0.9 -1.3 -0.7 -1.7 -1.9 -1.1 -0.7 -1.8 1.1 -1.1 -0.6 -1.7 -1.9 -1.4 -0.5 -1.7 1.3 -0.7 -0.4 -1.6 -1.9 -1.6 -0.4 -1.7 1.5 -0.4 -0.3 -1.6 -1.9 -1.9 -0.2 -1.6 1.6 -0.1 -0.1 -1.5 -1.8 -2.1 -0.1 -1.5 1.7 0.2 0 -1.4 -1.7 -2.3 0.1 -1.4 1.8 0.5 0.2 -1.3 -1.6 -2.4 0.3 -1.3 1.9 0.9 0.3 -1.1 -1.4 -2.5 0.4 -1.1 1.9 1.2 0.5 -1 -1.2 -2.6 0.6 -0.9 1.9 1.5 0.6 -0.8 -1 -2.6 0.7 -0.7 1.9 1.7 0.8 -0.6 -0.8 -2.6 0.9 -0.5 1.9 1.9 0.9 -0.4 -0.6 -2.5 1 -0.3 1.8 2.1 1 -0.2 -0.4 -2.4 1.1 -0.1 1.7 2.3 1.1 0 -0.1 -2.3 1.2 0.1 1.5 2.5 1.1 0.2 0.1 -2.1 1.2 0.3 1.4 2.5 1.2 0.4 0.4 -1.9 1.3 0.5 1.2 2.6 1.2 0.6 0.6 -1.7 1.3 0.8 1 2.6 1.2 0.8 0.8 -1.4 1.3 0.9 0.8 2.6 1.2 1 1 -1.1 1.3 1.1 0.5 2.5 1.2 1.1 1.2 -0.8 1.3 1.3 0.3 2.4 1.2 1.3 1.4 -0.5 1.2 1.4 0 2.3 1.1 1.4 1.6 -0.2 1.1 1.5 -0.2 2.1 1 1.5 1.7 0.1 1 1.6 -0.4 1.9 0.9 1.6Z" fill="#fff" stroke="#000" stroke-width="1.4" fill-rule="evenodd"/>
<path d="M508.8 930.8 A24.2 46.5 -30 0 1 497.5 983.9 A24.2 46.5 -30 0 1 457.3 914.1 A24.2 46.5 -30 0 1 508.8 930.8Z" fill="#fff" stroke="#000" stroke-width="1.3" fill-rule="evenodd"/>
<path d="M500.1 935.7 A24.2 46.5 -30 0 1 488.8 988.7 A24.2 46.5 -30 0 1 448.6 918.9 A24.2 46.5 -30 0 1 500.1 935.7Z" fill="#fff" stroke="#000" stroke-width="1.3" fill-rule="evenodd"/>
<path d="M492.8 939.7l1.8 0.4 0.9 1.7 -0.7 1.6 0.8 1.6 1.9 0.8 0.8 1.7 -0.9 1.3 0.7 1.7 1.9 1.1 0.7 1.8 -1.1 1.1 0.6 1.7 1.9 1.4 0.5 1.7 -1.3 0.7 0.4 1.6 1.9 1.6 0.4 1.7 -1.5 0.4 0.3 1.6 1.9 1.9 0.2 1.6 -1.6 0.1 0.1 1.5 1.8 2.1 0.1 1.5 -1.7 -0.2 -0 1.4 1.7 2.3 -0.1 1.4 -1.8 -0.5 -0.2 1.3 1.6 2.4 -0.3 1.3 -1.9 -0.9 -0.3 1.1 1.4 2.5 -0.4 1.1 -1.9 -1.2 -0.5 1 1.2 2.6 -0.6 0.9 -1.9 -1.5 -0.6 0.8 1 2.6 -0.7 0.7 -1.9 -1.7 -0.8 0.6 0.8 2.6 -0.9 0.5 -1.9 -1.9 -0.9 0.4 0.6 2.5 -1 0.3 -1.8 -2.1 -1 0.2 0.4 2.4 -1.1 0.1 -1.7 -2.3 -1.1 -0 0.1 2.3 -1.2 -0.1 -1.5 -2.5 -1.1 -0.2 -0.1 2.1 -1.2 -0.3 -1.4 -2.5 -1.2 -0.4 -0.4 1.9 -1.3 -0.5 -1.2 -2.6 -1.2 -0.6 -0.6 1.7 -1.3 -0.8 -1 -2.6 -1.2 -0.8 -0.8 1.4 -1.3 -0.9 -0.8 -2.6 -1.2 -1 -1 1.1 -1.3 -1.1 -0.5 -2.5 -1.2 -1.1 -1.2 0.8 -1.3 -1.3 -0.3 -2.4 -1.2 -1.3 -1.4 0.5 -1.2 -1.4 -0 -2.3 -1.1 -1.4 -1.6 0.2 -1.1 -1.5 0.2 -2.1 -1 -1.5 -1.7 -0.1 -1 -1.6 0.4 -1.9 -0.9 -1.6 -1.8 -0.4 -0.9 -1.7 0.7 -1.6 -0.8 -1.6 -1.9 -0.8 -0.8 -1.7 0.9 -1.3 -0.7 -1.7 -1.9 -1.1 -0.7 -1.8 1.1 -1.1 -0.6 -1.7 -1.9 -1.4 -0.5 -1.7 1.3 -0.7 -0.4 -1.6 -1.9 -1.6 -0.4 -1.7 1.5 -0.4 -0.3 -1.6 -1.9 -1.9 -0.2 -1.6 1.6 -0.1 -0.1 -1.5 -1.8 -2.1 -0.1 -1.5 1.7 0.2 0 -1.4 -1.7 -2.3 0.1 -1.4 1.8 0.5 0.2 -1.3 -1.6 -2.4 0.3 -1.3 1.9 0.9 0.3 -1.1 -1.4 -2.5 0.4 -1.1 1.9 1.2 0.5 -1 -1.2 -2.6 0.6 -0.9 1.9 1.5 0.6 -0.8 -1 -2.6 0.7 -0.7 1.9 1.7 0.8 -0.6 -0.8 -2.6 0.9 -0.5 1.9 1.9 0.9 -0.4 -0.6 -2.5 1 -0.3 1.8 2.1 1 -0.2 -0.4 -2.4 1.1 -0.1 1.7 2.3 1.1 0 -0.1 -2.3 1.2 0.1 1.5 2.5 1.1 0.2 0.1 -2.1 1.2 0.3 1.4 2.5 1.2 0.4 0.4 -1.9 1.3 0.5 1.2 2.6 1.2 0.6 0.6 -1.7 1.3 0.8 1 2.6 1.2 0.8 0.8 -1.4 1.3 0.9 0.8 2.6 1.2 1 1 -1.1 1.3 1.1 0.5 2.5 1.2 1.1 1.2 -0.8 1.3 1.3 0.3 2.4 1.2 1.3 1.4 -0.5 1.2 1.4 0 2.3 1.1 1.4 1.6 -0.2 1.1 1.5 -0.2 2.1 1 1.5 1.7 0.1 1 1.6 -0.4 1.9 0.9 1.6Z" fill="#fff" stroke="#000" stroke-width="1.4" fill-rule="evenodd"/>
<path d="M478.6 947.6 A24.2 46.5 -30 0 1 467.3 1000.6 A24.2 46.5 -30 0 1 427.1 930.9 A24.2 46.5 -30 0 1 478.6 947.6Z" fill="#fff" stroke="#000" stroke-width="1.3" fill-rule="evenodd"/>
<path d="M441.3 924.2 A20.5 39.5 -30 0 1 478.6 955.5 A20.5 39.5 -30 0 1 474 995.2" fill="none" stroke="#000" stroke-width="2.4" stroke-dasharray="2 1.3"/>
<path d="M466.9 954.1l1.8 0.4 0.9 1.7 -0.7 1.6 0.8 1.6 1.9 0.8 0.8 1.7 -0.9 1.3 0.7 1.7 1.9 1.1 0.7 1.8 -1.1 1.1 0.6 1.7 1.9 1.4 0.5 1.7 -1.3 0.7 0.4 1.6 1.9 1.6 0.4 1.7 -1.5 0.4 0.3 1.6 1.9 1.9 0.2 1.6 -1.6 0.1 0.1 1.5 1.8 2.1 0.1 1.5 -1.7 -0.2 -0 1.4 1.7 2.3 -0.1 1.4 -1.8 -0.5 -0.2 1.3 1.6 2.4 -0.3 1.3 -1.9 -0.9 -0.3 1.1 1.4 2.5 -0.4 1.1 -1.9 -1.2 -0.5 1 1.2 2.6 -0.6 0.9 -1.9 -1.5 -0.6 0.8 1 2.6 -0.7 0.7 -1.9 -1.7 -0.8 0.6 0.8 2.6 -0.9 0.5 -1.9 -1.9 -0.9 0.4 0.6 2.5 -1 0.3 -1.8 -2.1 -1 0.2 0.4 2.4 -1.1 0.1 -1.7 -2.3 -1.1 -0 0.1 2.3 -1.2 -0.1 -1.5 -2.5 -1.1 -0.2 -0.1 2.1 -1.2 -0.3 -1.4 -2.5 -1.2 -0.4 -0.4 1.9 -1.3 -0.5 -1.2 -2.6 -1.2 -0.6 -0.6 1.7 -1.3 -0.8 -1 -2.6 -1.2 -0.8 -0.8 1.4 -1.3 -0.9 -0.8 -2.6 -1.2 -1 -1 1.1 -1.3 -1.1 -0.5 -2.5 -1.2 -1.1 -1.2 0.8 -1.3 -1.3 -0.3 -2.4 -1.2 -1.3 -1.4 0.5 -1.2 -1.4 -0 -2.3 -1.1 -1.4 -1.6 0.2 -1.1 -1.5 0.2 -2.1 -1 -1.5 -1.7 -0.1 -1 -1.6 0.4 -1.9 -0.9 -1.6 -1.8 -0.4 -0.9 -1.7 0.7 -1.6 -0.8 -1.6 -1.9 -0.8 -0.8 -1.7 0.9 -1.3 -0.7 -1.7 -1.9 -1.1 -0.7 -1.8 1.1 -1.1 -0.6 -1.7 -1.9 -1.4 -0.5 -1.7 1.3 -0.7 -0.4 -1.6 -1.9 -1.6 -0.4 -1.7 1.5 -0.4 -0.3 -1.6 -1.9 -1.9 -0.2 -1.6 1.6 -0.1 -0.1 -1.5 -1.8 -2.1 -0.1 -1.5 1.7 0.2 0 -1.4 -1.7 -2.3 0.1 -1.4 1.8 0.5 0.2 -1.3 -1.6 -2.4 0.3 -1.3 1.9 0.9 0.3 -1.1 -1.4 -2.5 0.4 -1.1 1.9 1.2 0.5 -1 -1.2 -2.6 0.6 -0.9 1.9 1.5 0.6 -0.8 -1 -2.6 0.7 -0.7 1.9 1.7 0.8 -0.6 -0.8 -2.6 0.9 -0.5 1.9 1.9 0.9 -0.4 -0.6 -2.5 1 -0.3 1.8 2.1 1 -0.2 -0.4 -2.4 1.1 -0.1 1.7 2.3 1.1 0 -0.1 -2.3 1.2 0.1 1.5 2.5 1.1 0.2 0.1 -2.1 1.2 0.3 1.4 2.5 1.2 0.4 0.4 -1.9 1.3 0.5 1.2 2.6 1.2 0.6 0.6 -1.7 1.3 0.8 1 2.6 1.2 0.8 0.8 -1.4 1.3 0.9 0.8 2.6 1.2 1 1 -1.1 1.3 1.1 0.5 2.5 1.2 1.1 1.2 -0.8 1.3 1.3 0.3 2.4 1.2 1.3 1.4 -0.5 1.2 1.4 0 2.3 1.1 1.4 1.6 -0.2 1.1 1.5 -0.2 2.1 1 1.5 1.7 0.1 1 1.6 -0.4 1.9 0.9 1.6Z" fill="#fff" stroke="#000" stroke-width="1.4" fill-rule="evenodd"/>
<path d="M457.1 959.5 A24.2 46.5 -30 0 1 445.8 1012.6 A24.2 46.5 -30 0 1 405.6 942.8 A24.2 46.5 -30 0 1 457.1 959.5Z" fill="#fff" stroke="#000" stroke-width="1.3" fill-rule="evenodd"/>
<path d="M448.4 964.4 A24.2 46.5 -30 0 1 437.1 1017.4 A24.2 46.5 -30 0 1 396.9 947.6 A24.2 46.5 -30 0 1 448.4 964.4Z" fill="#fff" stroke="#000" stroke-width="1.3" fill-rule="evenodd"/>
<path d="M441.1 968.4l1.8 0.4 0.9 1.7 -0.7 1.6 0.8 1.6 1.9 0.8 0.8 1.7 -0.9 1.3 0.7 1.7 1.9 1.1 0.7 1.8 -1.1 1.1 0.6 1.7 1.9 1.4 0.5 1.7 -1.3 0.7 0.4 1.6 1.9 1.6 0.4 1.7 -1.5 0.4 0.3 1.6 1.9 1.9 0.2 1.6 -1.6 0.1 0.1 1.5 1.8 2.1 0.1 1.5 -1.7 -0.2 -0 1.4 1.7 2.3 -0.1 1.4 -1.8 -0.5 -0.2 1.3 1.6 2.4 -0.3 1.3 -1.9 -0.9 -0.3 1.1 1.4 2.5 -0.4 1.1 -1.9 -1.2 -0.5 1 1.2 2.6 -0.6 0.9 -1.9 -1.5 -0.6 0.8 1 2.6 -0.7 0.7 -1.9 -1.7 -0.8 0.6 0.8 2.6 -0.9 0.5 -1.9 -1.9 -0.9 0.4 0.6 2.5 -1 0.3 -1.8 -2.1 -1 0.2 0.4 2.4 -1.1 0.1 -1.7 -2.3 -1.1 -0 0.1 2.3 -1.2 -0.1 -1.5 -2.5 -1.1 -0.2 -0.1 2.1 -1.2 -0.3 -1.4 -2.5 -1.2 -0.4 -0.4 1.9 -1.3 -0.5 -1.2 -2.6 -1.2 -0.6 -0.6 1.7 -1.3 -0.8 -1 -2.6 -1.2 -0.8 -0.8 1.4 -1.3 -0.9 -0.8 -2.6 -1.2 -1 -1 1.1 -1.3 -1.1 -0.5 -2.5 -1.2 -1.1 -1.2 0.8 -1.3 -1.3 -0.3 -2.4 -1.2 -1.3 -1.4 0.5 -1.2 -1.4 -0 -2.3 -1.1 -1.4 -1.6 0.2 -1.1 -1.5 0.2 -2.1 -1 -1.5 -1.7 -0.1 -1 -1.6 0.4 -1.9 -0.9 -1.6 -1.8 -0.4 -0.9 -1.7 0.7 -1.6 -0.8 -1.6 -1.9 -0.8 -0.8 -1.7 0.9 -1.3 -0.7 -1.7 -1.9 -1.1 -0.7 -1.8 1.1 -1.1 -0.6 -1.7 -1.9 -1.4 -0.5 -1.7 1.3 -0.7 -0.4 -1.6 -1.9 -1.6 -0.4 -1.7 1.5 -0.4 -0.3 -1.6 -1.9 -1.9 -0.2 -1.6 1.6 -0.1 -0.1 -1.5 -1.8 -2.1 -0.1 -1.5 1.7 0.2 0 -1.4 -1.7 -2.3 0.1 -1.4 1.8 0.5 0.2 -1.3 -1.6 -2.4 0.3 -1.3 1.9 0.9 0.3 -1.1 -1.4 -2.5 0.4 -1.1 1.9 1.2 0.5 -1 -1.2 -2.6 0.6 -0.9 1.9 1.5 0.6 -0.8 -1 -2.6 0.7 -0.7 1.9 1.7 0.8 -0.6 -0.8 -2.6 0.9 -0.5 1.9 1.9 0.9 -0.4 -0.6 -2.5 1 -0.3 1.8 2.1 1 -0.2 -0.4 -2.4 1.1 -0.1 1.7 2.3 1.1 0 -0.1 -2.3 1.2 0.1 1.5 2.5 1.1 0.2 0.1 -2.1 1.2 0.3 1.4 2.5 1.2 0.4 0.4 -1.9 1.3 0.5 1.2 2.6 1.2 0.6 0.6 -1.7 1.3 0.8 1 2.6 1.2 0.8 0.8 -1.4 1.3 0.9 0.8 2.6 1.2 1 1 -1.1 1.3 1.1 0.5 2.5 1.2 1.1 1.2 -0.8 1.3 1.3 0.3 2.4 1.2 1.3 1.4 -0.5 1.2 1.4 0 2.3 1.1 1.4 1.6 -0.2 1.1 1.5 -0.2 2.1 1 1.5 1.7 0.1 1 1.6 -0.4 1.9 0.9 1.6Z" fill="#fff" stroke="#000" stroke-width="1.4" fill-rule="evenodd"/>
<path d="M426.9 976.3 A24.2 46.5 -30 0 1 415.6 1029.3 A24.2 46.5 -30 0 1 375.4 959.6 A24.2 46.5 -30 0 1 426.9 976.3Z" fill="#fff" stroke="#000" stroke-width="1.3" fill-rule="evenodd"/>
<path d="M389.6 952.9 A20.5 39.5 -30 0 1 426.9 984.2 A20.5 39.5 -30 0 1 422.3 1023.9" fill="none" stroke="#000" stroke-width="2.4" stroke-dasharray="2 1.3"/>
<path d="M415.2 982.8l1.8 0.4 0.9 1.7 -0.7 1.6 0.8 1.6 1.9 0.8 0.8 1.7 -0.9 1.3 0.7 1.7 1.9 1.1 0.7 1.8 -1.1 1.1 0.6 1.7 1.9 1.4 0.5 1.7 -1.3 0.7 0.4 1.6 1.9 1.6 0.4 1.7 -1.5 0.4 0.3 1.6 1.9 1.9 0.2 1.6 -1.6 0.1 0.1 1.5 1.8 2.1 0.1 1.5 -1.7 -0.2 -0 1.4 1.7 2.3 -0.1 1.4 -1.8 -0.5 -0.2 1.3 1.6 2.4 -0.3 1.3 -1.9 -0.9 -0.3 1.1 1.4 2.5 -0.4 1.1 -1.9 -1.2 -0.5 1 1.2 2.6 -0.6 0.9 -1.9 -1.5 -0.6 0.8 1 2.6 -0.7 0.7 -1.9 -1.7 -0.8 0.6 0.8 2.6 -0.9 0.5 -1.9 -1.9 -0.9 0.4 0.6 2.5 -1 0.3 -1.8 -2.1 -1 0.2 0.4 2.4 -1.1 0.1 -1.7 -2.3 -1.1 -0 0.1 2.3 -1.2 -0.1 -1.5 -2.5 -1.1 -0.2 -0.1 2.1 -1.2 -0.3 -1.4 -2.5 -1.2 -0.4 -0.4 1.9 -1.3 -0.5 -1.2 -2.6 -1.2 -0.6 -0.6 1.7 -1.3 -0.8 -1 -2.6 -1.2 -0.8 -0.8 1.4 -1.3 -0.9 -0.8 -2.6 -1.2 -1 -1 1.1 -1.3 -1.1 -0.5 -2.5 -1.2 -1.1 -1.2 0.8 -1.3 -1.3 -0.3 -2.4 -1.2 -1.3 -1.4 0.5 -1.2 -1.4 -0 -2.3 -1.1 -1.4 -1.6 0.2 -1.1 -1.5 0.2 -2.1 -1 -1.5 -1.7 -0.1 -1 -1.6 0.4 -1.9 -0.9 -1.6 -1.8 -0.4 -0.9 -1.7 0.7 -1.6 -0.8 -1.6 -1.9 -0.8 -0.8 -1.7 0.9 -1.3 -0.7 -1.7 -1.9 -1.1 -0.7 -1.8 1.1 -1.1 -0.6 -1.7 -1.9 -1.4 -0.5 -1.7 1.3 -0.7 -0.4 -1.6 -1.9 -1.6 -0.4 -1.7 1.5 -0.4 -0.3 -1.6 -1.9 -1.9 -0.2 -1.6 1.6 -0.1 -0.1 -1.5 -1.8 -2.1 -0.1 -1.5 1.7 0.2 0 -1.4 -1.7 -2.3 0.1 -1.4 1.8 0.5 0.2 -1.3 -1.6 -2.4 0.3 -1.3 1.9 0.9 0.3 -1.1 -1.4 -2.5 0.4 -1.1 1.9 1.2 0.5 -1 -1.2 -2.6 0.6 -0.9 1.9 1.5 0.6 -0.8 -1 -2.6 0.7 -0.7 1.9 1.7 0.8 -0.6 -0.8 -2.6 0.9 -0.5 1.9 1.9 0.9 -0.4 -0.6 -2.5 1 -0.3 1.8 2.1 1 -0.2 -0.4 -2.4 1.1 -0.1 1.7 2.3 1.1 0 -0.1 -2.3 1.2 0.1 1.5 2.5 1.1 0.2 0.1 -2.1 1.2 0.3 1.4 2.5 1.2 0.4 0.4 -1.9 1.3 0.5 1.2 2.6 1.2 0.6 0.6 -1.7 1.3 0.8 1 2.6 1.2 0.8 0.8 -1.4 1.3 0.9 0.8 2.6 1.2 1 1 -1.1 1.3 1.1 0.5 2.5 1.2 1.1 1.2 -0.8 1.3 1.3 0.3 2.4 1.2 1.3 1.4 -0.5 1.2 1.4 0 2.3 1.1 1.4 1.6 -0.2 1.1 1.5 -0.2 2.1 1 1.5 1.7 0.1 1 1.6 -0.4 1.9 0.9 1.6Z" fill="#fff" stroke="#000" stroke-width="1.4" fill-rule="evenodd"/>
<path d="M405.4 988.2 A24.2 46.5 -30 0 1 394.1 1041.3 A24.2 46.5 -30 0 1 353.9 971.5 A24.2 46.5 -30 0 1 405.4 988.2Z" fill="#fff" stroke="#000" stroke-width="1.3" fill-rule="evenodd"/>
<path d="M396.7 993.1 A24.2 46.5 -30 0 1 385.4 1046.1 A24.2 46.5 -30 0 1 345.2 976.3 A24.2 46.5 -30 0 1 396.7 993.1Z" fill="#fff" stroke="#000" stroke-width="1.3" fill-rule="evenodd"/>
<path d="M389.4 997.1l1.8 0.4 0.9 1.7 -0.7 1.6 0.8 1.6 1.9 0.8 0.8 1.7 -0.9 1.3 0.7 1.7 1.9 1.1 0.7 1.8 -1.1 1.1 0.6 1.7 1.9 1.4 0.5 1.7 -1.3 0.7 0.4 1.6 1.9 1.6 0.4 1.7 -1.5 0.4 0.3 1.6 1.9 1.9 0.2 1.6 -1.6 0.1 0.1 1.5 1.8 2.1 0.1 1.5 -1.7 -0.2 -0 1.4 1.7 2.3 -0.1 1.4 -1.8 -0.5 -0.2 1.3 1.6 2.4 -0.3 1.3 -1.9 -0.9 -0.3 1.1 1.4 2.5 -0.4 1.1 -1.9 -1.2 -0.5 1 1.2 2.6 -0.6 0.9 -1.9 -1.5 -0.6 0.8 1 2.6 -0.7 0.7 -1.9 -1.7 -0.8 0.6 0.8 2.6 -0.9 0.5 -1.9 -1.9 -0.9 0.4 0.6 2.5 -1 0.3 -1.8 -2.1 -1 0.2 0.4 2.4 -1.1 0.1 -1.7 -2.3 -1.1 -0 0.1 2.3 -1.2 -0.1 -1.5 -2.5 -1.1 -0.2 -0.1 2.1 -1.2 -0.3 -1.4 -2.5 -1.2 -0.4 -0.4 1.9 -1.3 -0.5 -1.2 -2.6 -1.2 -0.6 -0.6 1.7 -1.3 -0.8 -1 -2.6 -1.2 -0.8 -0.8 1.4 -1.3 -0.9 -0.8 -2.6 -1.2 -1 -1 1.1 -1.3 -1.1 -0.5 -2.5 -1.2 -1.1 -1.2 0.8 -1.3 -1.3 -0.3 -2.4 -1.2 -1.3 -1.4 0.5 -1.2 -1.4 -0 -2.3 -1.1 -1.4 -1.6 0.2 -1.1 -1.5 0.2 -2.1 -1 -1.5 -1.7 -0.1 -1 -1.6 0.4 -1.9 -0.9 -1.6 -1.8 -0.4 -0.9 -1.7 0.7 -1.6 -0.8 -1.6 -1.9 -0.8 -0.8 -1.7 0.9 -1.3 -0.7 -1.7 -1.9 -1.1 -0.7 -1.8 1.1 -1.1 -0.6 -1.7 -1.9 -1.4 -0.5 -1.7 1.3 -0.7 -0.4 -1.6 -1.9 -1.6 -0.4 -1.7 1.5 -0.4 -0.3 -1.6 -1.9 -1.9 -0.2 -1.6 1.6 -0.1 -0.1 -1.5 -1.8 -2.1 -0.1 -1.5 1.7 0.2 0 -1.4 -1.7 -2.3 0.1 -1.4 1.8 0.5 0.2 -1.3 -1.6 -2.4 0.3 -1.3 1.9 0.9 0.3 -1.1 -1.4 -2.5 0.4 -1.1 1.9 1.2 0.5 -1 -1.2 -2.6 0.6 -0.9 1.9 1.5 0.6 -0.8 -1 -2.6 0.7 -0.7 1.9 1.7 0.8 -0.6 -0.8 -2.6 0.9 -0.5 1.9 1.9 0.9 -0.4 -0.6 -2.5 1 -0.3 1.8 2.1 1 -0.2 -0.4 -2.4 1.1 -0.1 1.7 2.3 1.1 0 -0.1 -2.3 1.2 0.1 1.5 2.5 1.1 0.2 0.1 -2.1 1.2 0.3 1.4 2.5 1.2 0.4 0.4 -1.9 1.3 0.5 1.2 2.6 1.2 0.6 0.6 -1.7 1.3 0.8 1 2.6 1.2 0.8 0.8 -1.4 1.3 0.9 0.8 2.6 1.2 1 1 -1.1 1.3 1.1 0.5 2.5 1.2 1.1 1.2 -0.8 1.3 1.3 0.3 2.4 1.2 1.3 1.4 -0.5 1.2 1.4 0 2.3 1.1 1.4 1.6 -0.2 1.1 1.5 -0.2 2.1 1 1.5 1.7 0.1 1 1.6 -0.4 1.9 0.9 1.6Z" fill="#fff" stroke="#000" stroke-width="1.4" fill-rule="evenodd"/>
<path d="M375.2 1005 A24.2 46.5 -30 0 1 363.9 1058 A24.2 46.5 -30 0 1 323.7 988.3 A24.2 46.5 -30 0 1 375.2 1005Z" fill="#fff" stroke="#000" stroke-width="1.3" fill-rule="evenodd"/>
<path d="M337.9 981.6 A20.5 39.5 -30 0 1 375.2 1012.9 A20.5 39.5 -30 0 1 370.6 1052.6" fill="none" stroke="#000" stroke-width="2.4" stroke-dasharray="2 1.3"/>
<path d="M363.5 1011.5l1.8 0.4 0.9 1.7 -0.7 1.6 0.8 1.6 1.9 0.8 0.8 1.7 -0.9 1.3 0.7 1.7 1.9 1.1 0.7 1.8 -1.1 1.1 0.6 1.7 1.9 1.4 0.5 1.7 -1.3 0.7 0.4 1.6 1.9 1.6 0.4 1.7 -1.5 0.4 0.3 1.6 1.9 1.9 0.2 1.6 -1.6 0.1 0.1 1.5 1.8 2.1 0.1 1.5 -1.7 -0.2 -0 1.4 1.7 2.3 -0.1 1.4 -1.8 -0.5 -0.2 1.3 1.6 2.4 -0.3 1.3 -1.9 -0.9 -0.3 1.1 1.4 2.5 -0.4 1.1 -1.9 -1.2 -0.5 1 1.2 2.6 -0.6 0.9 -1.9 -1.5 -0.6 0.8 1 2.6 -0.7 0.7 -1.9 -1.7 -0.8 0.6 0.8 2.6 -0.9 0.5 -1.9 -1.9 -0.9 0.4 0.6 2.5 -1 0.3 -1.8 -2.1 -1 0.2 0.4 2.4 -1.1 0.1 -1.7 -2.3 -1.1 -0 0.1 2.3 -1.2 -0.1 -1.5 -2.5 -1.1 -0.2 -0.1 2.1 -1.2 -0.3 -1.4 -2.5 -1.2 -0.4 -0.4 1.9 -1.3 -0.5 -1.2 -2.6 -1.2 -0.6 -0.6 1.7 -1.3 -0.8 -1 -2.6 -1.2 -0.8 -0.8 1.4 -1.3 -0.9 -0.8 -2.6 -1.2 -1 -1 1.1 -1.3 -1.1 -0.5 -2.5 -1.2 -1.1 -1.2 0.8 -1.3 -1.3 -0.3 -2.4 -1.2 -1.3 -1.4 0.5 -1.2 -1.4 -0 -2.3 -1.1 -1.4 -1.6 0.2 -1.1 -1.5 0.2 -2.1 -1 -1.5 -1.7 -0.1 -1 -1.6 0.4 -1.9 -0.9 -1.6 -1.8 -0.4 -0.9 -1.7 0.7 -1.6 -0.8 -1.6 -1.9 -0.8 -0.8 -1.7 0.9 -1.3 -0.7 -1.7 -1.9 -1.1 -0.7 -1.8 1.1 -1.1 -0.6 -1.7 -1.9 -1.4 -0.5 -1.7 1.3 -0.7 -0.4 -1.6 -1.9 -1.6 -0.4 -1.7 1.5 -0.4 -0.3 -1.6 -1.9 -1.9 -0.2 -1.6 1.6 -0.1 -0.1 -1.5 -1.8 -2.1 -0.1 -1.5 1.7 0.2 0 -1.4 -1.7 -2.3 0.1 -1.4 1.8 0.5 0.2 -1.3 -1.6 -2.4 0.3 -1.3 1.9 0.9 0.3 -1.1 -1.4 -2.5 0.4 -1.1 1.9 1.2 0.5 -1 -1.2 -2.6 0.6 -0.9 1.9 1.5 0.6 -0.8 -1 -2.6 0.7 -0.7 1.9 1.7 0.8 -0.6 -0.8 -2.6 0.9 -0.5 1.9 1.9 0.9 -0.4 -0.6 -2.5 1 -0.3 1.8 2.1 1 -0.2 -0.4 -2.4 1.1 -0.1 1.7 2.3 1.1 0 -0.1 -2.3 1.2 0.1 1.5 2.5 1.1 0.2 0.1 -2.1 1.2 0.3 1.4 2.5 1.2 0.4 0.4 -1.9 1.3 0.5 1.2 2.6 1.2 0.6 0.6 -1.7 1.3 0.8 1 2.6 1.2 0.8 0.8 -1.4 1.3 0.9 0.8 2.6 1.2 1 1 -1.1 1.3 1.1 0.5 2.5 1.2 1.1 1.2 -0.8 1.3 1.3 0.3 2.4 1.2 1.3 1.4 -0.5 1.2 1.4 0 2.3 1.1 1.4 1.6 -0.2 1.1 1.5 -0.2 2.1 1 1.5 1.7 0.1 1 1.6 -0.4 1.9 0.9 1.6Z" fill="#fff" stroke="#000" stroke-width="1.4" fill-rule="evenodd"/>
<ellipse cx="342" cy="1027.2" rx="18.6" ry="31" transform="rotate(-30 342 1027.2)" fill="none" stroke="#000" stroke-width="1.3"/>
<path d="M352 1054 A17.1 28.5 -30 0 1 322 1007.9" fill="none" stroke="#000" stroke-width="1.0"/>
<path d="M346.5 1050.6 A15.6 26 -30 0 1 323.4 1015" fill="none" stroke="#000" stroke-width="2.4" stroke-dasharray="2 1.2"/>
<rect x="606.7" y="824.5" width="16" height="11" fill="#fff" transform="rotate(-28 614.7 830.0)"/>
<line x1="605.7" y1="826.5" x2="608.2" y2="835.5" stroke="#000" stroke-width="1.1"/>
<line x1="610.2" y1="825.9" x2="612.7" y2="834.9" stroke="#000" stroke-width="1.1"/>
<line x1="614.7" y1="825.3" x2="617.2" y2="834.3" stroke="#000" stroke-width="1.1"/>
<line x1="619.2" y1="824.7" x2="621.7" y2="833.7" stroke="#000" stroke-width="1.1"/>
<line x1="623.7" y1="824.1" x2="626.2" y2="833.1" stroke="#000" stroke-width="1.1"/>
<line x1="605.7" y1="826" x2="623.7" y2="823" stroke="#000" stroke-width="1.1"/>
<line x1="605.7" y1="831.5" x2="623.7" y2="828.5" stroke="#000" stroke-width="1.1"/>
<line x1="605.7" y1="837" x2="623.7" y2="834" stroke="#000" stroke-width="1.1"/>
<rect x="642.7" y="879.0" width="5" height="20" fill="#fff" stroke="#000" stroke-width="1.2"/>
<line x1="645.2" y1="879" x2="645.2" y2="899" stroke="#000" stroke-width="1.0"/>
<rect x="555.0" y="853.2" width="16" height="11" fill="#fff" transform="rotate(-28 563.0 858.7)"/>
<line x1="554" y1="855.2" x2="556.5" y2="864.2" stroke="#000" stroke-width="1.1"/>
<line x1="558.5" y1="854.6" x2="561" y2="863.6" stroke="#000" stroke-width="1.1"/>
<line x1="563" y1="854" x2="565.5" y2="863" stroke="#000" stroke-width="1.1"/>
<line x1="567.5" y1="853.4" x2="570" y2="862.4" stroke="#000" stroke-width="1.1"/>
<line x1="572" y1="852.8" x2="574.5" y2="861.8" stroke="#000" stroke-width="1.1"/>
<line x1="554" y1="854.7" x2="572" y2="851.7" stroke="#000" stroke-width="1.1"/>
<line x1="554" y1="860.2" x2="572" y2="857.2" stroke="#000" stroke-width="1.1"/>
<line x1="554" y1="865.7" x2="572" y2="862.7" stroke="#000" stroke-width="1.1"/>
<rect x="591.0" y="907.7" width="5" height="20" fill="#fff" stroke="#000" stroke-width="1.2"/>
<line x1="593.5" y1="907.7" x2="593.5" y2="927.7" stroke="#000" stroke-width="1.0"/>
<rect x="503.3" y="881.9" width="16" height="11" fill="#fff" transform="rotate(-28 511.3 887.4)"/>
<line x1="502.3" y1="883.9" x2="504.8" y2="892.9" stroke="#000" stroke-width="1.1"/>
<line x1="506.8" y1="883.3" x2="509.3" y2="892.3" stroke="#000" stroke-width="1.1"/>
<line x1="511.3" y1="882.7" x2="513.8" y2="891.7" stroke="#000" stroke-width="1.1"/>
<line x1="515.8" y1="882.1" x2="518.3" y2="891.1" stroke="#000" stroke-width="1.1"/>
<line x1="520.3" y1="881.5" x2="522.8" y2="890.5" stroke="#000" stroke-width="1.1"/>
<line x1="502.3" y1="883.4" x2="520.3" y2="880.4" stroke="#000" stroke-width="1.1"/>
<line x1="502.3" y1="888.9" x2="520.3" y2="885.9" stroke="#000" stroke-width="1.1"/>
<line x1="502.3" y1="894.4" x2="520.3" y2="891.4" stroke="#000" stroke-width="1.1"/>
<rect x="539.3" y="936.4" width="5" height="20" fill="#fff" stroke="#000" stroke-width="1.2"/>
<line x1="541.8" y1="936.4" x2="541.8" y2="956.4" stroke="#000" stroke-width="1.0"/>
<rect x="451.6" y="910.6" width="16" height="11" fill="#fff" transform="rotate(-28 459.6 916.1)"/>
<line x1="450.6" y1="912.6" x2="453.1" y2="921.6" stroke="#000" stroke-width="1.1"/>
<line x1="455.1" y1="912" x2="457.6" y2="921" stroke="#000" stroke-width="1.1"/>
<line x1="459.6" y1="911.4" x2="462.1" y2="920.4" stroke="#000" stroke-width="1.1"/>
<line x1="464.1" y1="910.8" x2="466.6" y2="919.8" stroke="#000" stroke-width="1.1"/>
<line x1="468.6" y1="910.2" x2="471.1" y2="919.2" stroke="#000" stroke-width="1.1"/>
<line x1="450.6" y1="912.1" x2="468.6" y2="909.1" stroke="#000" stroke-width="1.1"/>
<line x1="450.6" y1="917.6" x2="468.6" y2="914.6" stroke="#000" stroke-width="1.1"/>
<line x1="450.6" y1="923.1" x2="468.6" y2="920.1" stroke="#000" stroke-width="1.1"/>
<rect x="487.6" y="965.1" width="5" height="20" fill="#fff" stroke="#000" stroke-width="1.2"/>
<line x1="490.1" y1="965.1" x2="490.1" y2="985.1" stroke="#000" stroke-width="1.0"/>
<rect x="399.9" y="939.3" width="16" height="11" fill="#fff" transform="rotate(-28 407.9 944.8)"/>
<line x1="398.9" y1="941.3" x2="401.4" y2="950.3" stroke="#000" stroke-width="1.1"/>
<line x1="403.4" y1="940.7" x2="405.9" y2="949.7" stroke="#000" stroke-width="1.1"/>
<line x1="407.9" y1="940.1" x2="410.4" y2="949.1" stroke="#000" stroke-width="1.1"/>
<line x1="412.4" y1="939.5" x2="414.9" y2="948.5" stroke="#000" stroke-width="1.1"/>
<line x1="416.9" y1="938.9" x2="419.4" y2="947.9" stroke="#000" stroke-width="1.1"/>
<line x1="398.9" y1="940.8" x2="416.9" y2="937.8" stroke="#000" stroke-width="1.1"/>
<line x1="398.9" y1="946.3" x2="416.9" y2="943.3" stroke="#000" stroke-width="1.1"/>
<line x1="398.9" y1="951.8" x2="416.9" y2="948.8" stroke="#000" stroke-width="1.1"/>
<rect x="435.9" y="993.8" width="5" height="20" fill="#fff" stroke="#000" stroke-width="1.2"/>
<line x1="438.4" y1="993.8" x2="438.4" y2="1013.8" stroke="#000" stroke-width="1.0"/>
<rect x="348.2" y="968.0" width="16" height="11" fill="#fff" transform="rotate(-28 356.2 973.5)"/>
<line x1="347.2" y1="970" x2="349.7" y2="979" stroke="#000" stroke-width="1.1"/>
<line x1="351.7" y1="969.4" x2="354.2" y2="978.4" stroke="#000" stroke-width="1.1"/>
<line x1="356.2" y1="968.8" x2="358.7" y2="977.8" stroke="#000" stroke-width="1.1"/>
<line x1="360.7" y1="968.2" x2="363.2" y2="977.2" stroke="#000" stroke-width="1.1"/>
<line x1="365.2" y1="967.6" x2="367.7" y2="976.6" stroke="#000" stroke-width="1.1"/>
<line x1="347.2" y1="969.5" x2="365.2" y2="966.5" stroke="#000" stroke-width="1.1"/>
<line x1="347.2" y1="975" x2="365.2" y2="972" stroke="#000" stroke-width="1.1"/>
<line x1="347.2" y1="980.5" x2="365.2" y2="977.5" stroke="#000" stroke-width="1.1"/>
<rect x="384.2" y="1022.5" width="5" height="20" fill="#fff" stroke="#000" stroke-width="1.2"/>
<line x1="386.7" y1="1022.5" x2="386.7" y2="1042.5" stroke="#000" stroke-width="1.0"/>
<path d="M569.2 470.1 A15.8 26.4 -30 0 1 560.1 501.8 A15.8 26.4 -30 0 1 537.2 462.2 A15.8 26.4 -30 0 1 569.2 470.1Z M567.2 471.2 A13.5 22.5 -30 0 1 559.4 498.2 A13.5 22.5 -30 0 1 539.9 464.5 A13.5 22.5 -30 0 1 567.2 471.2Z" fill="#fff" stroke="#000" stroke-width="1.4" fill-rule="evenodd"/>
<path d="M637.5 489.4 A29.4 49 -30 0 1 587.5 461.7 A29.4 49 -30 0 1 588.5 404.6 L594.6 401.1 A29.4 49 -30 0 1 644.5 428.8 A29.4 49 -30 0 1 643.6 485.9Z" fill="#fff" stroke="#000" stroke-width="1.6"/>
<path d="M591.5 402.8 A29.4 49 -30 0 1 641.5 430.6 A29.4 49 -30 0 1 640.5 487.7" fill="none" stroke="#000" stroke-width="1.3"/>
<path d="M638.5 432.3 A29.4 49 -30 0 1 621.5 491.1 A29.4 49 -30 0 1 579.1 417.6 A29.4 49 -30 0 1 638.5 432.3Z M627.8 433.9 A18.3 29.5 -30 0 1 616.9 469.7 A18.3 29.5 -30 0 1 591.3 425.4 A18.3 29.5 -30 0 1 627.8 433.9Z" fill="#fff" stroke="#000" stroke-width="1.6" fill-rule="evenodd"/>
<ellipse cx="612" cy="443" rx="17.1" ry="27.5" transform="rotate(-30 612 443)" fill="none" stroke="#000" stroke-width="2.6"/>
<clipPath id="c4"><ellipse cx="612" cy="443" rx="18.3" ry="29.5" transform="rotate(-30 612 443)"/></clipPath><g clip-path="url(#c4)">
<path d="M638.8 457.1 A18.3 29.5 -30 0 1 602.2 448.6 A18.3 29.5 -30 0 1 613.2 412.8" fill="none" stroke="#000" stroke-width="1.6"/>
</g>
<ellipse cx="612.5" cy="444" rx="27.9" ry="46.5" transform="rotate(-30 612.5 444)" fill="none" stroke="#000" stroke-width="1.1"/>
<path d="M595.1 454.7l-4.9 3 -6.7 -15 6.3 0.3Z" fill="none" stroke="#000" stroke-width="1.5"/>
<path d="M592.3 452.7l-2.5 1.1 -3.4 -7.8 2.9 -0.2Z" fill="none" stroke="#000" stroke-width="1.1"/>
<path d="M588.1 433.4l-6.8 -3 1.3 -13.1 6.5 5.8Z" fill="none" stroke="#000" stroke-width="1.5"/>
<path d="M586.2 429.9l-3.2 -1.7 0.7 -6.7 3.2 2.5Z" fill="none" stroke="#000" stroke-width="1.1"/>
<path d="M592.4 417l-5.6 -7.5 8.6 -5 3.7 8.6Z" fill="none" stroke="#000" stroke-width="1.5"/>
<path d="M592.4 413.7l-2.5 -3.7 4.5 -2.6 2 4Z" fill="none" stroke="#000" stroke-width="1.1"/>
<path d="M606.2 413.3l-1.8 -8.6 11.9 5.4 -0.8 7.4Z" fill="none" stroke="#000" stroke-width="1.5"/>
<path d="M608 411.7l-0.6 -4 6.2 2.8 -0.1 3.7Z" fill="none" stroke="#000" stroke-width="1.1"/>
<path d="M622.9 423.9l2.9 -5.6 9.7 13.3 -5 2.7Z" fill="none" stroke="#000" stroke-width="1.5"/>
<path d="M625.7 424.8l1.6 -2.4 5 6.9 -2.2 1.6Z" fill="none" stroke="#000" stroke-width="1.1"/>
<path d="M634.7 443.9l6.2 -0 2.9 14.9 -6.8 -3.2Z" fill="none" stroke="#000" stroke-width="1.5"/>
<path d="M637.2 446.9l3.1 0.4 1.5 7.7 -3.2 -1.2Z" fill="none" stroke="#000" stroke-width="1.1"/>
<path d="M636.2 464l6.6 5.6 -5.3 9.6 -5.5 -7.7Z" fill="none" stroke="#000" stroke-width="1.5"/>
<path d="M637.2 467.6l3 2.9 -2.7 5 -2.7 -3.5Z" fill="none" stroke="#000" stroke-width="1.1"/>
<path d="M626.5 474.7l3.9 8.6 -10.9 -0.2 -1.5 -8.5Z" fill="none" stroke="#000" stroke-width="1.5"/>
<path d="M625.6 477.3l1.6 4.1 -5.7 -0.1 -1 -4.1Z" fill="none" stroke="#000" stroke-width="1.1"/>
<path d="M610.3 471l-0.6 7.5 -11.5 -10 3.1 -5.4Z" fill="none" stroke="#000" stroke-width="1.5"/>
<path d="M607.9 471.4l-0.6 3.4 -5.9 -5.1 1.2 -2.8Z" fill="none" stroke="#000" stroke-width="1.1"/>
<path d="M711.7 388.9 A26.2 47.6 -30 0 1 698.3 444.2 A26.2 47.6 -30 0 1 657.1 372.8 A26.2 47.6 -30 0 1 711.7 388.9Z M710.6 389.5 A25 45.4 -30 0 1 697.8 442.3 A25 45.4 -30 0 1 658.5 374.2 A25 45.4 -30 0 1 710.6 389.5Z" fill="#fff" stroke="#000" stroke-width="1.4" fill-rule="evenodd"/>
<path d="M755.9 362.2 A17.3 29.3 -30 0 1 746.1 397.1 A17.3 29.3 -30 0 1 720.7 353.1 A17.3 29.3 -30 0 1 755.9 362.2Z M754.7 362.8 A15.9 27 -30 0 1 745.7 395 A15.9 27 -30 0 1 722.3 354.5 A15.9 27 -30 0 1 754.7 362.8Z" fill="#fff" stroke="#000" stroke-width="1.4" fill-rule="evenodd"/>
<path d="M749.1 848.1 A29.7 50.3 -30 0 1 698.3 819.3 A29.7 50.3 -30 0 1 698.9 760.9 L702.3 758.9 A29.7 50.3 -30 0 1 753.2 787.7 A29.7 50.3 -30 0 1 752.6 846.1Z" fill="#fff" stroke="#000" stroke-width="1.4"/>
<path d="M749.7 789.7 A29.7 50.3 -30 0 1 732.9 849.6 A29.7 50.3 -30 0 1 689.4 774.2 A29.7 50.3 -30 0 1 749.7 789.7Z M738.1 795.7 A18.5 30.9 -30 0 1 727.4 832.8 A18.5 30.9 -30 0 1 700.6 786.5 A18.5 30.9 -30 0 1 738.1 795.7Z" fill="#fff" stroke="#000" stroke-width="1.4" fill-rule="evenodd"/>
<path d="M736 829.2 A16.8 28 -30 0 1 707.5 813.4 A16.8 28 -30 0 1 708 780.8" fill="none" stroke="#000" stroke-width="1.1"/>
<path d="M798.1 729.6 A29.6 52 -30 0 1 789.4 807.6 A29.6 52 -30 0 1 781.1 719.5 L781.5 721.7 A28.2 49.5 -30 0 0 789.4 805.6 A28.2 49.5 -30 0 0 797.7 731.3Z" fill="#fff" stroke="#000" stroke-width="1.4"/>
<path d="M866.6 721.4 A15.1 27.5 -30 0 1 858.9 753.4 A15.1 27.5 -30 0 1 835 712.2 A15.1 27.5 -30 0 1 866.6 721.4Z M865.2 722.3 A13.5 24.5 -30 0 1 858.3 750.7 A13.5 24.5 -30 0 1 837.1 714 A13.5 24.5 -30 0 1 865.2 722.3Z" fill="#fff" stroke="#000" stroke-width="1.4" fill-rule="evenodd"/>
<path d="M970.2 756.4 A49.5 82.5 -30 0 1 886.1 709.8 A49.5 82.5 -30 0 1 887.8 613.6 L893.2 613l0.3 -2.6 2.1 -1 2.4 1.4 2.2 -0.7 0.6 -2.4 2.4 -0.4 2.4 1.8 2.4 -0.1 1 -2 2.6 0.1 2.3 2.2 2.6 0.4 1.3 -1.6 2.7 0.7 2.1 2.5 2.7 0.9 1.6 -1.2 2.8 1.2 1.9 2.8 2.7 1.4 1.9 -0.7 2.8 1.7 1.7 2.9 2.7 1.9 2.1 -0.3 2.7 2.2 1.4 3.1 2.6 2.3 2.3 0.2 2.6 2.6 1 3.1 2.4 2.7 2.4 0.7 2.4 3 0.7 3.1 2.2 3 2.4 1.2 2.1 3.2 0.3 2.9 1.9 3.2 2.4 1.6 1.8 3.4 -0.1 2.8 1.6 3.4 2.3 2 1.5 3.5 -0.5 2.5 1.2 3.5 2.2 2.3 1.1 3.6 -0.8 2.2 0.9 3.4 2 2.6 0.7 3.5 -1.2 1.8 0.4 3.3 1.8 2.8 0.2 3.3 -1.5 1.4 0 3.2 1.5 3 -0.2 3.1 -1.8 1 -0.4 2.9 1.2 3.1 -0.6 2.8 -2 0.5 -0.8 2.6 0.9 3.1 -1.1 2.4 -2.2 0 -1.2 2.2 0.5 3 -1.5 2 -2.3 -0.5 -1.6 1.7 0.1 2.9 -1.8 1.5 -2.4 -1 -1.9 1.2Z" fill="#fff" stroke="#000" stroke-width="1.4"/>
<line x1="900.3" y1="609.6" x2="904.6" y2="607.1" stroke="#000" stroke-width="1.2"/>
<line x1="909.7" y1="609.8" x2="914.1" y2="607.3" stroke="#000" stroke-width="1.2"/>
<line x1="919.8" y1="612.3" x2="924.1" y2="609.8" stroke="#000" stroke-width="1.2"/>
<line x1="930.1" y1="617" x2="934.5" y2="614.5" stroke="#000" stroke-width="1.2"/>
<line x1="940.5" y1="623.7" x2="944.8" y2="621.2" stroke="#000" stroke-width="1.2"/>
<line x1="950.4" y1="632.4" x2="954.7" y2="629.9" stroke="#000" stroke-width="1.2"/>
<line x1="959.7" y1="642.6" x2="964.1" y2="640.1" stroke="#000" stroke-width="1.2"/>
<line x1="968.1" y1="654.1" x2="972.4" y2="651.6" stroke="#000" stroke-width="1.2"/>
<line x1="975.3" y1="666.6" x2="979.6" y2="664.1" stroke="#000" stroke-width="1.2"/>
<line x1="981.1" y1="679.6" x2="985.4" y2="677.1" stroke="#000" stroke-width="1.2"/>
<line x1="985.3" y1="692.8" x2="989.6" y2="690.3" stroke="#000" stroke-width="1.2"/>
<line x1="987.8" y1="705.7" x2="992.1" y2="703.2" stroke="#000" stroke-width="1.2"/>
<line x1="988.5" y1="718" x2="992.8" y2="715.5" stroke="#000" stroke-width="1.2"/>
<line x1="987.4" y1="729.3" x2="991.7" y2="726.8" stroke="#000" stroke-width="1.2"/>
<line x1="984.5" y1="739.3" x2="988.8" y2="736.8" stroke="#000" stroke-width="1.2"/>
<line x1="979.9" y1="747.6" x2="984.3" y2="745.1" stroke="#000" stroke-width="1.2"/>
<path d="M971.9 660.2 A49.5 82.5 -30 0 1 943.3 759.2 A49.5 82.5 -30 0 1 871.8 635.5 A49.5 82.5 -30 0 1 971.9 660.2Z" fill="#fff" stroke="#000" stroke-width="1.4" fill-rule="evenodd"/>
<ellipse cx="924.6" cy="687.4" rx="33.2" ry="59.3" transform="rotate(-30 924.6 687.4)" fill="none" stroke="#000" stroke-width="1.1"/>
<path d="M929 716 A18 30 -30 0 1 898.4 699 A18 30 -30 0 1 899 664 L909.4 658l2.1 1.7 1.3 -0.5 -0 -2.5 1.6 -0.2 1.9 2.3 1.6 0.1 0.6 -2.1 1.8 0.5 1.5 2.6 1.7 0.7 1.1 -1.5 1.9 1.1 1 2.7 1.7 1.3 1.6 -0.8 1.8 1.6 0.4 2.7 1.5 1.7 1.9 -0 1.5 2 -0.2 2.3 1.2 2 2.1 0.7 1.1 2.3 -0.8 1.9 0.8 2.1 2.1 1.5 0.7 2.4 -1.4 1.2 0.4 2.1 2 2.1 0.2 2.2 -1.8 0.5 -0.1 1.9 1.6 2.5 -0.4 1.9 -2 -0.3 -0.6 1.6 1.2 2.7 -0.8 1.4 -2.2 -1.1 -1 1.1 0.6 2.7 -1.3 0.9Z" fill="#fff" stroke="#000" stroke-width="1.4"/>
<line x1="906.4" y1="662.6" x2="916.8" y2="656.6" stroke="#000" stroke-width="1.6"/>
<line x1="908.2" y1="662.9" x2="918.6" y2="656.9" stroke="#000" stroke-width="1.6"/>
<line x1="916.3" y1="666.4" x2="926.7" y2="660.4" stroke="#000" stroke-width="1.6"/>
<line x1="918.2" y1="667.7" x2="928.6" y2="661.7" stroke="#000" stroke-width="1.6"/>
<line x1="925.7" y1="675.3" x2="936.1" y2="669.3" stroke="#000" stroke-width="1.6"/>
<line x1="927.2" y1="677.3" x2="937.6" y2="671.3" stroke="#000" stroke-width="1.6"/>
<line x1="932.6" y1="687.2" x2="943" y2="681.2" stroke="#000" stroke-width="1.6"/>
<line x1="933.5" y1="689.6" x2="943.9" y2="683.6" stroke="#000" stroke-width="1.6"/>
<line x1="935.6" y1="699.8" x2="946" y2="693.8" stroke="#000" stroke-width="1.6"/>
<line x1="935.6" y1="702" x2="946" y2="696" stroke="#000" stroke-width="1.6"/>
<line x1="933.9" y1="710.3" x2="944.3" y2="704.3" stroke="#000" stroke-width="1.6"/>
<line x1="933.1" y1="711.8" x2="943.5" y2="705.8" stroke="#000" stroke-width="1.6"/>
<path d="M929.6 681 A18 30 -30 0 1 919.2 717 A18 30 -30 0 1 893.2 672 A18 30 -30 0 1 929.6 681Z" fill="#fff" stroke="#000" stroke-width="1.4" fill-rule="evenodd"/>
<path d="M919.8 717.5 A16.9 26 -30 0 1 892.2 703.5 A16.9 26 -30 0 1 893.8 672.5 L902.5 667.5 A16.9 26 -30 0 1 930.1 681.5 A16.9 26 -30 0 1 928.5 712.5Z" fill="#fff" stroke="#000" stroke-width="1.4"/>
<path d="M921.4 686.5 A16.9 26 -30 0 1 910.7 718.7 A16.9 26 -30 0 1 888.2 679.7 A16.9 26 -30 0 1 921.4 686.5Z M916.4 691.6 A12 19.6 -30 0 1 909.3 715.3 A12 19.6 -30 0 1 892.3 685.9 A12 19.6 -30 0 1 916.4 691.6Z" fill="#fff" stroke="#000" stroke-width="1.4" fill-rule="evenodd"/>
<clipPath id="c5"><ellipse cx="906" cy="697.6" rx="12" ry="19.6" transform="rotate(-30 906 697.6)"/></clipPath><g clip-path="url(#c5)">
<path d="M928.3 704.3 A12 19.6 -30 0 1 904.3 698.6 A12 19.6 -30 0 1 911.4 674.9" fill="none" stroke="#000" stroke-width="1.1"/>
</g>
<path d="M913 713.5 A10.7 17.5 -30 0 1 894.6 685.2" fill="none" stroke="#000" stroke-width="1.8"/>
<path d="M160.8 1129.4 A17.1 29.5 -30 0 1 151.4 1164.4 A17.1 29.5 -30 0 1 125.8 1120.2 A17.1 29.5 -30 0 1 160.8 1129.4Z M159.7 1130.1 A15.8 27.3 -30 0 1 151 1162.4 A15.8 27.3 -30 0 1 127.3 1121.5 A15.8 27.3 -30 0 1 159.7 1130.1Z" fill="#fff" stroke="#000" stroke-width="1.4" fill-rule="evenodd"/>
<path d="M221.3 1095.1 A26.9 46.4 -30 0 1 206.4 1150.1 A26.9 46.4 -30 0 1 166.3 1080.5 A26.9 46.4 -30 0 1 221.3 1095.1Z M220.2 1095.8 A25.6 44.2 -30 0 1 206 1148.2 A25.6 44.2 -30 0 1 167.8 1081.9 A25.6 44.2 -30 0 1 220.2 1095.8Z" fill="#fff" stroke="#000" stroke-width="1.4" fill-rule="evenodd"/>
<path d="M283 1112.6 A27.8 48 -30 0 1 234.9 1084.9 A27.8 48 -30 0 1 235 1029.4 L242.8 1024.9 A27.8 48 -30 0 1 290.9 1052.6 A27.8 48 -30 0 1 290.8 1108.1Z" fill="#fff" stroke="#000" stroke-width="2.2"/>
<path d="M235.1 1030.2 A27.8 48 -30 0 1 287 1054.8 A27.8 48 -30 0 1 282.3 1112.1" fill="none" stroke="#000" stroke-width="2.4"/>
<path d="M283.1 1057.1 A27.8 48 -30 0 1 267.7 1114 A27.8 48 -30 0 1 226.2 1042 A27.8 48 -30 0 1 283.1 1057.1Z M273.3 1064.4 A18.2 29.9 -30 0 1 262.5 1100.5 A18.2 29.9 -30 0 1 236.7 1055.6 A18.2 29.9 -30 0 1 273.3 1064.4Z" fill="#fff" stroke="#000" stroke-width="1.4" fill-rule="evenodd"/>
<path d="M227.5 1043.2 A26.7 46 -30 0 1 261.9 1035.2" fill="none" stroke="#000" stroke-width="2.4"/>
<path d="M273.3 1095.1 A16.5 27 -30 0 1 243.2 1081.7 A16.5 27 -30 0 1 246.7 1049" fill="none" stroke="#000" stroke-width="2.6"/>
<clipPath id="c6"><ellipse cx="257.5" cy="1073.5" rx="18.2" ry="29.9" transform="rotate(-30 257.5 1073.5)"/></clipPath><g clip-path="url(#c6)">
<path d="M285.3 1087.4 A18.2 29.9 -30 0 1 248.6 1078.6 A18.2 29.9 -30 0 1 259.4 1042.5" fill="none" stroke="#000" stroke-width="1.4"/>
</g>
<path d="M754.1 1187.7 A11.2 25 -30 0 1 731.9 1171.6 A11.2 25 -30 0 1 729.1 1144.3 L739.5 1138.3 A11.2 25 -30 0 1 761.7 1154.4 A11.2 25 -30 0 1 764.5 1181.7Z" fill="#fff" stroke="#000" stroke-width="1.4"/>
<line x1="751.2" y1="1188.4" x2="761.6" y2="1182.4" stroke="#000" stroke-width="1.6"/>
<line x1="746.3" y1="1187" x2="756.7" y2="1181" stroke="#000" stroke-width="1.6"/>
<line x1="740.8" y1="1183" x2="751.2" y2="1177" stroke="#000" stroke-width="1.6"/>
<line x1="735.4" y1="1177" x2="745.8" y2="1171" stroke="#000" stroke-width="1.6"/>
<line x1="730.8" y1="1169.7" x2="741.2" y2="1163.7" stroke="#000" stroke-width="1.6"/>
<line x1="727.5" y1="1161.9" x2="737.9" y2="1155.9" stroke="#000" stroke-width="1.6"/>
<line x1="725.9" y1="1154.7" x2="736.3" y2="1148.7" stroke="#000" stroke-width="1.6"/>
<line x1="726.2" y1="1148.8" x2="736.6" y2="1142.8" stroke="#000" stroke-width="1.6"/>
<path d="M761.7 1154.4 A11.2 25 -30 0 1 758 1181.6 A11.2 25 -30 0 1 736.3 1144.1 A11.2 25 -30 0 1 761.7 1154.4Z M759.4 1155.8 A8.5 17 -30 0 1 755.7 1174.9 A8.5 17 -30 0 1 741 1149.4 A8.5 17 -30 0 1 759.4 1155.8Z" fill="#fff" stroke="#000" stroke-width="1.4" fill-rule="evenodd"/>
<clipPath id="c7"><ellipse cx="752" cy="1160" rx="8.5" ry="17" transform="rotate(-30 752 1160)"/></clipPath><g clip-path="url(#c7)">
<path d="M730.6 1155.4 A8.5 17 -30 0 1 749 1161.8 A8.5 17 -30 0 1 745.3 1180.9" fill="none" stroke="#000" stroke-width="1.1"/>
</g>
<path d="M801.3 1127.7 A13.6 28.4 -30 0 1 795.9 1159.2 A13.6 28.4 -30 0 1 771.3 1116.6 A13.6 28.4 -30 0 1 801.3 1127.7Z M799.9 1128.5 A12 25 -30 0 1 795.1 1156.2 A12 25 -30 0 1 773.5 1118.8 A12 25 -30 0 1 799.9 1128.5Z" fill="#fff" stroke="#000" stroke-width="1.4" fill-rule="evenodd"/>
<path d="M843.2 1104.2 A16.1 26.9 -30 0 1 833.9 1136.5 A16.1 26.9 -30 0 1 810.6 1096.2 A16.1 26.9 -30 0 1 843.2 1104.2Z M838.9 1107.2 A10.8 17.5 -30 0 1 832.4 1128.4 A10.8 17.5 -30 0 1 817.2 1102.2 A10.8 17.5 -30 0 1 838.9 1107.2Z" fill="#fff" stroke="#000" stroke-width="1.4" fill-rule="evenodd"/>
<ellipse cx="829.5" cy="1112.6" rx="9.4" ry="15.2" transform="rotate(-30 829.5 1112.6)" fill="none" stroke="#000" stroke-width="2.2"/>
<path d="M885.5 1112.4 A14.9 27 -30 0 1 859.1 1096.4 A14.9 27 -30 0 1 858.5 1065.6 L867.2 1060.6 A14.9 27 -30 0 1 893.5 1076.6 A14.9 27 -30 0 1 894.2 1107.4Z" fill="#fff" stroke="#000" stroke-width="1.4"/>
<path d="M884.9 1081.6 A14.9 27 -30 0 1 877.3 1113 A14.9 27 -30 0 1 853.9 1072.5 A14.9 27 -30 0 1 884.9 1081.6Z" fill="#fff" stroke="#000" stroke-width="1.4" fill-rule="evenodd"/>
<ellipse cx="873" cy="1089" rx="6.6" ry="11" transform="rotate(-30 873 1089)" fill="none" stroke="#000" stroke-width="1.1"/>
<ellipse cx="882.9" cy="1088.1" rx="6" ry="7" transform="rotate(-30 882.9 1088.1)" fill="none" stroke="#000" stroke-width="1.1"/>
<ellipse cx="883" cy="1102.7" rx="6" ry="7" transform="rotate(-30 883 1102.7)" fill="none" stroke="#000" stroke-width="1.1"/>
<ellipse cx="872.1" cy="1103.7" rx="6" ry="7" transform="rotate(-30 872.1 1103.7)" fill="none" stroke="#000" stroke-width="1.1"/>
<ellipse cx="861.1" cy="1089.9" rx="6" ry="7" transform="rotate(-30 861.1 1089.9)" fill="none" stroke="#000" stroke-width="1.1"/>
<ellipse cx="861" cy="1075.3" rx="6" ry="7" transform="rotate(-30 861 1075.3)" fill="none" stroke="#000" stroke-width="1.1"/>
<ellipse cx="871.9" cy="1074.3" rx="6" ry="7" transform="rotate(-30 871.9 1074.3)" fill="none" stroke="#000" stroke-width="1.1"/>
<path d="M918 1061.5 A10.5 17.2 -30 0 1 911.8 1082.2 A10.5 17.2 -30 0 1 896.9 1056.4 A10.5 17.2 -30 0 1 918 1061.5Z M916.1 1062.6 A8.3 13.6 -30 0 1 911.2 1079 A8.3 13.6 -30 0 1 899.4 1058.6 A8.3 13.6 -30 0 1 916.1 1062.6Z" fill="#fff" stroke="#000" stroke-width="1.4" fill-rule="evenodd"/>
<ellipse cx="908.9" cy="1066.7" rx="9.4" ry="15.4" transform="rotate(-30 908.9 1066.7)" fill="none" stroke="#000" stroke-width="1.6" stroke-dasharray="2.5 1.5"/>
<path d="M943.3 1046.6 A10.5 17.2 -30 0 1 937.1 1067.3 A10.5 17.2 -30 0 1 922.2 1041.5 A10.5 17.2 -30 0 1 943.3 1046.6Z M941.4 1047.7 A8.3 13.6 -30 0 1 936.5 1064.1 A8.3 13.6 -30 0 1 924.7 1043.7 A8.3 13.6 -30 0 1 941.4 1047.7Z" fill="#fff" stroke="#000" stroke-width="1.4" fill-rule="evenodd"/>
<ellipse cx="934.2" cy="1051.8" rx="9.4" ry="15.4" transform="rotate(-30 934.2 1051.8)" fill="none" stroke="#000" stroke-width="1.6" stroke-dasharray="2.5 1.5"/>
<path d="M968.6 1031.3 A10.5 17.2 -30 0 1 962.4 1052 A10.5 17.2 -30 0 1 947.5 1026.2 A10.5 17.2 -30 0 1 968.6 1031.3Z M966.7 1032.4 A8.3 13.6 -30 0 1 961.8 1048.8 A8.3 13.6 -30 0 1 950 1028.4 A8.3 13.6 -30 0 1 966.7 1032.4Z" fill="#fff" stroke="#000" stroke-width="1.4" fill-rule="evenodd"/>
<ellipse cx="959.5" cy="1036.5" rx="9.4" ry="15.4" transform="rotate(-30 959.5 1036.5)" fill="none" stroke="#000" stroke-width="1.6" stroke-dasharray="2.5 1.5"/>
<text x="552.7" y="19">6</text>
<text x="470" y="66">7</text>
<path d="M384.7 97.9 L387.9 97.9 L387.9 114.5 L384.7 114.5 L384.7 103.3 L382.9 103.3 L382.9 104.5 L381 104.5 L381 101.7 L382.9 101.7 L382.9 100 L384.7 100Z" fill="#0000ff"/>
<text x="392.4" y="114.5">7</text>
<path d="M311.4 138.3 L314.6 138.3 L314.6 154.9 L311.4 154.9 L311.4 143.7 L309.6 143.7 L309.6 144.9 L307.7 144.9 L307.7 142.1 L309.6 142.1 L309.6 140.4 L311.4 140.4Z" fill="#0000ff"/>
<text x="319.1" y="154.9">2</text>
<path d="M242.4 178.6 L245.6 178.6 L245.6 195.2 L242.4 195.2 L242.4 184 L240.6 184 L240.6 185.2 L238.7 185.2 L238.7 182.4 L240.6 182.4 L240.6 180.7 L242.4 180.7Z" fill="#0000ff"/>
<path d="M256.1 178.6 L259.3 178.6 L259.3 195.2 L256.1 195.2 L256.1 184 L254.3 184 L254.3 185.2 L252.4 185.2 L252.4 182.4 L254.3 182.4 L254.3 180.7 L256.1 180.7Z" fill="#0000ff"/>
<path d="M196.5 203.4 L199.7 203.4 L199.7 220 L196.5 220 L196.5 208.8 L194.7 208.8 L194.7 210 L192.8 210 L192.8 207.2 L194.7 207.2 L194.7 205.5 L196.5 205.5Z" fill="#0000ff"/>
<text x="204.2" y="220">5</text>
<path d="M143 235.4 L146.2 235.4 L146.2 252 L143 252 L143 240.8 L141.2 240.8 L141.2 242 L139.3 242 L139.3 239.2 L141.2 239.2 L141.2 237.5 L143 237.5Z" fill="#0000ff"/>
<text x="150.7" y="252">8</text>
<text x="66.4" y="294.4">2</text>
<text x="80" y="294.4">0</text>
<path d="M953.9 378.4 L957.1 378.4 L957.1 395 L953.9 395 L953.9 383.8 L952.1 383.8 L952.1 385 L950.2 385 L950.2 382.2 L952.1 382.2 L952.1 380.5 L953.9 380.5Z" fill="#0000ff"/>
<text x="797.2" y="482.5">9</text>
<text x="729.9" y="521">8</text>
<text x="652.8" y="565">2</text>
<path d="M573.3 591.2 L576.5 591.2 L576.5 607.8 L573.3 607.8 L573.3 596.6 L571.5 596.6 L571.5 597.8 L569.6 597.8 L569.6 595 L571.5 595 L571.5 593.3 L573.3 593.3Z" fill="#0000ff"/>
<text x="581" y="607.8">0</text>
<text x="281.4" y="779.8">3</text>
<text x="239" y="803.2">5</text>
<text x="204.6" y="825">4</text>
<path d="M972.3 805.6 L975.5 805.6 L975.5 822.2 L972.3 822.2 L972.3 811 L970.5 811 L970.5 812.2 L968.6 812.2 L968.6 809.4 L970.5 809.4 L970.5 807.7 L972.3 807.7Z" fill="#0000ff"/>
<text x="980" y="822.2">6</text>
<path d="M887.9 825.8 L891.1 825.8 L891.1 842.4 L887.9 842.4 L887.9 831.2 L886.1 831.2 L886.1 832.4 L884.2 832.4 L884.2 829.6 L886.1 829.6 L886.1 827.9 L887.9 827.9Z" fill="#0000ff"/>
<text x="895.6" y="842.4">0</text>
<text x="824.8" y="880.7">7</text>
<text x="752.2" y="923">6</text>
<text x="440" y="1103">3</text>
<text x="401.1" y="1126.8">5</text>
<text x="366.2" y="1146.7">4</text>
<text x="282.9" y="1194">2</text>
<text x="209.5" y="1237.5">8</text>
<text x="150.2" y="1271">9</text>
<text x="971.3" y="1143.3">2</text>
<path d="M990.9 1126.7 L994.1 1126.7 L994.1 1143.3 L990.9 1143.3 L990.9 1132.1 L989.1 1132.1 L989.1 1133.3 L987.2 1133.3 L987.2 1130.5 L989.1 1130.5 L989.1 1128.8 L990.9 1128.8Z" fill="#0000ff"/>
<path d="M911.4 1164.7 L914.6 1164.7 L914.6 1181.3 L911.4 1181.3 L911.4 1170.1 L909.6 1170.1 L909.6 1171.3 L907.7 1171.3 L907.7 1168.5 L909.6 1168.5 L909.6 1166.8 L911.4 1166.8Z" fill="#0000ff"/>
<text x="919.1" y="1181.3">9</text>
<path d="M858.4 1193.9 L861.6 1193.9 L861.6 1210.5 L858.4 1210.5 L858.4 1199.3 L856.6 1199.3 L856.6 1200.5 L854.7 1200.5 L854.7 1197.7 L856.6 1197.7 L856.6 1196 L858.4 1196Z" fill="#0000ff"/>
<text x="866.1" y="1210.5">4</text>
<path d="M810.2 1222.4 L813.4 1222.4 L813.4 1239 L810.2 1239 L810.2 1227.8 L808.4 1227.8 L808.4 1229 L806.5 1229 L806.5 1226.2 L808.4 1226.2 L808.4 1224.5 L810.2 1224.5Z" fill="#0000ff"/>
<text x="817.9" y="1239">0</text>
<path d="M759.3 1252.3 L762.5 1252.3 L762.5 1268.9 L759.3 1268.9 L759.3 1257.7 L757.5 1257.7 L757.5 1258.9 L755.6 1258.9 L755.6 1256.1 L757.5 1256.1 L757.5 1254.4 L759.3 1254.4Z" fill="#0000ff"/>
<text x="767" y="1268.9">3</text>
<rect x="0" y="0" width="1090" height="2" fill="#808080"/>
<rect x="0" y="0" width="2" height="1384" fill="#808080"/>
<rect x="1088" y="2" width="2" height="1380" fill="#000"/>
<rect x="0" y="1382" width="1090" height="2" fill="#d4d0c8"/>
</svg>
</body></html>
